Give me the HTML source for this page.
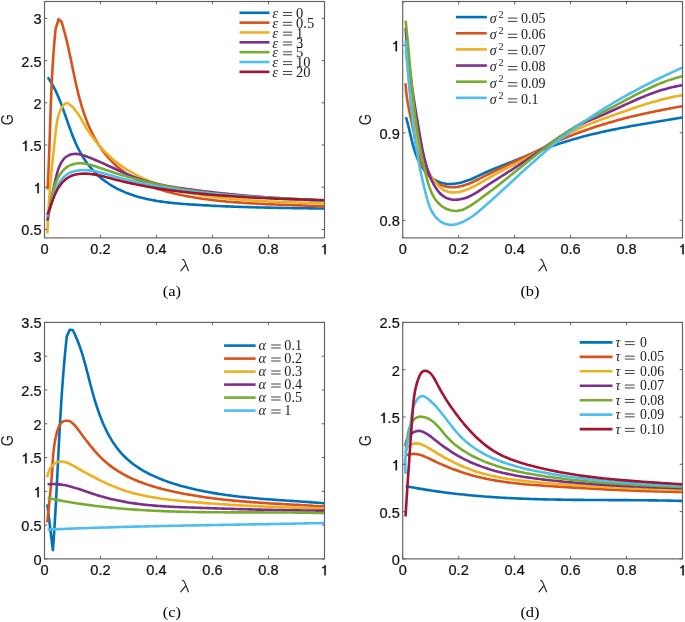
<!DOCTYPE html>
<html><head><meta charset="utf-8"><style>
html,body{margin:0;padding:0;background:#fff;}
svg{display:block;will-change:transform;}
text{font-kerning:none;}
</style></head><body>
<svg width="685" height="622" viewBox="0 0 685 622">
<rect width="685" height="622" fill="#fff"/>
<g fill="none" stroke-width="2.6" stroke-linejoin="round" stroke-linecap="butt">
<path d="M47.82,77.30 C48.37,78.12 48.94,78.94 49.48,79.77 C50.03,80.60 50.55,81.44 51.06,82.29 C51.57,83.13 52.07,83.99 52.56,84.86 C53.04,85.73 53.51,86.60 53.97,87.49 C54.43,88.37 54.88,89.26 55.32,90.16 C55.76,91.06 56.19,91.97 56.61,92.88 C57.03,93.79 57.43,94.71 57.83,95.64 C58.24,96.57 58.63,97.50 59.01,98.43 C59.40,99.37 59.78,100.31 60.15,101.26 C60.52,102.21 60.89,103.16 61.25,104.12 C61.61,105.07 61.97,106.03 62.32,107.00 C62.67,107.96 63.02,108.93 63.37,109.90 C63.72,110.87 64.06,111.84 64.40,112.81 C64.75,113.79 65.09,114.77 65.43,115.74 C65.77,116.72 66.11,117.70 66.45,118.68 C66.79,119.66 67.13,120.64 67.47,121.62 C67.81,122.60 68.15,123.59 68.50,124.57 C68.85,125.54 69.19,126.52 69.55,127.50 C69.90,128.48 70.25,129.45 70.61,130.43 C70.97,131.40 71.33,132.37 71.70,133.34 C72.07,134.31 72.44,135.27 72.82,136.23 C73.20,137.19 73.59,138.15 73.98,139.10 C74.38,140.05 74.78,141.00 75.19,141.94 C75.60,142.89 76.02,143.82 76.44,144.76 C76.87,145.69 77.31,146.61 77.75,147.53 C78.20,148.45 78.66,149.36 79.13,150.26 C79.59,151.17 80.07,152.06 80.57,152.95 C81.06,153.84 81.56,154.72 82.08,155.59 C82.60,156.46 83.13,157.32 83.67,158.18 C84.21,159.03 84.77,159.87 85.34,160.70 C85.91,161.53 86.49,162.36 87.09,163.17 C87.68,163.98 88.29,164.78 88.91,165.57 C89.53,166.36 90.16,167.14 90.81,167.90 C91.46,168.67 92.12,169.42 92.79,170.17 C93.46,170.91 94.15,171.64 94.85,172.35 C95.55,173.07 96.26,173.77 96.98,174.46 C97.71,175.15 98.45,175.82 99.20,176.48 C99.95,177.15 100.71,177.79 101.48,178.42 C102.26,179.06 103.05,179.67 103.84,180.28 C104.64,180.88 105.45,181.47 106.27,182.05 C107.09,182.62 107.92,183.18 108.76,183.73 C109.60,184.28 110.45,184.81 111.31,185.33 C112.17,185.85 113.04,186.36 113.91,186.85 C114.78,187.34 115.67,187.82 116.56,188.29 C117.44,188.75 118.34,189.20 119.24,189.64 C120.14,190.08 121.05,190.50 121.97,190.91 C122.88,191.33 123.80,191.72 124.72,192.11 C125.65,192.49 126.58,192.87 127.51,193.23 C128.45,193.59 129.39,193.94 130.33,194.27 C131.27,194.61 132.22,194.94 133.18,195.25 C134.13,195.57 135.09,195.87 136.05,196.16 C137.01,196.45 137.98,196.74 138.95,197.01 C139.92,197.28 140.90,197.54 141.87,197.79 C142.85,198.04 143.83,198.29 144.82,198.52 C145.80,198.75 146.79,198.98 147.78,199.19 C148.78,199.41 149.77,199.61 150.77,199.81 C151.77,200.01 152.77,200.20 153.77,200.38 C154.77,200.57 155.78,200.74 156.79,200.91 C157.80,201.08 158.81,201.23 159.82,201.39 C160.83,201.54 161.85,201.69 162.86,201.83 C163.88,201.97 164.90,202.10 165.92,202.23 C166.94,202.36 167.96,202.48 168.98,202.60 C170.01,202.72 171.03,202.83 172.06,202.94 C173.08,203.05 174.11,203.15 175.13,203.25 C176.16,203.35 177.19,203.44 178.22,203.53 C179.24,203.62 180.27,203.71 181.30,203.79 C182.33,203.88 183.36,203.96 184.39,204.03 C185.42,204.11 186.45,204.18 187.47,204.26 C188.50,204.33 189.53,204.40 190.56,204.47 C191.58,204.54 192.61,204.60 193.64,204.67 C194.66,204.73 195.69,204.79 196.71,204.86 C197.74,204.92 198.76,204.98 199.78,205.04 C200.81,205.10 201.83,205.16 202.85,205.22 C203.87,205.27 204.89,205.33 205.91,205.39 C206.93,205.44 207.95,205.50 208.96,205.55 C209.98,205.60 211.00,205.65 212.02,205.70 C213.03,205.76 214.05,205.81 215.06,205.85 C216.08,205.90 217.09,205.95 218.11,206.00 C219.12,206.04 220.14,206.09 221.15,206.13 C222.16,206.18 223.18,206.22 224.19,206.27 C225.20,206.31 226.21,206.35 227.22,206.39 C228.23,206.43 229.24,206.47 230.26,206.51 C231.27,206.55 232.28,206.59 233.29,206.63 C234.30,206.66 235.30,206.70 236.31,206.74 C237.32,206.77 238.33,206.81 239.34,206.84 C240.35,206.87 241.36,206.91 242.37,206.94 C243.37,206.97 244.38,207.01 245.39,207.04 C246.40,207.07 247.41,207.10 248.41,207.13 C249.42,207.16 250.43,207.19 251.44,207.21 C252.44,207.24 253.45,207.27 254.46,207.30 C255.47,207.32 256.47,207.35 257.48,207.38 C258.49,207.40 259.50,207.43 260.50,207.45 C261.51,207.48 262.52,207.50 263.53,207.52 C264.53,207.55 265.54,207.57 266.55,207.59 C267.56,207.62 268.57,207.64 269.58,207.66 C270.58,207.68 271.59,207.70 272.60,207.72 C273.61,207.74 274.62,207.76 275.63,207.78 C276.64,207.80 277.65,207.82 278.66,207.84 C279.67,207.86 280.68,207.88 281.69,207.90 C282.70,207.92 283.71,207.93 284.73,207.95 C285.74,207.97 286.75,207.99 287.76,208.00 C288.78,208.02 289.79,208.04 290.80,208.05 C291.82,208.07 292.83,208.09 293.85,208.10 C294.86,208.12 295.88,208.13 296.89,208.15 C297.91,208.16 298.93,208.18 299.94,208.19 C300.96,208.21 301.98,208.23 303.00,208.24 C304.02,208.25 305.04,208.27 306.06,208.28 C307.08,208.30 308.10,208.31 309.12,208.33 C310.15,208.34 311.17,208.36 312.19,208.37 C313.22,208.39 314.24,208.40 315.27,208.41 C316.29,208.43 317.32,208.44 318.35,208.46 C319.37,208.47 320.40,208.49 321.43,208.50 C322.46,208.52 323.49,208.53 324.52,208.55" stroke="#0072BD"/>
<path d="M47.60,189.50 C47.65,188.47 47.71,187.44 47.76,186.41 C47.81,185.39 47.87,184.36 47.92,183.33 C47.97,182.30 48.02,181.27 48.07,180.24 C48.12,179.21 48.17,178.18 48.21,177.15 C48.26,176.12 48.31,175.10 48.35,174.07 C48.40,173.04 48.44,172.01 48.49,170.98 C48.53,169.95 48.57,168.92 48.61,167.89 C48.66,166.86 48.70,165.83 48.74,164.80 C48.78,163.77 48.82,162.74 48.86,161.71 C48.90,160.68 48.94,159.65 48.98,158.62 C49.02,157.60 49.05,156.57 49.09,155.54 C49.13,154.51 49.17,153.48 49.20,152.45 C49.24,151.42 49.28,150.39 49.31,149.36 C49.35,148.33 49.38,147.30 49.42,146.27 C49.45,145.24 49.49,144.21 49.52,143.18 C49.56,142.15 49.59,141.12 49.63,140.09 C49.66,139.06 49.70,138.03 49.73,137.00 C49.76,135.97 49.80,134.94 49.83,133.91 C49.86,132.88 49.90,131.85 49.93,130.82 C49.97,129.79 50.00,128.76 50.03,127.73 C50.07,126.70 50.10,125.67 50.14,124.64 C50.17,123.61 50.21,122.58 50.24,121.55 C50.27,120.52 50.31,119.49 50.34,118.46 C50.38,117.43 50.41,116.40 50.45,115.37 C50.49,114.34 50.52,113.31 50.56,112.28 C50.59,111.25 50.63,110.22 50.67,109.19 C50.71,108.16 50.74,107.13 50.78,106.10 C50.82,105.07 50.86,104.04 50.90,103.02 C50.94,101.99 50.98,100.96 51.02,99.93 C51.06,98.90 51.10,97.87 51.14,96.84 C51.18,95.81 51.23,94.78 51.27,93.75 C51.31,92.72 51.36,91.69 51.40,90.66 C51.45,89.63 51.49,88.60 51.54,87.57 C51.59,86.55 51.63,85.52 51.68,84.49 C51.73,83.46 51.78,82.43 51.83,81.40 C51.88,80.37 51.93,79.34 51.99,78.31 C52.04,77.29 52.09,76.26 52.15,75.23 C52.20,74.20 52.26,73.17 52.32,72.14 C52.37,71.11 52.43,70.09 52.49,69.06 C52.55,68.03 52.61,67.00 52.67,65.97 C52.74,64.94 52.80,63.92 52.86,62.89 C52.93,61.86 53.00,60.83 53.06,59.80 C53.13,58.78 53.20,57.75 53.27,56.72 C53.34,55.69 53.42,54.67 53.49,53.64 C53.56,52.61 53.64,51.58 53.72,50.56 C53.79,49.53 53.87,48.50 53.95,47.47 C54.03,46.45 54.11,45.42 54.20,44.39 C54.28,43.37 54.37,42.34 54.46,41.31 C54.54,40.29 54.63,39.26 54.72,38.23 C54.82,37.21 54.91,36.18 55.00,35.16 C55.10,34.13 55.20,33.10 55.30,32.08 C55.39,31.05 55.50,30.03 55.60,29.00 L55.60,29.00 L58.60,19.20 L58.60,19.20 L61.50,21.80 L61.49,21.81 C61.78,22.76 62.09,23.71 62.38,24.66 C62.67,25.61 62.95,26.57 63.23,27.52 C63.51,28.48 63.78,29.44 64.04,30.40 C64.31,31.37 64.57,32.33 64.83,33.30 C65.09,34.27 65.34,35.24 65.59,36.21 C65.83,37.18 66.08,38.15 66.32,39.13 C66.56,40.10 66.79,41.08 67.02,42.06 C67.25,43.04 67.48,44.02 67.71,45.00 C67.93,45.98 68.16,46.96 68.38,47.95 C68.60,48.93 68.81,49.92 69.03,50.91 C69.24,51.90 69.45,52.88 69.67,53.87 C69.88,54.86 70.09,55.85 70.29,56.85 C70.50,57.84 70.71,58.83 70.92,59.82 C71.12,60.82 71.33,61.81 71.53,62.80 C71.74,63.80 71.94,64.79 72.15,65.79 C72.35,66.78 72.56,67.78 72.76,68.78 C72.97,69.77 73.17,70.77 73.38,71.76 C73.59,72.76 73.80,73.76 74.01,74.75 C74.22,75.75 74.43,76.74 74.64,77.74 C74.85,78.73 75.07,79.73 75.29,80.72 C75.51,81.72 75.72,82.71 75.95,83.70 C76.17,84.70 76.40,85.69 76.62,86.68 C76.85,87.67 77.09,88.66 77.32,89.65 C77.56,90.64 77.80,91.63 78.04,92.62 C78.28,93.61 78.53,94.59 78.79,95.58 C79.04,96.56 79.29,97.55 79.56,98.53 C79.82,99.51 80.09,100.49 80.36,101.47 C80.63,102.45 80.91,103.43 81.20,104.40 C81.48,105.38 81.77,106.35 82.07,107.32 C82.37,108.29 82.67,109.26 82.98,110.23 C83.29,111.20 83.61,112.16 83.93,113.13 C84.26,114.09 84.59,115.05 84.93,116.01 C85.27,116.96 85.62,117.92 85.97,118.87 C86.33,119.82 86.69,120.77 87.07,121.72 C87.44,122.67 87.82,123.61 88.21,124.55 C88.60,125.49 89.00,126.42 89.41,127.35 C89.82,128.29 90.23,129.21 90.66,130.13 C91.09,131.06 91.53,131.97 91.97,132.88 C92.42,133.80 92.88,134.70 93.34,135.60 C93.81,136.50 94.29,137.39 94.77,138.28 C95.26,139.17 95.76,140.05 96.27,140.92 C96.78,141.79 97.30,142.66 97.83,143.52 C98.36,144.37 98.90,145.22 99.46,146.07 C100.01,146.91 100.58,147.74 101.15,148.57 C101.73,149.39 102.32,150.20 102.92,151.01 C103.52,151.82 104.13,152.61 104.76,153.40 C105.38,154.19 106.01,154.96 106.66,155.73 C107.30,156.50 107.96,157.25 108.63,158.00 C109.29,158.75 109.97,159.48 110.66,160.21 C111.35,160.93 112.05,161.65 112.75,162.35 C113.46,163.05 114.18,163.75 114.91,164.43 C115.64,165.11 116.37,165.78 117.12,166.43 C117.87,167.09 118.62,167.73 119.39,168.37 C120.16,169.00 120.93,169.62 121.71,170.23 C122.50,170.83 123.29,171.43 124.09,172.01 C124.89,172.59 125.70,173.16 126.52,173.72 C127.34,174.28 128.16,174.83 129.00,175.36 C129.83,175.89 130.67,176.42 131.52,176.93 C132.37,177.44 133.22,177.94 134.09,178.43 C134.95,178.92 135.82,179.39 136.70,179.86 C137.58,180.33 138.46,180.78 139.35,181.23 C140.24,181.68 141.14,182.11 142.04,182.54 C142.94,182.96 143.85,183.38 144.77,183.78 C145.68,184.19 146.60,184.58 147.53,184.97 C148.45,185.35 149.38,185.73 150.32,186.10 C151.26,186.46 152.20,186.82 153.14,187.17 C154.09,187.52 155.04,187.86 155.99,188.19 C156.95,188.53 157.91,188.85 158.87,189.17 C159.83,189.48 160.80,189.79 161.77,190.09 C162.74,190.39 163.72,190.68 164.70,190.96 C165.67,191.25 166.66,191.52 167.64,191.79 C168.62,192.06 169.61,192.32 170.60,192.58 C171.59,192.83 172.58,193.08 173.58,193.32 C174.57,193.56 175.57,193.80 176.57,194.03 C177.57,194.26 178.57,194.48 179.57,194.70 C180.58,194.91 181.58,195.12 182.59,195.33 C183.59,195.53 184.60,195.73 185.61,195.93 C186.61,196.12 187.62,196.31 188.63,196.49 C189.64,196.68 190.65,196.86 191.66,197.03 C192.67,197.21 193.68,197.38 194.69,197.54 C195.70,197.71 196.71,197.87 197.72,198.02 C198.73,198.18 199.74,198.33 200.75,198.48 C201.76,198.63 202.76,198.78 203.77,198.92 C204.78,199.06 205.79,199.20 206.79,199.33 C207.80,199.47 208.81,199.60 209.81,199.73 C210.82,199.85 211.82,199.98 212.83,200.10 C213.84,200.22 214.84,200.34 215.85,200.45 C216.85,200.56 217.85,200.68 218.86,200.78 C219.86,200.89 220.87,201.00 221.87,201.10 C222.87,201.20 223.88,201.30 224.88,201.40 C225.88,201.49 226.88,201.58 227.89,201.68 C228.89,201.77 229.89,201.85 230.89,201.94 C231.90,202.02 232.90,202.11 233.90,202.19 C234.90,202.27 235.90,202.35 236.91,202.42 C237.91,202.50 238.91,202.57 239.91,202.64 C240.91,202.72 241.91,202.78 242.91,202.85 C243.92,202.92 244.92,202.98 245.92,203.05 C246.92,203.11 247.92,203.17 248.92,203.23 C249.92,203.29 250.92,203.35 251.93,203.41 C252.93,203.46 253.93,203.52 254.93,203.57 C255.93,203.62 256.93,203.68 257.93,203.73 C258.94,203.78 259.94,203.83 260.94,203.87 C261.94,203.92 262.94,203.97 263.95,204.01 C264.95,204.06 265.95,204.10 266.95,204.15 C267.96,204.19 268.96,204.23 269.96,204.27 C270.96,204.31 271.97,204.36 272.97,204.40 C273.97,204.44 274.98,204.47 275.98,204.51 C276.99,204.55 277.99,204.59 278.99,204.63 C280.00,204.67 281.00,204.70 282.01,204.74 C283.01,204.78 284.02,204.81 285.02,204.85 C286.03,204.89 287.04,204.92 288.04,204.96 C289.05,204.99 290.06,205.03 291.07,205.07 C292.07,205.10 293.08,205.14 294.09,205.18 C295.10,205.21 296.11,205.25 297.12,205.29 C298.13,205.32 299.14,205.36 300.15,205.40 C301.16,205.44 302.17,205.47 303.18,205.51 C304.19,205.55 305.20,205.59 306.22,205.63 C307.23,205.67 308.24,205.71 309.26,205.75 C310.27,205.80 311.28,205.84 312.30,205.88 C313.31,205.93 314.33,205.97 315.35,206.02 C316.36,206.06 317.38,206.11 318.40,206.16 C319.42,206.20 320.44,206.25 321.45,206.30 C322.47,206.36 323.49,206.41 324.51,206.46" stroke="#D95319"/>
<path d="M47.40,233.50 C47.43,232.49 47.47,231.47 47.50,230.46 C47.54,229.44 47.58,228.43 47.62,227.41 C47.66,226.40 47.70,225.39 47.75,224.37 C47.79,223.36 47.84,222.35 47.89,221.33 C47.93,220.32 47.98,219.31 48.03,218.30 C48.09,217.29 48.14,216.27 48.19,215.26 C48.25,214.25 48.31,213.24 48.36,212.23 C48.42,211.22 48.48,210.21 48.54,209.20 C48.61,208.19 48.67,207.18 48.73,206.17 C48.80,205.16 48.87,204.15 48.93,203.14 C49.00,202.13 49.07,201.12 49.14,200.11 C49.21,199.10 49.29,198.09 49.36,197.08 C49.44,196.08 49.51,195.07 49.59,194.06 C49.67,193.05 49.74,192.04 49.82,191.03 C49.90,190.03 49.98,189.02 50.07,188.01 C50.15,187.00 50.23,185.99 50.32,184.99 C50.40,183.98 50.49,182.97 50.58,181.96 C50.67,180.96 50.75,179.95 50.84,178.94 C50.93,177.94 51.03,176.93 51.12,175.92 C51.21,174.91 51.30,173.91 51.40,172.90 C51.49,171.89 51.59,170.89 51.69,169.88 C51.78,168.87 51.88,167.86 51.98,166.86 C52.08,165.85 52.18,164.84 52.28,163.84 C52.38,162.83 52.48,161.82 52.59,160.81 C52.69,159.81 52.79,158.80 52.90,157.79 C53.00,156.79 53.11,155.78 53.22,154.77 C53.32,153.76 53.43,152.76 53.54,151.75 C53.64,150.74 53.75,149.73 53.86,148.73 C53.97,147.72 54.08,146.71 54.19,145.70 C54.31,144.69 54.42,143.69 54.53,142.68 C54.64,141.67 54.76,140.66 54.87,139.65 C54.98,138.64 55.10,137.63 55.21,136.62 C55.33,135.62 55.44,134.61 55.56,133.60 C55.68,132.59 55.79,131.58 55.91,130.57 C56.03,129.56 56.14,128.55 56.26,127.54 C56.38,126.53 56.50,125.52 56.64,124.51 C56.77,123.50 56.91,122.50 57.08,121.49 C57.25,120.49 57.43,119.49 57.65,118.50 C57.87,117.51 58.11,116.52 58.40,115.55 C58.69,114.57 59.01,113.59 59.38,112.64 C59.76,111.67 60.18,110.72 60.65,109.78 C61.14,108.84 61.67,107.89 62.27,107.00 C62.87,106.10 63.50,105.10 64.25,104.42 C64.94,103.81 65.74,103.13 66.53,103.04 C67.30,102.94 68.18,103.38 68.94,103.79 C69.77,104.24 70.53,105.04 71.27,105.73 C72.01,106.41 72.71,107.14 73.39,107.89 C74.07,108.63 74.71,109.40 75.33,110.19 C75.95,110.98 76.55,111.79 77.12,112.61 C77.70,113.43 78.25,114.27 78.79,115.11 C79.33,115.96 79.86,116.82 80.37,117.69 C80.89,118.56 81.40,119.43 81.90,120.31 C82.41,121.19 82.91,122.07 83.41,122.96 C83.92,123.84 84.42,124.72 84.93,125.60 C85.45,126.48 85.97,127.35 86.50,128.22 C87.03,129.08 87.57,129.95 88.12,130.80 C88.67,131.66 89.23,132.51 89.80,133.35 C90.38,134.19 90.96,135.03 91.55,135.85 C92.14,136.68 92.74,137.51 93.34,138.32 C93.95,139.14 94.57,139.94 95.20,140.74 C95.82,141.54 96.46,142.34 97.11,143.12 C97.75,143.91 98.41,144.69 99.07,145.46 C99.73,146.23 100.40,146.99 101.08,147.74 C101.76,148.50 102.45,149.24 103.15,149.98 C103.85,150.72 104.55,151.45 105.27,152.17 C105.98,152.89 106.70,153.60 107.43,154.30 C108.16,155.01 108.90,155.70 109.65,156.38 C110.39,157.07 111.15,157.74 111.91,158.41 C112.67,159.08 113.44,159.73 114.22,160.38 C114.99,161.03 115.78,161.66 116.57,162.29 C117.36,162.92 118.16,163.53 118.97,164.14 C119.77,164.74 120.59,165.34 121.41,165.93 C122.23,166.51 123.05,167.09 123.89,167.65 C124.72,168.21 125.56,168.77 126.41,169.31 C127.26,169.85 128.11,170.38 128.97,170.90 C129.83,171.42 130.70,171.93 131.57,172.43 C132.45,172.93 133.33,173.42 134.21,173.90 C135.09,174.38 135.98,174.85 136.88,175.31 C137.77,175.77 138.67,176.22 139.58,176.66 C140.49,177.10 141.40,177.54 142.31,177.96 C143.23,178.38 144.15,178.80 145.07,179.20 C145.99,179.61 146.92,180.00 147.85,180.39 C148.78,180.78 149.72,181.16 150.66,181.53 C151.60,181.90 152.54,182.26 153.49,182.62 C154.44,182.97 155.39,183.32 156.34,183.66 C157.29,184.00 158.25,184.34 159.20,184.66 C160.16,184.99 161.12,185.31 162.09,185.62 C163.05,185.93 164.02,186.23 164.98,186.53 C165.95,186.83 166.92,187.12 167.89,187.41 C168.86,187.70 169.84,187.98 170.81,188.25 C171.78,188.52 172.76,188.79 173.73,189.05 C174.71,189.32 175.69,189.57 176.67,189.82 C177.65,190.08 178.63,190.32 179.61,190.56 C180.59,190.80 181.57,191.04 182.55,191.27 C183.54,191.50 184.52,191.72 185.50,191.94 C186.49,192.16 187.48,192.38 188.46,192.58 C189.45,192.79 190.44,193.00 191.43,193.20 C192.42,193.40 193.40,193.59 194.40,193.78 C195.39,193.97 196.38,194.16 197.37,194.34 C198.36,194.52 199.36,194.70 200.35,194.87 C201.34,195.04 202.34,195.21 203.34,195.37 C204.33,195.54 205.33,195.70 206.33,195.85 C207.32,196.01 208.32,196.16 209.32,196.30 C210.32,196.45 211.32,196.59 212.32,196.73 C213.32,196.87 214.32,197.01 215.32,197.14 C216.32,197.27 217.33,197.40 218.33,197.53 C219.33,197.65 220.34,197.77 221.34,197.89 C222.34,198.01 223.35,198.12 224.35,198.23 C225.36,198.34 226.37,198.45 227.37,198.55 C228.38,198.66 229.39,198.76 230.39,198.86 C231.40,198.96 232.41,199.05 233.42,199.15 C234.43,199.24 235.43,199.33 236.44,199.42 C237.45,199.50 238.46,199.59 239.47,199.67 C240.48,199.75 241.49,199.83 242.50,199.91 C243.52,199.98 244.53,200.06 245.54,200.13 C246.55,200.20 247.56,200.27 248.57,200.34 C249.59,200.41 250.60,200.47 251.61,200.54 C252.62,200.60 253.64,200.66 254.65,200.72 C255.66,200.78 256.68,200.84 257.69,200.89 C258.70,200.95 259.72,201.00 260.73,201.06 C261.75,201.11 262.76,201.16 263.77,201.21 C264.79,201.26 265.80,201.31 266.82,201.36 C267.83,201.40 268.85,201.45 269.86,201.49 C270.87,201.54 271.89,201.58 272.90,201.62 C273.92,201.67 274.93,201.71 275.95,201.75 C276.96,201.79 277.98,201.83 278.99,201.87 C280.01,201.91 281.02,201.94 282.03,201.98 C283.05,202.02 284.06,202.06 285.08,202.09 C286.09,202.13 287.11,202.16 288.12,202.20 C289.13,202.24 290.15,202.27 291.16,202.31 C292.17,202.34 293.19,202.38 294.20,202.41 C295.21,202.45 296.23,202.48 297.24,202.52 C298.25,202.55 299.26,202.58 300.28,202.62 C301.29,202.66 302.30,202.69 303.31,202.73 C304.32,202.76 305.33,202.80 306.35,202.84 C307.36,202.87 308.37,202.91 309.38,202.95 C310.39,202.99 311.40,203.02 312.41,203.06 C313.41,203.10 314.42,203.14 315.43,203.18 C316.44,203.23 317.45,203.27 318.45,203.31 C319.46,203.35 320.47,203.40 321.48,203.44 C322.48,203.49 323.49,203.54 324.49,203.58" stroke="#EDB120"/>
<path d="M47.39,220.70 C47.61,219.67 47.83,218.63 48.03,217.61 C48.24,216.59 48.44,215.58 48.64,214.57 C48.83,213.58 49.02,212.58 49.21,211.59 C49.40,210.61 49.58,209.63 49.76,208.65 C49.94,207.67 50.12,206.70 50.30,205.73 C50.47,204.77 50.65,203.80 50.82,202.84 C51.00,201.88 51.17,200.92 51.35,199.95 C51.53,198.99 51.70,198.03 51.88,197.07 C52.06,196.10 52.24,195.14 52.42,194.17 C52.61,193.20 52.79,192.23 52.99,191.25 C53.18,190.27 53.37,189.29 53.58,188.31 C53.78,187.31 53.99,186.32 54.20,185.32 C54.42,184.31 54.64,183.30 54.86,182.28 C55.09,181.25 55.33,180.22 55.58,179.18 C55.83,178.13 56.08,177.07 56.35,176.02 C56.62,174.96 56.90,173.89 57.20,172.84 C57.50,171.79 57.82,170.73 58.17,169.70 C58.52,168.68 58.88,167.67 59.29,166.69 C59.69,165.72 60.11,164.76 60.59,163.85 C61.06,162.95 61.55,162.08 62.11,161.26 C62.65,160.45 63.23,159.68 63.87,158.98 C64.50,158.29 65.18,157.65 65.91,157.08 C66.63,156.52 67.40,156.01 68.20,155.59 C68.99,155.17 69.83,154.81 70.69,154.54 C71.54,154.27 72.44,154.07 73.34,153.96 C74.25,153.84 75.18,153.82 76.11,153.86 C77.05,153.90 78.01,154.04 78.96,154.21 C79.93,154.38 80.90,154.63 81.87,154.89 C82.85,155.16 83.83,155.49 84.81,155.83 C85.79,156.16 86.77,156.54 87.74,156.91 C88.72,157.28 89.69,157.67 90.66,158.06 C91.63,158.44 92.59,158.84 93.55,159.23 C94.50,159.63 95.46,160.03 96.41,160.44 C97.36,160.85 98.30,161.26 99.25,161.67 C100.19,162.08 101.13,162.50 102.06,162.92 C103.00,163.34 103.93,163.76 104.87,164.18 C105.80,164.60 106.73,165.03 107.65,165.45 C108.58,165.87 109.50,166.30 110.43,166.72 C111.35,167.15 112.27,167.57 113.20,168.00 C114.12,168.42 115.04,168.84 115.96,169.26 C116.88,169.68 117.79,170.10 118.71,170.51 C119.63,170.93 120.55,171.34 121.47,171.75 C122.39,172.16 123.31,172.56 124.23,172.96 C125.15,173.36 126.07,173.76 127.00,174.15 C127.92,174.54 128.84,174.93 129.77,175.31 C130.70,175.69 131.62,176.06 132.55,176.43 C133.48,176.79 134.42,177.15 135.35,177.51 C136.29,177.86 137.22,178.20 138.17,178.54 C139.11,178.87 140.05,179.20 141.00,179.52 C141.95,179.83 142.90,180.14 143.85,180.44 C144.81,180.74 145.77,181.02 146.73,181.30 C147.70,181.58 148.66,181.85 149.63,182.11 C150.61,182.37 151.58,182.62 152.56,182.86 C153.53,183.11 154.51,183.34 155.49,183.57 C156.48,183.80 157.46,184.02 158.45,184.23 C159.44,184.45 160.43,184.65 161.42,184.85 C162.41,185.05 163.41,185.25 164.40,185.44 C165.40,185.63 166.40,185.81 167.40,185.99 C168.40,186.17 169.40,186.34 170.40,186.51 C171.40,186.68 172.41,186.84 173.41,187.00 C174.42,187.16 175.42,187.32 176.43,187.48 C177.43,187.63 178.44,187.78 179.45,187.93 C180.45,188.08 181.46,188.22 182.47,188.37 C183.48,188.51 184.48,188.66 185.49,188.80 C186.50,188.94 187.50,189.08 188.51,189.22 C189.52,189.35 190.53,189.49 191.53,189.63 C192.54,189.76 193.54,189.89 194.55,190.03 C195.56,190.16 196.56,190.29 197.57,190.42 C198.58,190.55 199.58,190.68 200.59,190.80 C201.59,190.93 202.60,191.06 203.60,191.18 C204.61,191.30 205.62,191.42 206.62,191.55 C207.63,191.67 208.63,191.79 209.64,191.90 C210.64,192.02 211.65,192.14 212.65,192.26 C213.66,192.37 214.66,192.49 215.67,192.60 C216.67,192.71 217.68,192.82 218.68,192.93 C219.69,193.04 220.69,193.15 221.70,193.26 C222.70,193.37 223.71,193.47 224.71,193.58 C225.72,193.68 226.72,193.79 227.73,193.89 C228.73,193.99 229.74,194.09 230.74,194.19 C231.75,194.29 232.75,194.39 233.76,194.49 C234.76,194.59 235.77,194.69 236.77,194.78 C237.78,194.88 238.78,194.97 239.79,195.06 C240.79,195.16 241.80,195.25 242.80,195.34 C243.81,195.43 244.81,195.52 245.82,195.61 C246.82,195.69 247.83,195.78 248.83,195.87 C249.84,195.95 250.84,196.04 251.85,196.12 C252.86,196.21 253.86,196.29 254.87,196.37 C255.87,196.45 256.88,196.53 257.88,196.61 C258.89,196.69 259.90,196.77 260.90,196.85 C261.91,196.93 262.91,197.00 263.92,197.08 C264.93,197.15 265.93,197.23 266.94,197.30 C267.95,197.37 268.95,197.45 269.96,197.52 C270.96,197.59 271.97,197.66 272.98,197.73 C273.99,197.80 274.99,197.87 276.00,197.93 C277.01,198.00 278.01,198.07 279.02,198.13 C280.03,198.20 281.04,198.26 282.05,198.33 C283.05,198.39 284.06,198.45 285.07,198.52 C286.08,198.58 287.09,198.64 288.10,198.70 C289.10,198.76 290.11,198.82 291.12,198.88 C292.13,198.93 293.14,198.99 294.15,199.05 C295.16,199.11 296.17,199.16 297.18,199.22 C298.19,199.27 299.20,199.33 300.21,199.38 C301.22,199.43 302.23,199.49 303.24,199.54 C304.25,199.59 305.26,199.64 306.27,199.69 C307.28,199.74 308.30,199.79 309.31,199.84 C310.32,199.89 311.33,199.94 312.34,199.98 C313.36,200.03 314.37,200.08 315.38,200.12 C316.40,200.17 317.41,200.21 318.42,200.26 C319.44,200.30 320.45,200.35 321.46,200.39 C322.48,200.43 323.49,200.48 324.51,200.52" stroke="#7E2F8E"/>
<path d="M47.40,216.89 C47.70,216.00 48.02,215.12 48.30,214.22 C48.58,213.30 48.83,212.37 49.07,211.43 C49.32,210.47 49.54,209.50 49.75,208.53 C49.97,207.54 50.17,206.54 50.37,205.54 C50.56,204.53 50.75,203.52 50.94,202.50 C51.13,201.47 51.32,200.44 51.51,199.40 C51.71,198.37 51.90,197.32 52.11,196.29 C52.31,195.24 52.52,194.20 52.75,193.16 C52.98,192.12 53.22,191.08 53.49,190.05 C53.75,189.01 54.03,187.98 54.33,186.97 C54.64,185.95 54.96,184.93 55.32,183.94 C55.68,182.94 56.07,181.95 56.49,180.98 C56.90,180.01 57.35,179.06 57.83,178.13 C58.31,177.20 58.81,176.30 59.36,175.42 C59.90,174.56 60.47,173.71 61.07,172.90 C61.67,172.10 62.31,171.33 62.98,170.61 C63.64,169.89 64.34,169.20 65.08,168.58 C65.81,167.95 66.57,167.37 67.37,166.85 C68.17,166.33 69.00,165.86 69.86,165.45 C70.71,165.05 71.60,164.70 72.51,164.40 C73.41,164.10 74.34,163.87 75.28,163.68 C76.22,163.50 77.18,163.37 78.14,163.29 C79.10,163.22 80.07,163.20 81.04,163.23 C82.01,163.26 82.99,163.35 83.96,163.47 C84.95,163.59 85.93,163.77 86.90,163.96 C87.89,164.17 88.87,164.41 89.85,164.67 C90.84,164.93 91.83,165.23 92.81,165.53 C93.80,165.83 94.79,166.17 95.78,166.50 C96.77,166.83 97.76,167.18 98.75,167.52 C99.74,167.86 100.72,168.21 101.71,168.55 C102.70,168.89 103.69,169.23 104.68,169.56 C105.66,169.90 106.65,170.23 107.64,170.56 C108.62,170.88 109.61,171.21 110.60,171.53 C111.58,171.85 112.57,172.17 113.56,172.48 C114.54,172.79 115.53,173.10 116.51,173.41 C117.50,173.72 118.48,174.02 119.47,174.32 C120.45,174.62 121.44,174.92 122.42,175.21 C123.40,175.51 124.39,175.80 125.37,176.09 C126.36,176.37 127.34,176.66 128.33,176.94 C129.31,177.22 130.30,177.50 131.28,177.77 C132.26,178.05 133.25,178.32 134.23,178.58 C135.22,178.85 136.20,179.12 137.19,179.38 C138.17,179.64 139.15,179.90 140.14,180.15 C141.12,180.41 142.11,180.66 143.09,180.91 C144.08,181.16 145.06,181.40 146.05,181.64 C147.03,181.89 148.02,182.12 149.00,182.36 C149.99,182.60 150.97,182.83 151.96,183.06 C152.95,183.29 153.93,183.51 154.92,183.74 C155.91,183.96 156.89,184.18 157.88,184.40 C158.87,184.61 159.86,184.83 160.85,185.04 C161.83,185.25 162.82,185.46 163.81,185.66 C164.80,185.86 165.79,186.07 166.78,186.26 C167.77,186.46 168.76,186.66 169.75,186.85 C170.74,187.04 171.73,187.23 172.73,187.42 C173.72,187.60 174.71,187.79 175.70,187.97 C176.70,188.15 177.69,188.32 178.68,188.50 C179.68,188.67 180.67,188.84 181.67,189.01 C182.67,189.18 183.66,189.34 184.66,189.50 C185.66,189.66 186.66,189.82 187.65,189.98 C188.65,190.14 189.65,190.29 190.65,190.44 C191.65,190.59 192.65,190.73 193.66,190.88 C194.66,191.02 195.66,191.16 196.66,191.30 C197.67,191.44 198.67,191.58 199.68,191.71 C200.68,191.84 201.69,191.97 202.69,192.10 C203.70,192.23 204.71,192.35 205.71,192.48 C206.72,192.60 207.73,192.72 208.74,192.84 C209.75,192.95 210.75,193.07 211.76,193.18 C212.77,193.29 213.78,193.41 214.80,193.51 C215.81,193.62 216.82,193.73 217.83,193.83 C218.84,193.94 219.85,194.04 220.87,194.14 C221.88,194.24 222.89,194.33 223.91,194.43 C224.92,194.53 225.93,194.62 226.95,194.71 C227.96,194.80 228.98,194.89 229.99,194.98 C231.01,195.07 232.03,195.15 233.04,195.24 C234.06,195.32 235.07,195.41 236.09,195.49 C237.11,195.57 238.12,195.65 239.14,195.72 C240.16,195.80 241.18,195.88 242.19,195.95 C243.21,196.03 244.23,196.10 245.25,196.17 C246.27,196.25 247.28,196.32 248.30,196.39 C249.32,196.46 250.34,196.52 251.36,196.59 C252.38,196.66 253.40,196.72 254.42,196.79 C255.43,196.85 256.45,196.92 257.47,196.98 C258.49,197.04 259.51,197.10 260.53,197.16 C261.55,197.22 262.57,197.28 263.59,197.34 C264.61,197.40 265.63,197.46 266.65,197.51 C267.67,197.57 268.69,197.63 269.70,197.68 C270.72,197.74 271.74,197.79 272.76,197.85 C273.78,197.90 274.80,197.96 275.82,198.01 C276.84,198.06 277.86,198.12 278.88,198.17 C279.89,198.22 280.91,198.27 281.93,198.32 C282.95,198.38 283.97,198.43 284.98,198.48 C286.00,198.53 287.02,198.58 288.04,198.63 C289.05,198.68 290.07,198.73 291.09,198.78 C292.10,198.83 293.12,198.88 294.14,198.93 C295.15,198.98 296.17,199.03 297.18,199.09 C298.20,199.14 299.21,199.19 300.23,199.24 C301.24,199.29 302.26,199.34 303.27,199.39 C304.28,199.44 305.30,199.49 306.31,199.55 C307.32,199.60 308.34,199.65 309.35,199.70 C310.36,199.76 311.37,199.81 312.38,199.86 C313.39,199.92 314.40,199.97 315.41,200.03 C316.42,200.08 317.43,200.14 318.44,200.19 C319.45,200.25 320.46,200.31 321.47,200.36 C322.47,200.42 323.48,200.48 324.49,200.54" stroke="#77AC30"/>
<path d="M47.41,215.30 C47.77,214.46 48.16,213.63 48.50,212.77 C48.85,211.88 49.18,210.97 49.49,210.04 C49.81,209.09 50.11,208.13 50.41,207.15 C50.71,206.16 50.99,205.16 51.28,204.15 C51.57,203.13 51.86,202.10 52.15,201.07 C52.44,200.03 52.73,198.99 53.04,197.95 C53.34,196.91 53.65,195.87 53.98,194.84 C54.31,193.81 54.65,192.79 55.02,191.78 C55.38,190.77 55.76,189.78 56.17,188.80 C56.58,187.83 57.01,186.88 57.48,185.95 C57.94,185.03 58.43,184.13 58.96,183.27 C59.48,182.41 60.03,181.57 60.62,180.77 C61.20,179.98 61.82,179.22 62.47,178.50 C63.11,177.78 63.78,177.10 64.49,176.46 C65.20,175.83 65.93,175.23 66.70,174.69 C67.47,174.15 68.27,173.66 69.10,173.22 C69.92,172.78 70.79,172.39 71.67,172.05 C72.55,171.71 73.47,171.42 74.39,171.18 C75.32,170.93 76.27,170.73 77.23,170.57 C78.20,170.41 79.18,170.29 80.16,170.21 C81.14,170.13 82.14,170.08 83.13,170.07 C84.13,170.06 85.13,170.08 86.13,170.13 C87.13,170.18 88.13,170.27 89.13,170.37 C90.13,170.48 91.13,170.62 92.13,170.77 C93.14,170.92 94.14,171.10 95.14,171.30 C96.14,171.49 97.14,171.71 98.14,171.94 C99.14,172.17 100.15,172.41 101.15,172.67 C102.15,172.92 103.15,173.19 104.15,173.47 C105.15,173.74 106.15,174.03 107.16,174.31 C108.16,174.60 109.16,174.89 110.16,175.18 C111.16,175.47 112.16,175.77 113.16,176.06 C114.16,176.34 115.16,176.63 116.16,176.91 C117.16,177.19 118.16,177.47 119.15,177.74 C120.15,178.01 121.15,178.28 122.15,178.55 C123.15,178.81 124.14,179.07 125.14,179.33 C126.14,179.58 127.13,179.83 128.13,180.08 C129.13,180.33 130.12,180.57 131.12,180.82 C132.12,181.06 133.11,181.29 134.11,181.53 C135.10,181.76 136.10,181.99 137.10,182.21 C138.09,182.44 139.09,182.66 140.08,182.88 C141.08,183.10 142.07,183.31 143.07,183.52 C144.06,183.74 145.05,183.94 146.05,184.15 C147.04,184.35 148.04,184.55 149.03,184.75 C150.03,184.95 151.02,185.15 152.02,185.34 C153.01,185.53 154.01,185.72 155.00,185.90 C156.00,186.09 156.99,186.27 157.99,186.45 C158.98,186.63 159.98,186.81 160.97,186.98 C161.97,187.15 162.96,187.32 163.96,187.49 C164.95,187.66 165.95,187.82 166.95,187.99 C167.94,188.15 168.94,188.31 169.93,188.47 C170.93,188.62 171.93,188.78 172.92,188.93 C173.92,189.08 174.92,189.23 175.92,189.38 C176.91,189.53 177.91,189.67 178.91,189.81 C179.91,189.96 180.91,190.10 181.91,190.23 C182.90,190.37 183.90,190.51 184.90,190.64 C185.90,190.77 186.90,190.91 187.90,191.04 C188.90,191.16 189.90,191.29 190.91,191.42 C191.91,191.54 192.91,191.67 193.91,191.79 C194.91,191.91 195.92,192.03 196.92,192.15 C197.93,192.26 198.93,192.38 199.93,192.50 C200.94,192.61 201.94,192.72 202.95,192.83 C203.96,192.94 204.96,193.05 205.97,193.16 C206.97,193.27 207.98,193.37 208.99,193.48 C210.00,193.58 211.00,193.69 212.01,193.79 C213.02,193.89 214.03,193.99 215.04,194.09 C216.05,194.18 217.06,194.28 218.07,194.38 C219.08,194.47 220.09,194.57 221.10,194.66 C222.11,194.75 223.12,194.84 224.13,194.93 C225.14,195.02 226.16,195.11 227.17,195.19 C228.18,195.28 229.19,195.37 230.21,195.45 C231.22,195.53 232.23,195.62 233.24,195.70 C234.26,195.78 235.27,195.86 236.28,195.94 C237.30,196.02 238.31,196.09 239.33,196.17 C240.34,196.25 241.35,196.32 242.37,196.40 C243.38,196.47 244.40,196.54 245.41,196.61 C246.43,196.69 247.44,196.76 248.46,196.83 C249.47,196.90 250.49,196.96 251.50,197.03 C252.52,197.10 253.54,197.17 254.55,197.23 C255.57,197.30 256.58,197.36 257.60,197.42 C258.61,197.49 259.63,197.55 260.65,197.61 C261.66,197.67 262.68,197.73 263.69,197.79 C264.71,197.85 265.73,197.91 266.74,197.97 C267.76,198.03 268.77,198.09 269.79,198.14 C270.81,198.20 271.82,198.26 272.84,198.31 C273.85,198.37 274.87,198.42 275.89,198.48 C276.90,198.53 277.92,198.58 278.93,198.63 C279.95,198.69 280.96,198.74 281.98,198.79 C283.00,198.84 284.01,198.89 285.03,198.94 C286.04,198.99 287.06,199.04 288.07,199.09 C289.09,199.14 290.10,199.19 291.11,199.23 C292.13,199.28 293.14,199.33 294.16,199.38 C295.17,199.42 296.19,199.47 297.20,199.52 C298.21,199.56 299.23,199.61 300.24,199.65 C301.25,199.70 302.27,199.74 303.28,199.79 C304.29,199.83 305.30,199.88 306.31,199.92 C307.33,199.97 308.34,200.01 309.35,200.05 C310.36,200.10 311.37,200.14 312.38,200.18 C313.39,200.23 314.40,200.27 315.41,200.31 C316.42,200.35 317.43,200.40 318.44,200.44 C319.45,200.48 320.46,200.52 321.47,200.57 C322.48,200.61 323.48,200.65 324.49,200.69" stroke="#4DBEEE"/>
<path d="M47.41,214.61 C47.77,213.73 48.14,212.88 48.49,211.99 C48.84,211.08 49.18,210.14 49.53,209.20 C49.87,208.24 50.21,207.26 50.55,206.28 C50.90,205.29 51.24,204.29 51.59,203.28 C51.95,202.27 52.30,201.26 52.67,200.25 C53.05,199.23 53.42,198.21 53.82,197.21 C54.22,196.20 54.62,195.20 55.05,194.22 C55.48,193.24 55.93,192.26 56.41,191.31 C56.88,190.37 57.37,189.44 57.90,188.54 C58.42,187.65 58.97,186.78 59.55,185.94 C60.13,185.12 60.74,184.31 61.38,183.55 C62.01,182.79 62.67,182.06 63.37,181.37 C64.05,180.69 64.77,180.04 65.52,179.43 C66.27,178.84 67.04,178.28 67.84,177.77 C68.64,177.26 69.47,176.80 70.32,176.39 C71.18,175.98 72.06,175.62 72.96,175.31 C73.86,174.99 74.79,174.74 75.73,174.52 C76.68,174.29 77.64,174.12 78.61,173.99 C79.58,173.85 80.57,173.75 81.55,173.69 C82.55,173.63 83.55,173.61 84.55,173.61 C85.55,173.61 86.56,173.65 87.56,173.71 C88.57,173.78 89.57,173.87 90.58,173.98 C91.59,174.09 92.59,174.23 93.60,174.39 C94.61,174.55 95.62,174.73 96.63,174.92 C97.64,175.11 98.65,175.33 99.65,175.55 C100.66,175.77 101.67,176.01 102.68,176.26 C103.69,176.50 104.70,176.76 105.71,177.02 C106.72,177.28 107.73,177.55 108.74,177.81 C109.75,178.08 110.76,178.36 111.77,178.62 C112.78,178.89 113.79,179.16 114.80,179.42 C115.81,179.69 116.82,179.95 117.82,180.20 C118.83,180.45 119.84,180.70 120.85,180.95 C121.85,181.20 122.86,181.44 123.86,181.68 C124.87,181.92 125.88,182.15 126.88,182.38 C127.89,182.61 128.89,182.84 129.90,183.06 C130.90,183.28 131.91,183.50 132.91,183.71 C133.92,183.93 134.92,184.14 135.93,184.35 C136.93,184.56 137.93,184.76 138.94,184.96 C139.94,185.16 140.94,185.36 141.95,185.55 C142.95,185.75 143.95,185.94 144.96,186.12 C145.96,186.31 146.96,186.49 147.97,186.67 C148.97,186.85 149.97,187.03 150.98,187.20 C151.98,187.38 152.98,187.55 153.98,187.72 C154.99,187.89 155.99,188.05 156.99,188.21 C158.00,188.37 159.00,188.53 160.00,188.69 C161.00,188.85 162.01,189.00 163.01,189.15 C164.01,189.30 165.02,189.45 166.02,189.59 C167.02,189.74 168.03,189.88 169.03,190.02 C170.04,190.16 171.04,190.30 172.04,190.44 C173.05,190.57 174.05,190.70 175.06,190.83 C176.06,190.96 177.07,191.09 178.07,191.22 C179.08,191.34 180.08,191.47 181.09,191.59 C182.10,191.71 183.10,191.83 184.11,191.95 C185.12,192.07 186.12,192.18 187.13,192.29 C188.14,192.41 189.15,192.52 190.15,192.63 C191.16,192.74 192.17,192.85 193.18,192.95 C194.19,193.06 195.20,193.16 196.21,193.27 C197.22,193.37 198.23,193.47 199.24,193.57 C200.25,193.67 201.26,193.77 202.27,193.86 C203.29,193.96 204.30,194.05 205.31,194.15 C206.33,194.24 207.34,194.33 208.35,194.42 C209.37,194.51 210.38,194.60 211.39,194.69 C212.41,194.78 213.42,194.86 214.44,194.95 C215.45,195.03 216.47,195.11 217.49,195.19 C218.50,195.28 219.52,195.36 220.53,195.43 C221.55,195.51 222.57,195.59 223.59,195.67 C224.60,195.74 225.62,195.82 226.64,195.89 C227.66,195.96 228.67,196.04 229.69,196.11 C230.71,196.18 231.73,196.25 232.75,196.32 C233.77,196.39 234.79,196.45 235.81,196.52 C236.83,196.59 237.85,196.65 238.86,196.71 C239.88,196.78 240.90,196.84 241.92,196.90 C242.94,196.96 243.97,197.02 244.99,197.08 C246.01,197.14 247.03,197.20 248.05,197.26 C249.07,197.32 250.09,197.37 251.11,197.43 C252.13,197.48 253.15,197.54 254.17,197.59 C255.19,197.64 256.21,197.70 257.24,197.75 C258.26,197.80 259.28,197.85 260.30,197.90 C261.32,197.95 262.34,198.00 263.36,198.05 C264.39,198.09 265.41,198.14 266.43,198.19 C267.45,198.23 268.47,198.28 269.49,198.32 C270.51,198.37 271.54,198.41 272.56,198.45 C273.58,198.50 274.60,198.54 275.62,198.58 C276.64,198.62 277.66,198.66 278.68,198.71 C279.70,198.75 280.73,198.79 281.75,198.82 C282.77,198.86 283.79,198.90 284.81,198.94 C285.83,198.98 286.85,199.01 287.87,199.05 C288.89,199.09 289.91,199.12 290.93,199.16 C291.95,199.20 292.97,199.23 293.99,199.27 C295.01,199.30 296.03,199.33 297.05,199.37 C298.07,199.40 299.08,199.43 300.10,199.47 C301.12,199.50 302.14,199.53 303.16,199.56 C304.18,199.60 305.19,199.63 306.21,199.66 C307.23,199.69 308.25,199.72 309.26,199.75 C310.28,199.78 311.30,199.81 312.31,199.84 C313.33,199.87 314.35,199.90 315.36,199.93 C316.38,199.96 317.39,199.99 318.41,200.02 C319.42,200.05 320.44,200.08 321.45,200.11 C322.47,200.14 323.48,200.17 324.49,200.19" stroke="#A2142F"/>
</g>
<rect x="44.5" y="1.5" width="280.00" height="236.40" fill="none" stroke="#606060" stroke-width="1.15"/>
<path d="M44.50,237.9v-2.8 M44.50,1.5v2.8 M100.50,237.9v-2.8 M100.50,1.5v2.8 M156.50,237.9v-2.8 M156.50,1.5v2.8 M212.50,237.9v-2.8 M212.50,1.5v2.8 M268.50,237.9v-2.8 M268.50,1.5v2.8 M324.50,237.9v-2.8 M324.50,1.5v2.8 M44.5,229.46h2.8 M324.5,229.46h-2.8 M44.5,187.24h2.8 M324.5,187.24h-2.8 M44.5,145.03h2.8 M324.5,145.03h-2.8 M44.5,102.81h2.8 M324.5,102.81h-2.8 M44.5,60.60h2.8 M324.5,60.60h-2.8 M44.5,18.39h2.8 M324.5,18.39h-2.8" stroke="#606060" stroke-width="1" fill="none"/>
<g font-family="Liberation Sans" font-size="14.6" fill="#111" stroke="#111" stroke-width="0.22"><text x="40.44" y="254.35">0</text><text x="90.35" y="254.35">0.2</text><text x="146.35" y="254.35">0.4</text><text x="202.35" y="254.35">0.6</text><text x="258.35" y="254.35">0.8</text><path d="M325.77,254.35 L324.31,254.35 L324.31,246.61 C323.65,247.20 322.78,247.34 322.05,247.34 L322.05,246.25 C323.36,246.17 324.09,245.44 324.46,244.13 L325.77,244.13 Z"/><text x="21.31" y="235.36">0.5</text><path d="M38.81,193.14 L37.35,193.14 L37.35,185.40 C36.69,185.99 35.82,186.13 35.09,186.13 L35.09,185.04 C36.40,184.97 37.13,184.24 37.50,182.92 L38.81,182.92 Z"/><path d="M26.64,150.93 L25.18,150.93 L25.18,143.19 C24.52,143.77 23.64,143.92 22.91,143.92 L22.91,142.83 C24.23,142.75 24.96,142.02 25.32,140.71 L26.64,140.71 Z"/><text x="29.42" y="150.93">.5</text><text x="33.48" y="108.71">2</text><text x="21.31" y="66.50">2.5</text><text x="33.48" y="24.29">3</text></g>
<text transform="translate(13.00,119.70) rotate(-90) scale(0.9,1)" text-anchor="middle" font-family="Liberation Sans" font-size="16" fill="#1a1a1a">G</text>
<path d="M182.60,259.40 Q184.00,259.40 184.80,261.60 L188.40,270.80 M185.20,265.30 L180.80,270.90" fill="none" stroke="#222" stroke-width="1.15" stroke-linecap="round"/>
<text x="171.90" y="295.70" text-anchor="middle" font-family="Liberation Serif" font-size="15.6" textLength="18.27" lengthAdjust="spacingAndGlyphs" fill="#000">(a)</text>
<g fill="#1a1a1a"><line x1="239.5" x2="269.5" y1="12.80" y2="12.80" stroke="#0072BD" stroke-width="2.6"/><text x="272.2" y="18.10" font-family="Liberation Serif" font-style="italic" font-size="14.5">&#949;</text><line x1="283" x2="292.2" y1="12.50" y2="12.50" stroke="#222" stroke-width="0.85"/><line x1="283" x2="292.2" y1="15.40" y2="15.40" stroke="#222" stroke-width="0.85"/><text x="296" y="18.10" font-family="Liberation Serif" font-size="14.5">0</text><line x1="239.5" x2="269.5" y1="22.64" y2="22.64" stroke="#D95319" stroke-width="2.6"/><text x="272.2" y="27.94" font-family="Liberation Serif" font-style="italic" font-size="14.5">&#949;</text><line x1="283" x2="292.2" y1="22.34" y2="22.34" stroke="#222" stroke-width="0.85"/><line x1="283" x2="292.2" y1="25.24" y2="25.24" stroke="#222" stroke-width="0.85"/><text x="296" y="27.94" font-family="Liberation Serif" font-size="14.5">0.5</text><line x1="239.5" x2="269.5" y1="32.48" y2="32.48" stroke="#EDB120" stroke-width="2.6"/><text x="272.2" y="37.78" font-family="Liberation Serif" font-style="italic" font-size="14.5">&#949;</text><line x1="283" x2="292.2" y1="32.18" y2="32.18" stroke="#222" stroke-width="0.85"/><line x1="283" x2="292.2" y1="35.08" y2="35.08" stroke="#222" stroke-width="0.85"/><text x="296" y="37.78" font-family="Liberation Serif" font-size="14.5">1</text><line x1="239.5" x2="269.5" y1="42.32" y2="42.32" stroke="#7E2F8E" stroke-width="2.6"/><text x="272.2" y="47.62" font-family="Liberation Serif" font-style="italic" font-size="14.5">&#949;</text><line x1="283" x2="292.2" y1="42.02" y2="42.02" stroke="#222" stroke-width="0.85"/><line x1="283" x2="292.2" y1="44.92" y2="44.92" stroke="#222" stroke-width="0.85"/><text x="296" y="47.62" font-family="Liberation Serif" font-size="14.5">3</text><line x1="239.5" x2="269.5" y1="52.16" y2="52.16" stroke="#77AC30" stroke-width="2.6"/><text x="272.2" y="57.46" font-family="Liberation Serif" font-style="italic" font-size="14.5">&#949;</text><line x1="283" x2="292.2" y1="51.86" y2="51.86" stroke="#222" stroke-width="0.85"/><line x1="283" x2="292.2" y1="54.76" y2="54.76" stroke="#222" stroke-width="0.85"/><text x="296" y="57.46" font-family="Liberation Serif" font-size="14.5">5</text><line x1="239.5" x2="269.5" y1="62.00" y2="62.00" stroke="#4DBEEE" stroke-width="2.6"/><text x="272.2" y="67.30" font-family="Liberation Serif" font-style="italic" font-size="14.5">&#949;</text><line x1="283" x2="292.2" y1="61.70" y2="61.70" stroke="#222" stroke-width="0.85"/><line x1="283" x2="292.2" y1="64.60" y2="64.60" stroke="#222" stroke-width="0.85"/><text x="296" y="67.30" font-family="Liberation Serif" font-size="14.5">10</text><line x1="239.5" x2="269.5" y1="71.84" y2="71.84" stroke="#A2142F" stroke-width="2.6"/><text x="272.2" y="77.14" font-family="Liberation Serif" font-style="italic" font-size="14.5">&#949;</text><line x1="283" x2="292.2" y1="71.54" y2="71.54" stroke="#222" stroke-width="0.85"/><line x1="283" x2="292.2" y1="74.44" y2="74.44" stroke="#222" stroke-width="0.85"/><text x="296" y="77.14" font-family="Liberation Serif" font-size="14.5">20</text></g>
<g fill="none" stroke-width="2.6" stroke-linejoin="round" stroke-linecap="butt">
<path d="M405.90,117.11 C406.18,118.02 406.47,118.92 406.75,119.83 C407.02,120.75 407.28,121.69 407.53,122.63 C407.79,123.57 408.03,124.53 408.27,125.48 C408.51,126.45 408.75,127.42 408.98,128.40 C409.21,129.38 409.44,130.36 409.67,131.35 C409.90,132.34 410.12,133.34 410.35,134.34 C410.58,135.34 410.81,136.34 411.05,137.34 C411.28,138.35 411.52,139.36 411.76,140.36 C412.01,141.37 412.26,142.38 412.52,143.38 C412.78,144.39 413.05,145.40 413.33,146.40 C413.61,147.40 413.90,148.40 414.20,149.39 C414.51,150.38 414.82,151.37 415.16,152.35 C415.49,153.33 415.84,154.31 416.21,155.27 C416.57,156.24 416.96,157.20 417.36,158.15 C417.77,159.09 418.19,160.03 418.64,160.96 C419.09,161.88 419.56,162.80 420.06,163.70 C420.56,164.60 421.08,165.48 421.63,166.35 C422.17,167.22 422.74,168.08 423.34,168.91 C423.94,169.74 424.56,170.55 425.20,171.34 C425.84,172.12 426.50,172.89 427.19,173.62 C427.88,174.35 428.59,175.06 429.32,175.73 C430.05,176.40 430.80,177.05 431.57,177.65 C432.34,178.25 433.13,178.83 433.94,179.36 C434.74,179.88 435.57,180.38 436.42,180.82 C437.26,181.26 438.13,181.67 439.01,182.02 C439.89,182.38 440.79,182.69 441.70,182.94 C442.62,183.20 443.55,183.41 444.49,183.57 C445.43,183.74 446.39,183.85 447.35,183.93 C448.31,184.00 449.29,184.03 450.26,184.02 C451.24,184.02 452.23,183.97 453.22,183.89 C454.21,183.80 455.21,183.68 456.20,183.53 C457.20,183.38 458.20,183.19 459.19,182.98 C460.19,182.77 461.19,182.52 462.17,182.25 C463.16,181.98 464.15,181.68 465.13,181.36 C466.11,181.04 467.08,180.69 468.05,180.33 C469.01,179.97 469.97,179.58 470.93,179.19 C471.89,178.79 472.84,178.38 473.79,177.96 C474.73,177.54 475.68,177.11 476.62,176.68 C477.56,176.25 478.50,175.80 479.43,175.36 C480.37,174.92 481.30,174.48 482.23,174.04 C483.16,173.61 484.09,173.17 485.02,172.74 C485.95,172.32 486.88,171.90 487.81,171.49 C488.73,171.08 489.66,170.67 490.59,170.28 C491.51,169.88 492.44,169.49 493.37,169.10 C494.29,168.71 495.22,168.33 496.14,167.96 C497.07,167.58 497.99,167.21 498.92,166.83 C499.85,166.46 500.77,166.10 501.70,165.73 C502.62,165.36 503.55,165.00 504.48,164.63 C505.40,164.27 506.33,163.91 507.26,163.54 C508.19,163.18 509.12,162.82 510.04,162.45 C510.97,162.08 511.90,161.72 512.83,161.35 C513.76,160.98 514.70,160.61 515.63,160.24 C516.56,159.87 517.49,159.50 518.43,159.13 C519.36,158.75 520.29,158.38 521.23,158.01 C522.17,157.64 523.10,157.26 524.04,156.89 C524.97,156.52 525.91,156.14 526.85,155.77 C527.79,155.40 528.73,155.03 529.67,154.66 C530.61,154.28 531.55,153.91 532.49,153.54 C533.43,153.17 534.38,152.81 535.32,152.44 C536.26,152.07 537.21,151.71 538.15,151.34 C539.10,150.98 540.04,150.62 540.99,150.26 C541.94,149.90 542.89,149.54 543.84,149.18 C544.78,148.83 545.73,148.48 546.69,148.13 C547.64,147.78 548.59,147.43 549.54,147.08 C550.49,146.74 551.45,146.40 552.40,146.06 C553.36,145.72 554.31,145.39 555.27,145.06 C556.22,144.72 557.18,144.40 558.14,144.07 C559.10,143.75 560.06,143.43 561.02,143.12 C561.98,142.80 562.94,142.49 563.90,142.18 C564.87,141.88 565.83,141.58 566.79,141.28 C567.76,140.98 568.72,140.68 569.69,140.39 C570.66,140.10 571.62,139.82 572.59,139.53 C573.56,139.25 574.53,138.97 575.50,138.70 C576.47,138.42 577.44,138.15 578.41,137.88 C579.38,137.61 580.35,137.35 581.33,137.08 C582.30,136.82 583.27,136.56 584.25,136.31 C585.22,136.05 586.20,135.80 587.17,135.55 C588.15,135.30 589.13,135.06 590.11,134.82 C591.08,134.57 592.06,134.34 593.04,134.10 C594.02,133.86 595.00,133.63 595.98,133.40 C596.96,133.17 597.94,132.94 598.92,132.71 C599.90,132.49 600.89,132.27 601.87,132.04 C602.85,131.82 603.84,131.61 604.82,131.39 C605.81,131.18 606.79,130.96 607.78,130.75 C608.76,130.54 609.75,130.33 610.73,130.13 C611.72,129.92 612.71,129.72 613.69,129.52 C614.68,129.31 615.67,129.12 616.66,128.92 C617.65,128.72 618.64,128.52 619.62,128.33 C620.61,128.14 621.60,127.94 622.59,127.75 C623.58,127.56 624.58,127.37 625.57,127.19 C626.56,127.00 627.55,126.81 628.54,126.63 C629.53,126.45 630.52,126.26 631.52,126.08 C632.51,125.90 633.50,125.72 634.50,125.54 C635.49,125.36 636.48,125.18 637.48,125.01 C638.47,124.83 639.46,124.66 640.46,124.48 C641.45,124.31 642.45,124.13 643.44,123.96 C644.44,123.79 645.43,123.62 646.43,123.45 C647.42,123.28 648.42,123.11 649.41,122.94 C650.41,122.77 651.41,122.60 652.40,122.43 C653.40,122.26 654.39,122.09 655.39,121.92 C656.39,121.76 657.38,121.59 658.38,121.42 C659.38,121.26 660.37,121.09 661.37,120.92 C662.37,120.76 663.36,120.59 664.36,120.42 C665.36,120.26 666.35,120.09 667.35,119.92 C668.35,119.76 669.34,119.59 670.34,119.42 C671.34,119.26 672.34,119.09 673.33,118.92 C674.33,118.76 675.33,118.59 676.32,118.42 C677.32,118.25 678.32,118.08 679.31,117.92 C680.31,117.75 681.31,117.58 682.30,117.41" stroke="#0072BD"/>
<path d="M405.60,83.30 C405.66,84.34 405.70,85.38 405.77,86.41 C405.84,87.44 405.92,88.47 406.01,89.49 C406.10,90.50 406.20,91.52 406.31,92.53 C406.42,93.54 406.54,94.54 406.67,95.54 C406.80,96.54 406.94,97.53 407.08,98.52 C407.23,99.51 407.38,100.50 407.54,101.49 C407.70,102.47 407.87,103.45 408.04,104.43 C408.21,105.41 408.39,106.39 408.57,107.36 C408.75,108.34 408.94,109.31 409.13,110.28 C409.33,111.25 409.52,112.23 409.72,113.20 C409.92,114.17 410.12,115.14 410.33,116.11 C410.53,117.08 410.74,118.05 410.95,119.02 C411.16,120.00 411.37,120.97 411.58,121.95 C411.79,122.92 412.00,123.90 412.21,124.88 C412.42,125.86 412.63,126.84 412.84,127.82 C413.04,128.81 413.25,129.80 413.46,130.79 C413.66,131.78 413.86,132.77 414.06,133.77 C414.26,134.77 414.46,135.78 414.65,136.78 C414.85,137.79 415.04,138.80 415.24,139.81 C415.43,140.82 415.63,141.83 415.83,142.84 C416.03,143.85 416.24,144.86 416.45,145.87 C416.66,146.88 416.88,147.89 417.11,148.89 C417.34,149.89 417.57,150.89 417.82,151.89 C418.07,152.88 418.33,153.87 418.61,154.85 C418.88,155.83 419.17,156.80 419.47,157.77 C419.78,158.73 420.10,159.69 420.44,160.64 C420.78,161.58 421.13,162.52 421.51,163.44 C421.89,164.37 422.29,165.28 422.72,166.18 C423.14,167.08 423.59,167.96 424.07,168.83 C424.54,169.70 425.04,170.56 425.57,171.40 C426.10,172.23 426.66,173.06 427.25,173.86 C427.84,174.66 428.46,175.45 429.11,176.21 C429.77,176.97 430.45,177.72 431.17,178.43 C431.89,179.14 432.63,179.82 433.41,180.47 C434.18,181.12 434.98,181.73 435.81,182.30 C436.64,182.86 437.50,183.39 438.38,183.87 C439.26,184.34 440.17,184.77 441.09,185.14 C442.02,185.52 442.96,185.84 443.92,186.11 C444.88,186.38 445.85,186.61 446.83,186.78 C447.81,186.96 448.79,187.09 449.78,187.17 C450.76,187.25 451.75,187.28 452.74,187.27 C453.72,187.26 454.70,187.20 455.67,187.11 C456.65,187.02 457.62,186.88 458.59,186.71 C459.56,186.53 460.52,186.32 461.48,186.08 C462.44,185.85 463.40,185.57 464.35,185.27 C465.30,184.98 466.25,184.65 467.20,184.30 C468.15,183.95 469.09,183.57 470.03,183.18 C470.97,182.79 471.91,182.38 472.84,181.96 C473.78,181.53 474.71,181.09 475.64,180.65 C476.58,180.20 477.50,179.74 478.43,179.27 C479.36,178.81 480.28,178.34 481.20,177.87 C482.13,177.40 483.05,176.92 483.97,176.45 C484.88,175.99 485.80,175.52 486.72,175.06 C487.63,174.60 488.55,174.14 489.46,173.69 C490.37,173.24 491.29,172.79 492.20,172.34 C493.11,171.90 494.02,171.45 494.93,171.01 C495.83,170.57 496.74,170.14 497.65,169.70 C498.55,169.27 499.46,168.84 500.36,168.41 C501.27,167.98 502.17,167.55 503.08,167.12 C503.98,166.70 504.88,166.27 505.78,165.84 C506.69,165.42 507.59,165.00 508.49,164.57 C509.39,164.15 510.29,163.72 511.19,163.30 C512.09,162.87 512.99,162.45 513.89,162.03 C514.79,161.60 515.70,161.17 516.60,160.75 C517.50,160.32 518.40,159.89 519.30,159.46 C520.20,159.03 521.10,158.60 522.00,158.16 C522.90,157.73 523.80,157.29 524.71,156.85 C525.61,156.42 526.51,155.98 527.41,155.54 C528.32,155.10 529.22,154.66 530.12,154.22 C531.03,153.78 531.93,153.33 532.84,152.89 C533.74,152.45 534.65,152.01 535.55,151.57 C536.46,151.13 537.37,150.69 538.27,150.25 C539.18,149.81 540.09,149.37 541.00,148.93 C541.91,148.49 542.82,148.05 543.73,147.62 C544.64,147.18 545.55,146.75 546.47,146.32 C547.38,145.89 548.30,145.46 549.21,145.03 C550.13,144.60 551.04,144.18 551.96,143.76 C552.88,143.33 553.80,142.92 554.72,142.50 C555.64,142.08 556.56,141.67 557.48,141.26 C558.41,140.85 559.33,140.45 560.26,140.05 C561.18,139.65 562.11,139.25 563.04,138.86 C563.97,138.46 564.90,138.07 565.83,137.69 C566.76,137.30 567.69,136.92 568.63,136.55 C569.56,136.17 570.50,135.80 571.44,135.43 C572.37,135.06 573.31,134.69 574.25,134.33 C575.19,133.97 576.13,133.61 577.07,133.26 C578.02,132.90 578.96,132.55 579.90,132.20 C580.85,131.86 581.79,131.51 582.74,131.17 C583.69,130.83 584.64,130.50 585.59,130.17 C586.54,129.83 587.49,129.50 588.44,129.18 C589.39,128.85 590.34,128.53 591.30,128.21 C592.25,127.89 593.21,127.58 594.16,127.26 C595.12,126.95 596.08,126.64 597.03,126.34 C597.99,126.03 598.95,125.73 599.91,125.43 C600.87,125.13 601.83,124.83 602.80,124.54 C603.76,124.24 604.72,123.95 605.69,123.67 C606.65,123.38 607.62,123.10 608.58,122.81 C609.55,122.53 610.52,122.25 611.48,121.98 C612.45,121.70 613.42,121.43 614.39,121.16 C615.36,120.89 616.33,120.63 617.30,120.36 C618.28,120.10 619.25,119.84 620.22,119.58 C621.19,119.32 622.17,119.06 623.14,118.81 C624.12,118.55 625.09,118.30 626.07,118.06 C627.05,117.81 628.02,117.56 629.00,117.32 C629.98,117.07 630.96,116.83 631.94,116.60 C632.91,116.36 633.89,116.12 634.87,115.89 C635.85,115.65 636.84,115.42 637.82,115.19 C638.80,114.96 639.78,114.74 640.76,114.51 C641.75,114.29 642.73,114.07 643.71,113.85 C644.70,113.63 645.68,113.41 646.67,113.19 C647.65,112.98 648.64,112.76 649.62,112.55 C650.61,112.34 651.60,112.13 652.58,111.92 C653.57,111.71 654.56,111.51 655.55,111.30 C656.53,111.10 657.52,110.89 658.51,110.69 C659.50,110.49 660.49,110.29 661.48,110.10 C662.47,109.90 663.46,109.71 664.45,109.51 C665.44,109.32 666.43,109.13 667.42,108.94 C668.41,108.75 669.40,108.56 670.39,108.37 C671.38,108.18 672.37,108.00 673.37,107.81 C674.36,107.63 675.35,107.45 676.34,107.26 C677.34,107.08 678.33,106.90 679.32,106.72 C680.31,106.55 681.31,106.37 682.30,106.19" stroke="#D95319"/>
<path d="M405.60,50.60 C405.72,51.60 405.85,52.59 405.97,53.59 C406.09,54.59 406.21,55.59 406.32,56.59 C406.44,57.59 406.56,58.59 406.67,59.59 C406.78,60.59 406.89,61.59 407.00,62.59 C407.11,63.60 407.22,64.60 407.33,65.60 C407.44,66.61 407.54,67.61 407.65,68.61 C407.76,69.62 407.86,70.62 407.96,71.63 C408.07,72.63 408.17,73.64 408.28,74.65 C408.38,75.65 408.48,76.66 408.58,77.66 C408.69,78.67 408.79,79.68 408.89,80.68 C408.99,81.69 409.10,82.70 409.20,83.71 C409.30,84.71 409.41,85.72 409.51,86.73 C409.61,87.74 409.72,88.74 409.82,89.75 C409.93,90.76 410.04,91.77 410.14,92.77 C410.25,93.78 410.36,94.79 410.47,95.79 C410.58,96.80 410.69,97.81 410.81,98.81 C410.92,99.82 411.03,100.83 411.15,101.83 C411.27,102.84 411.38,103.84 411.51,104.85 C411.63,105.85 411.75,106.86 411.87,107.86 C412.00,108.87 412.13,109.87 412.26,110.88 C412.39,111.88 412.52,112.88 412.66,113.88 C412.79,114.88 412.93,115.89 413.07,116.89 C413.21,117.89 413.36,118.89 413.51,119.89 C413.66,120.89 413.81,121.88 413.96,122.88 C414.12,123.88 414.28,124.88 414.44,125.87 C414.60,126.87 414.77,127.86 414.94,128.86 C415.11,129.85 415.29,130.84 415.47,131.84 C415.65,132.83 415.83,133.82 416.02,134.81 C416.21,135.80 416.40,136.79 416.60,137.77 C416.80,138.76 417.00,139.75 417.21,140.73 C417.42,141.72 417.63,142.70 417.86,143.68 C418.08,144.66 418.31,145.64 418.55,146.62 C418.78,147.59 419.03,148.57 419.29,149.54 C419.55,150.51 419.82,151.47 420.10,152.43 C420.38,153.40 420.68,154.35 420.99,155.31 C421.30,156.26 421.62,157.21 421.97,158.15 C422.31,159.09 422.66,160.03 423.04,160.96 C423.42,161.89 423.81,162.82 424.23,163.73 C424.65,164.65 425.08,165.56 425.54,166.46 C425.99,167.37 426.46,168.27 426.95,169.16 C427.44,170.05 427.95,170.93 428.47,171.81 C428.99,172.69 429.53,173.56 430.08,174.43 C430.62,175.29 431.19,176.15 431.76,177.01 C432.33,177.86 432.92,178.72 433.51,179.56 C434.11,180.40 434.71,181.24 435.33,182.05 C435.95,182.86 436.58,183.66 437.25,184.43 C437.90,185.18 438.58,185.92 439.29,186.61 C439.99,187.29 440.72,187.95 441.48,188.53 C442.24,189.12 443.03,189.66 443.86,190.13 C444.69,190.59 445.56,190.99 446.45,191.32 C447.36,191.64 448.31,191.88 449.26,192.07 C450.23,192.25 451.23,192.36 452.23,192.41 C453.24,192.47 454.27,192.45 455.29,192.39 C456.32,192.33 457.36,192.21 458.39,192.05 C459.41,191.90 460.44,191.68 461.45,191.44 C462.45,191.19 463.45,190.90 464.43,190.59 C465.40,190.27 466.37,189.92 467.32,189.54 C468.27,189.17 469.21,188.76 470.14,188.34 C471.07,187.92 471.98,187.47 472.89,187.02 C473.80,186.57 474.70,186.10 475.60,185.62 C476.49,185.15 477.38,184.67 478.26,184.18 C479.14,183.69 480.02,183.20 480.89,182.70 C481.77,182.20 482.63,181.70 483.50,181.20 C484.37,180.69 485.23,180.18 486.10,179.68 C486.96,179.17 487.82,178.66 488.69,178.15 C489.55,177.65 490.41,177.14 491.28,176.63 C492.14,176.13 493.01,175.63 493.88,175.13 C494.75,174.64 495.62,174.14 496.50,173.66 C497.38,173.17 498.26,172.69 499.14,172.21 C500.02,171.73 500.91,171.26 501.80,170.78 C502.69,170.31 503.58,169.85 504.48,169.38 C505.37,168.91 506.27,168.45 507.17,167.99 C508.06,167.53 508.96,167.07 509.86,166.61 C510.76,166.15 511.66,165.70 512.57,165.24 C513.47,164.78 514.37,164.32 515.27,163.86 C516.17,163.41 517.08,162.95 517.98,162.49 C518.88,162.03 519.78,161.57 520.68,161.10 C521.58,160.64 522.48,160.17 523.38,159.70 C524.27,159.24 525.17,158.76 526.06,158.29 C526.95,157.81 527.84,157.33 528.73,156.85 C529.62,156.37 530.50,155.88 531.39,155.38 C532.27,154.89 533.15,154.39 534.02,153.89 C534.90,153.39 535.78,152.89 536.65,152.38 C537.52,151.87 538.39,151.36 539.26,150.84 C540.13,150.33 541.00,149.82 541.87,149.30 C542.73,148.78 543.60,148.26 544.46,147.74 C545.33,147.22 546.19,146.70 547.06,146.18 C547.92,145.66 548.78,145.14 549.65,144.62 C550.51,144.11 551.38,143.59 552.24,143.07 C553.10,142.55 553.97,142.04 554.84,141.52 C555.70,141.01 556.57,140.50 557.44,139.99 C558.31,139.48 559.18,138.98 560.05,138.48 C560.92,137.97 561.79,137.48 562.67,136.98 C563.54,136.49 564.42,136.00 565.30,135.52 C566.18,135.03 567.07,134.55 567.95,134.08 C568.84,133.61 569.73,133.14 570.62,132.68 C571.51,132.22 572.41,131.77 573.31,131.32 C574.21,130.88 575.11,130.44 576.02,130.01 C576.93,129.57 577.84,129.15 578.75,128.73 C579.66,128.31 580.58,127.89 581.50,127.48 C582.42,127.08 583.34,126.67 584.26,126.27 C585.19,125.88 586.12,125.48 587.05,125.10 C587.98,124.71 588.91,124.33 589.84,123.95 C590.78,123.57 591.71,123.20 592.65,122.82 C593.59,122.45 594.53,122.09 595.47,121.73 C596.42,121.36 597.36,121.00 598.30,120.65 C599.25,120.29 600.20,119.94 601.15,119.59 C602.09,119.24 603.04,118.89 603.99,118.54 C604.94,118.20 605.89,117.86 606.85,117.52 C607.80,117.17 608.75,116.83 609.71,116.50 C610.66,116.16 611.61,115.82 612.57,115.49 C613.52,115.15 614.48,114.82 615.43,114.48 C616.38,114.15 617.34,113.81 618.29,113.48 C619.25,113.15 620.20,112.82 621.16,112.48 C622.11,112.15 623.06,111.82 624.02,111.48 C624.97,111.15 625.92,110.82 626.88,110.49 C627.83,110.15 628.79,109.82 629.74,109.49 C630.69,109.17 631.65,108.84 632.60,108.51 C633.56,108.18 634.51,107.86 635.47,107.54 C636.42,107.21 637.38,106.89 638.33,106.58 C639.29,106.26 640.25,105.94 641.20,105.63 C642.16,105.32 643.12,105.01 644.08,104.70 C645.04,104.39 646.00,104.09 646.96,103.79 C647.92,103.49 648.88,103.19 649.85,102.90 C650.81,102.61 651.78,102.32 652.74,102.04 C653.71,101.76 654.68,101.48 655.65,101.20 C656.62,100.93 657.59,100.66 658.56,100.40 C659.53,100.13 660.51,99.87 661.48,99.62 C662.46,99.37 663.44,99.12 664.42,98.88 C665.40,98.64 666.38,98.41 667.36,98.18 C668.35,97.95 669.33,97.73 670.32,97.52 C671.31,97.30 672.30,97.09 673.29,96.89 C674.29,96.69 675.28,96.50 676.28,96.32 C677.28,96.13 678.28,95.95 679.28,95.78 C680.29,95.61 681.29,95.46 682.30,95.30" stroke="#EDB120"/>
<path d="M405.61,28.00 C405.68,29.00 405.74,30.00 405.81,30.99 C405.88,31.99 405.96,32.99 406.03,33.99 C406.11,34.99 406.19,35.99 406.27,36.99 C406.35,37.99 406.43,38.99 406.52,39.99 C406.61,40.99 406.69,41.99 406.79,42.99 C406.88,43.99 406.97,44.99 407.06,46.00 C407.16,47.00 407.26,48.00 407.36,49.00 C407.46,50.00 407.56,51.01 407.66,52.01 C407.76,53.01 407.87,54.01 407.98,55.02 C408.09,56.02 408.20,57.02 408.31,58.03 C408.42,59.03 408.54,60.03 408.65,61.04 C408.77,62.04 408.89,63.04 409.00,64.05 C409.12,65.05 409.25,66.05 409.37,67.06 C409.49,68.06 409.62,69.06 409.75,70.07 C409.87,71.07 410.00,72.07 410.13,73.08 C410.26,74.08 410.39,75.08 410.53,76.09 C410.66,77.09 410.80,78.09 410.93,79.09 C411.07,80.10 411.21,81.10 411.35,82.10 C411.49,83.10 411.63,84.10 411.77,85.11 C411.91,86.11 412.06,87.11 412.20,88.11 C412.35,89.11 412.50,90.11 412.64,91.11 C412.79,92.11 412.94,93.11 413.09,94.11 C413.24,95.11 413.39,96.11 413.55,97.11 C413.70,98.11 413.85,99.11 414.01,100.11 C414.16,101.11 414.32,102.10 414.48,103.10 C414.63,104.10 414.79,105.10 414.95,106.09 C415.11,107.09 415.27,108.08 415.43,109.08 C415.59,110.07 415.75,111.07 415.92,112.06 C416.08,113.06 416.24,114.05 416.41,115.04 C416.57,116.03 416.74,117.03 416.90,118.02 C417.07,119.01 417.23,120.00 417.40,120.99 C417.57,121.98 417.74,122.97 417.91,123.96 C418.07,124.95 418.24,125.93 418.41,126.92 C418.58,127.91 418.75,128.89 418.92,129.88 C419.09,130.86 419.26,131.85 419.43,132.83 C419.61,133.81 419.78,134.80 419.95,135.78 C420.12,136.76 420.29,137.74 420.47,138.72 C420.64,139.70 420.81,140.68 420.99,141.66 C421.17,142.64 421.35,143.62 421.53,144.59 C421.71,145.57 421.90,146.55 422.09,147.52 C422.28,148.50 422.47,149.48 422.67,150.45 C422.88,151.43 423.08,152.41 423.29,153.38 C423.51,154.36 423.73,155.34 423.96,156.31 C424.18,157.29 424.42,158.27 424.66,159.25 C424.91,160.23 425.16,161.21 425.43,162.18 C425.69,163.16 425.97,164.14 426.25,165.12 C426.54,166.11 426.83,167.09 427.14,168.07 C427.45,169.05 427.77,170.04 428.10,171.02 C428.44,172.01 428.79,172.99 429.15,173.98 C429.51,174.97 429.89,175.96 430.28,176.94 C430.68,177.92 431.09,178.90 431.51,179.86 C431.94,180.82 432.39,181.78 432.85,182.72 C433.32,183.65 433.80,184.57 434.31,185.47 C434.82,186.36 435.34,187.24 435.90,188.09 C436.45,188.92 437.02,189.74 437.62,190.52 C438.22,191.29 438.84,192.04 439.50,192.75 C440.15,193.44 440.82,194.11 441.53,194.73 C442.24,195.34 442.97,195.91 443.74,196.42 C444.50,196.93 445.30,197.40 446.12,197.80 C446.95,198.20 447.81,198.55 448.70,198.82 C449.59,199.10 450.52,199.31 451.46,199.46 C452.42,199.62 453.40,199.70 454.38,199.73 C455.37,199.77 456.38,199.74 457.38,199.66 C458.40,199.59 459.42,199.45 460.42,199.28 C461.43,199.10 462.45,198.87 463.44,198.61 C464.43,198.34 465.41,198.02 466.37,197.68 C467.34,197.33 468.28,196.94 469.22,196.52 C470.15,196.10 471.07,195.65 471.98,195.17 C472.89,194.70 473.79,194.20 474.67,193.68 C475.56,193.16 476.44,192.62 477.31,192.07 C478.19,191.52 479.05,190.95 479.91,190.38 C480.77,189.81 481.63,189.22 482.48,188.65 C483.34,188.07 484.19,187.49 485.04,186.91 C485.89,186.34 486.74,185.77 487.59,185.20 C488.44,184.64 489.29,184.08 490.14,183.52 C490.99,182.96 491.84,182.41 492.68,181.86 C493.53,181.32 494.38,180.77 495.23,180.23 C496.07,179.68 496.92,179.15 497.77,178.61 C498.61,178.07 499.46,177.53 500.30,177.00 C501.15,176.46 501.99,175.93 502.84,175.40 C503.68,174.87 504.52,174.34 505.37,173.80 C506.21,173.27 507.05,172.74 507.89,172.21 C508.73,171.67 509.57,171.14 510.41,170.61 C511.25,170.07 512.09,169.54 512.93,169.00 C513.77,168.46 514.60,167.92 515.44,167.38 C516.28,166.83 517.11,166.29 517.94,165.74 C518.78,165.19 519.61,164.64 520.45,164.08 C521.28,163.53 522.11,162.97 522.94,162.40 C523.77,161.84 524.60,161.27 525.43,160.70 C526.26,160.13 527.09,159.56 527.92,158.98 C528.75,158.41 529.57,157.83 530.40,157.25 C531.23,156.67 532.06,156.09 532.88,155.51 C533.71,154.93 534.54,154.34 535.36,153.76 C536.19,153.17 537.02,152.59 537.84,152.00 C538.67,151.41 539.50,150.83 540.33,150.24 C541.15,149.65 541.98,149.07 542.81,148.48 C543.64,147.90 544.47,147.31 545.29,146.73 C546.12,146.14 546.95,145.56 547.78,144.98 C548.61,144.40 549.44,143.82 550.28,143.24 C551.11,142.66 551.94,142.09 552.78,141.52 C553.61,140.95 554.44,140.38 555.28,139.81 C556.12,139.24 556.95,138.68 557.79,138.12 C558.63,137.56 559.47,137.00 560.31,136.45 C561.15,135.90 561.99,135.35 562.84,134.81 C563.68,134.27 564.53,133.73 565.38,133.20 C566.23,132.67 567.08,132.14 567.94,131.62 C568.79,131.10 569.65,130.58 570.51,130.07 C571.37,129.57 572.23,129.07 573.10,128.57 C573.97,128.08 574.84,127.59 575.72,127.11 C576.60,126.63 577.48,126.16 578.37,125.70 C579.25,125.24 580.15,124.79 581.04,124.34 C581.94,123.90 582.84,123.46 583.75,123.04 C584.66,122.61 585.57,122.20 586.49,121.79 C587.41,121.38 588.33,120.98 589.26,120.58 C590.19,120.18 591.12,119.79 592.05,119.40 C592.98,119.01 593.91,118.63 594.84,118.24 C595.78,117.85 596.71,117.47 597.64,117.08 C598.58,116.69 599.51,116.30 600.44,115.90 C601.37,115.51 602.30,115.11 603.22,114.71 C604.15,114.31 605.08,113.90 606.00,113.49 C606.92,113.08 607.84,112.67 608.77,112.26 C609.69,111.84 610.61,111.43 611.53,111.01 C612.44,110.59 613.36,110.17 614.28,109.75 C615.20,109.33 616.11,108.91 617.03,108.49 C617.95,108.07 618.86,107.65 619.78,107.22 C620.69,106.80 621.61,106.38 622.52,105.96 C623.44,105.53 624.35,105.11 625.27,104.69 C626.19,104.27 627.10,103.85 628.02,103.44 C628.93,103.02 629.85,102.60 630.77,102.19 C631.69,101.78 632.60,101.36 633.52,100.96 C634.44,100.55 635.36,100.14 636.28,99.74 C637.20,99.34 638.12,98.94 639.05,98.54 C639.97,98.15 640.90,97.76 641.82,97.37 C642.75,96.98 643.68,96.60 644.61,96.22 C645.54,95.85 646.47,95.47 647.40,95.11 C648.34,94.74 649.27,94.38 650.21,94.03 C651.15,93.67 652.09,93.32 653.03,92.98 C653.97,92.64 654.92,92.30 655.87,91.98 C656.82,91.65 657.77,91.33 658.72,91.02 C659.68,90.70 660.63,90.40 661.59,90.10 C662.55,89.81 663.52,89.52 664.48,89.24 C665.45,88.96 666.42,88.69 667.39,88.43 C668.37,88.17 669.34,87.92 670.32,87.68 C671.31,87.43 672.29,87.20 673.28,86.98 C674.27,86.76 675.26,86.55 676.26,86.36 C677.26,86.16 678.26,85.97 679.27,85.79 C680.28,85.62 681.29,85.47 682.30,85.30" stroke="#7E2F8E"/>
<path d="M405.60,20.59 C405.71,21.62 405.83,22.64 405.94,23.66 C406.05,24.68 406.16,25.71 406.27,26.73 C406.37,27.75 406.48,28.76 406.59,29.78 C406.69,30.80 406.79,31.82 406.90,32.84 C407.00,33.85 407.10,34.87 407.20,35.88 C407.30,36.90 407.40,37.91 407.50,38.92 C407.60,39.93 407.70,40.95 407.79,41.96 C407.89,42.97 407.98,43.98 408.08,44.99 C408.17,46.00 408.27,47.01 408.36,48.02 C408.46,49.02 408.55,50.03 408.64,51.04 C408.73,52.04 408.83,53.05 408.92,54.06 C409.01,55.06 409.10,56.06 409.19,57.07 C409.28,58.07 409.37,59.08 409.46,60.08 C409.56,61.08 409.65,62.08 409.74,63.09 C409.83,64.09 409.92,65.09 410.01,66.09 C410.10,67.09 410.19,68.09 410.28,69.09 C410.37,70.09 410.46,71.09 410.55,72.09 C410.64,73.08 410.74,74.08 410.83,75.08 C410.92,76.08 411.01,77.08 411.11,78.07 C411.20,79.07 411.29,80.07 411.39,81.06 C411.48,82.06 411.58,83.05 411.67,84.05 C411.77,85.05 411.87,86.04 411.96,87.04 C412.06,88.03 412.16,89.03 412.26,90.02 C412.36,91.02 412.46,92.01 412.56,93.00 C412.66,94.00 412.77,94.99 412.87,95.99 C412.97,96.98 413.08,97.97 413.19,98.97 C413.29,99.96 413.40,100.96 413.51,101.95 C413.62,102.94 413.73,103.94 413.84,104.93 C413.96,105.92 414.07,106.92 414.19,107.91 C414.30,108.90 414.42,109.90 414.54,110.89 C414.66,111.88 414.78,112.88 414.91,113.87 C415.03,114.86 415.16,115.86 415.28,116.85 C415.41,117.84 415.54,118.84 415.67,119.83 C415.81,120.83 415.94,121.82 416.08,122.81 C416.21,123.81 416.35,124.80 416.49,125.80 C416.64,126.79 416.78,127.79 416.93,128.78 C417.07,129.78 417.22,130.77 417.37,131.77 C417.52,132.77 417.68,133.76 417.84,134.76 C417.99,135.76 418.15,136.75 418.32,137.75 C418.48,138.75 418.64,139.74 418.81,140.74 C418.98,141.74 419.15,142.74 419.33,143.74 C419.50,144.74 419.68,145.74 419.86,146.73 C420.04,147.73 420.23,148.74 420.42,149.74 C420.61,150.74 420.80,151.74 420.99,152.74 C421.19,153.74 421.39,154.74 421.59,155.75 C421.79,156.75 422.00,157.75 422.20,158.76 C422.41,159.76 422.63,160.77 422.84,161.77 C423.06,162.78 423.28,163.78 423.51,164.79 C423.73,165.80 423.96,166.81 424.19,167.81 C424.43,168.82 424.66,169.83 424.91,170.84 C425.15,171.85 425.39,172.86 425.64,173.87 C425.89,174.89 426.15,175.90 426.41,176.91 C426.67,177.92 426.93,178.94 427.20,179.94 C427.48,180.95 427.76,181.96 428.05,182.95 C428.35,183.95 428.65,184.94 428.98,185.92 C429.30,186.90 429.63,187.87 429.99,188.82 C430.35,189.77 430.72,190.72 431.12,191.64 C431.51,192.56 431.92,193.47 432.37,194.36 C432.81,195.24 433.27,196.11 433.77,196.95 C434.27,197.78 434.79,198.60 435.34,199.39 C435.90,200.18 436.48,200.95 437.10,201.68 C437.72,202.41 438.37,203.11 439.06,203.77 C439.75,204.44 440.48,205.08 441.25,205.67 C442.02,206.26 442.83,206.82 443.67,207.33 C444.52,207.85 445.41,208.32 446.31,208.74 C447.22,209.16 448.15,209.53 449.10,209.84 C450.04,210.15 451.01,210.41 451.98,210.59 C452.94,210.78 453.92,210.90 454.89,210.95 C455.85,211.00 456.82,210.98 457.78,210.88 C458.72,210.78 459.67,210.59 460.60,210.35 C461.53,210.11 462.45,209.80 463.35,209.44 C464.26,209.08 465.16,208.66 466.05,208.21 C466.95,207.76 467.83,207.25 468.70,206.74 C469.58,206.21 470.45,205.65 471.31,205.09 C472.18,204.52 473.03,203.92 473.89,203.33 C474.74,202.74 475.59,202.14 476.44,201.54 C477.29,200.94 478.13,200.34 478.97,199.73 C479.81,199.13 480.65,198.52 481.48,197.91 C482.32,197.31 483.15,196.70 483.98,196.09 C484.81,195.48 485.63,194.87 486.45,194.25 C487.28,193.64 488.10,193.02 488.91,192.41 C489.73,191.79 490.54,191.17 491.36,190.55 C492.17,189.93 492.98,189.31 493.79,188.69 C494.59,188.07 495.40,187.45 496.20,186.82 C497.01,186.20 497.81,185.57 498.61,184.95 C499.41,184.32 500.20,183.70 501.00,183.07 C501.79,182.44 502.59,181.82 503.38,181.19 C504.17,180.56 504.97,179.93 505.76,179.30 C506.55,178.67 507.33,178.04 508.12,177.41 C508.91,176.78 509.70,176.15 510.48,175.52 C511.27,174.89 512.05,174.25 512.84,173.62 C513.62,172.99 514.40,172.36 515.18,171.73 C515.97,171.10 516.75,170.46 517.53,169.83 C518.31,169.20 519.09,168.57 519.87,167.94 C520.66,167.31 521.44,166.68 522.22,166.05 C523.00,165.41 523.78,164.78 524.56,164.15 C525.34,163.52 526.12,162.90 526.90,162.27 C527.68,161.64 528.47,161.01 529.25,160.38 C530.03,159.76 530.81,159.13 531.60,158.50 C532.38,157.88 533.17,157.25 533.95,156.63 C534.74,156.01 535.52,155.38 536.31,154.76 C537.10,154.14 537.88,153.52 538.67,152.90 C539.46,152.28 540.25,151.66 541.05,151.04 C541.84,150.43 542.63,149.81 543.43,149.20 C544.22,148.58 545.02,147.97 545.82,147.36 C546.62,146.75 547.42,146.14 548.22,145.53 C549.02,144.93 549.83,144.32 550.64,143.72 C551.44,143.11 552.25,142.51 553.06,141.91 C553.87,141.31 554.69,140.71 555.50,140.11 C556.32,139.52 557.14,138.92 557.96,138.33 C558.78,137.74 559.61,137.15 560.43,136.56 C561.26,135.98 562.09,135.39 562.92,134.81 C563.76,134.23 564.59,133.65 565.43,133.08 C566.27,132.50 567.11,131.93 567.96,131.37 C568.81,130.80 569.65,130.24 570.51,129.68 C571.36,129.13 572.21,128.58 573.07,128.03 C573.93,127.49 574.79,126.95 575.66,126.42 C576.52,125.89 577.39,125.37 578.26,124.85 C579.13,124.34 580.01,123.83 580.89,123.33 C581.77,122.83 582.65,122.34 583.54,121.86 C584.42,121.38 585.32,120.90 586.21,120.44 C587.10,119.97 588.00,119.52 588.90,119.06 C589.79,118.61 590.69,118.16 591.59,117.72 C592.50,117.27 593.40,116.83 594.30,116.39 C595.20,115.95 596.11,115.51 597.01,115.06 C597.91,114.62 598.82,114.18 599.72,113.73 C600.62,113.29 601.52,112.83 602.42,112.38 C603.31,111.93 604.21,111.47 605.11,111.01 C606.00,110.55 606.90,110.09 607.79,109.62 C608.69,109.16 609.58,108.69 610.48,108.22 C611.37,107.75 612.26,107.28 613.16,106.81 C614.05,106.34 614.94,105.86 615.83,105.39 C616.72,104.92 617.62,104.44 618.51,103.97 C619.40,103.49 620.29,103.01 621.18,102.54 C622.07,102.06 622.97,101.59 623.86,101.11 C624.75,100.64 625.64,100.16 626.54,99.69 C627.43,99.21 628.32,98.74 629.22,98.27 C630.11,97.80 631.01,97.33 631.90,96.86 C632.80,96.39 633.70,95.93 634.60,95.46 C635.49,95.00 636.39,94.54 637.29,94.08 C638.20,93.62 639.10,93.16 640.00,92.71 C640.90,92.26 641.81,91.81 642.72,91.37 C643.62,90.92 644.53,90.48 645.44,90.04 C646.35,89.61 647.26,89.17 648.18,88.75 C649.09,88.32 650.01,87.89 650.93,87.48 C651.85,87.06 652.77,86.65 653.69,86.24 C654.61,85.83 655.54,85.43 656.47,85.04 C657.39,84.64 658.32,84.25 659.26,83.87 C660.19,83.49 661.13,83.11 662.07,82.74 C663.01,82.37 663.95,82.01 664.90,81.66 C665.84,81.30 666.79,80.96 667.74,80.62 C668.69,80.28 669.65,79.95 670.61,79.63 C671.57,79.31 672.53,78.99 673.50,78.69 C674.46,78.38 675.43,78.09 676.41,77.80 C677.38,77.52 678.36,77.24 679.34,76.97 C680.33,76.71 681.32,76.46 682.30,76.20" stroke="#77AC30"/>
<path d="M405.60,40.50 C405.68,41.51 405.76,42.52 405.84,43.53 C405.92,44.55 406.00,45.56 406.08,46.57 C406.16,47.58 406.24,48.59 406.32,49.60 C406.39,50.61 406.47,51.62 406.55,52.63 C406.63,53.64 406.71,54.65 406.79,55.66 C406.87,56.67 406.94,57.67 407.02,58.68 C407.10,59.69 407.18,60.70 407.26,61.70 C407.33,62.71 407.41,63.72 407.49,64.72 C407.57,65.73 407.65,66.73 407.73,67.74 C407.81,68.74 407.89,69.75 407.97,70.75 C408.05,71.76 408.13,72.76 408.21,73.76 C408.29,74.77 408.37,75.77 408.45,76.77 C408.53,77.78 408.62,78.78 408.70,79.78 C408.78,80.78 408.86,81.79 408.95,82.79 C409.03,83.79 409.12,84.79 409.20,85.79 C409.29,86.79 409.38,87.79 409.46,88.79 C409.55,89.79 409.64,90.79 409.73,91.79 C409.82,92.79 409.91,93.79 410.00,94.79 C410.09,95.79 410.18,96.79 410.28,97.79 C410.37,98.79 410.46,99.78 410.56,100.78 C410.66,101.78 410.75,102.78 410.85,103.78 C410.95,104.77 411.05,105.77 411.15,106.77 C411.25,107.76 411.35,108.76 411.46,109.76 C411.56,110.75 411.67,111.75 411.78,112.75 C411.88,113.74 411.99,114.74 412.10,115.74 C412.21,116.73 412.33,117.73 412.44,118.72 C412.55,119.72 412.67,120.71 412.79,121.71 C412.90,122.70 413.02,123.70 413.15,124.69 C413.27,125.69 413.39,126.68 413.52,127.68 C413.64,128.67 413.77,129.67 413.90,130.66 C414.03,131.66 414.16,132.65 414.29,133.64 C414.43,134.64 414.56,135.63 414.70,136.63 C414.84,137.62 414.98,138.61 415.12,139.61 C415.27,140.60 415.41,141.60 415.56,142.59 C415.71,143.58 415.86,144.58 416.01,145.57 C416.16,146.56 416.32,147.56 416.48,148.55 C416.63,149.54 416.80,150.54 416.96,151.53 C417.12,152.52 417.29,153.52 417.46,154.51 C417.63,155.50 417.80,156.50 417.97,157.49 C418.15,158.48 418.33,159.48 418.51,160.47 C418.69,161.46 418.87,162.46 419.06,163.45 C419.24,164.44 419.43,165.44 419.63,166.43 C419.82,167.43 420.01,168.42 420.21,169.41 C420.41,170.41 420.62,171.40 420.82,172.39 C421.03,173.39 421.24,174.38 421.45,175.37 C421.66,176.37 421.88,177.36 422.10,178.36 C422.32,179.35 422.54,180.34 422.77,181.34 C422.99,182.33 423.22,183.33 423.46,184.32 C423.69,185.32 423.93,186.31 424.17,187.31 C424.41,188.30 424.66,189.30 424.91,190.29 C425.16,191.29 425.41,192.28 425.67,193.28 C425.92,194.27 426.18,195.27 426.45,196.26 C426.71,197.26 426.98,198.25 427.26,199.24 C427.54,200.23 427.83,201.22 428.13,202.20 C428.44,203.18 428.75,204.15 429.10,205.11 C429.44,206.07 429.80,207.02 430.19,207.95 C430.58,208.87 431.00,209.79 431.45,210.68 C431.90,211.57 432.38,212.44 432.91,213.29 C433.43,214.13 433.99,214.95 434.60,215.74 C435.20,216.53 435.85,217.29 436.54,218.01 C437.22,218.73 437.95,219.41 438.71,220.05 C439.47,220.68 440.26,221.27 441.08,221.80 C441.90,222.32 442.75,222.80 443.62,223.21 C444.48,223.61 445.38,223.96 446.29,224.22 C447.20,224.48 448.14,224.68 449.07,224.79 C450.01,224.90 450.97,224.92 451.93,224.88 C452.89,224.83 453.86,224.71 454.82,224.53 C455.79,224.36 456.77,224.11 457.72,223.82 C458.69,223.54 459.66,223.19 460.60,222.82 C461.56,222.44 462.50,222.02 463.43,221.58 C464.35,221.14 465.27,220.67 466.16,220.17 C467.06,219.68 467.94,219.17 468.81,218.64 C469.67,218.11 470.52,217.55 471.36,216.99 C472.20,216.42 473.03,215.83 473.85,215.24 C474.67,214.64 475.47,214.03 476.27,213.40 C477.07,212.78 477.86,212.14 478.64,211.50 C479.43,210.86 480.20,210.21 480.97,209.55 C481.74,208.89 482.51,208.23 483.27,207.56 C484.04,206.89 484.80,206.22 485.56,205.55 C486.32,204.88 487.07,204.20 487.83,203.53 C488.59,202.86 489.34,202.18 490.10,201.50 C490.85,200.83 491.60,200.15 492.36,199.47 C493.11,198.79 493.86,198.11 494.61,197.43 C495.36,196.75 496.11,196.07 496.85,195.39 C497.60,194.71 498.35,194.03 499.09,193.35 C499.84,192.66 500.58,191.98 501.33,191.30 C502.07,190.61 502.82,189.93 503.56,189.25 C504.30,188.56 505.05,187.88 505.79,187.19 C506.53,186.51 507.27,185.82 508.01,185.14 C508.76,184.45 509.50,183.77 510.24,183.08 C510.98,182.40 511.72,181.71 512.46,181.03 C513.20,180.34 513.94,179.66 514.68,178.98 C515.42,178.29 516.17,177.61 516.91,176.93 C517.65,176.24 518.39,175.56 519.13,174.88 C519.87,174.19 520.61,173.51 521.36,172.83 C522.10,172.15 522.84,171.47 523.58,170.79 C524.33,170.11 525.07,169.43 525.81,168.76 C526.56,168.08 527.30,167.40 528.05,166.72 C528.79,166.05 529.54,165.37 530.29,164.70 C531.03,164.03 531.78,163.35 532.53,162.68 C533.28,162.01 534.03,161.34 534.78,160.67 C535.53,160.01 536.28,159.34 537.03,158.67 C537.79,158.01 538.54,157.34 539.30,156.68 C540.05,156.02 540.81,155.36 541.57,154.70 C542.32,154.04 543.08,153.38 543.85,152.73 C544.61,152.07 545.37,151.42 546.13,150.77 C546.90,150.12 547.66,149.47 548.43,148.82 C549.20,148.17 549.97,147.53 550.74,146.89 C551.51,146.24 552.29,145.60 553.06,144.96 C553.84,144.33 554.61,143.69 555.39,143.06 C556.17,142.42 556.95,141.79 557.74,141.17 C558.52,140.54 559.31,139.91 560.09,139.29 C560.88,138.67 561.67,138.05 562.47,137.43 C563.26,136.81 564.05,136.20 564.85,135.59 C565.65,134.97 566.45,134.36 567.25,133.76 C568.05,133.15 568.86,132.55 569.66,131.95 C570.47,131.35 571.28,130.75 572.09,130.15 C572.90,129.56 573.71,128.96 574.53,128.37 C575.34,127.78 576.16,127.19 576.98,126.61 C577.80,126.02 578.62,125.44 579.44,124.86 C580.26,124.28 581.09,123.70 581.91,123.13 C582.74,122.55 583.57,121.98 584.40,121.41 C585.23,120.84 586.06,120.27 586.90,119.71 C587.73,119.14 588.57,118.58 589.41,118.02 C590.25,117.46 591.09,116.90 591.93,116.35 C592.77,115.80 593.61,115.24 594.46,114.69 C595.30,114.14 596.15,113.60 597.00,113.05 C597.85,112.51 598.70,111.96 599.55,111.42 C600.40,110.88 601.26,110.35 602.11,109.81 C602.97,109.28 603.83,108.74 604.68,108.21 C605.54,107.68 606.40,107.15 607.26,106.63 C608.13,106.10 608.99,105.58 609.85,105.06 C610.72,104.54 611.58,104.02 612.45,103.50 C613.32,102.99 614.19,102.47 615.06,101.96 C615.93,101.45 616.80,100.94 617.68,100.43 C618.55,99.93 619.42,99.42 620.30,98.92 C621.17,98.42 622.05,97.92 622.93,97.42 C623.81,96.92 624.69,96.42 625.57,95.93 C626.45,95.44 627.33,94.95 628.22,94.46 C629.10,93.97 629.98,93.48 630.87,93.00 C631.76,92.51 632.64,92.03 633.53,91.55 C634.42,91.07 635.31,90.59 636.20,90.11 C637.09,89.64 637.98,89.17 638.87,88.69 C639.76,88.22 640.66,87.75 641.55,87.28 C642.44,86.82 643.34,86.35 644.24,85.89 C645.13,85.43 646.03,84.96 646.93,84.50 C647.82,84.05 648.72,83.59 649.62,83.13 C650.52,82.68 651.42,82.23 652.32,81.77 C653.23,81.32 654.13,80.88 655.03,80.43 C655.93,79.98 656.84,79.54 657.74,79.09 C658.64,78.65 659.55,78.21 660.46,77.77 C661.36,77.33 662.27,76.90 663.17,76.46 C664.08,76.03 664.99,75.59 665.90,75.16 C666.81,74.73 667.71,74.30 668.62,73.87 C669.53,73.45 670.44,73.02 671.35,72.60 C672.26,72.17 673.17,71.75 674.09,71.33 C675.00,70.91 675.91,70.50 676.82,70.08 C677.73,69.66 678.65,69.25 679.56,68.84 C680.47,68.42 681.39,68.02 682.30,67.61" stroke="#4DBEEE"/>
</g>
<rect x="402.7" y="1.5" width="279.80" height="236.40" fill="none" stroke="#606060" stroke-width="1.15"/>
<path d="M402.70,237.9v-2.8 M402.70,1.5v2.8 M458.66,237.9v-2.8 M458.66,1.5v2.8 M514.62,237.9v-2.8 M514.62,1.5v2.8 M570.58,237.9v-2.8 M570.58,1.5v2.8 M626.54,237.9v-2.8 M626.54,1.5v2.8 M682.50,237.9v-2.8 M682.50,1.5v2.8 M402.7,220.39h2.8 M682.5,220.39h-2.8 M402.7,132.83h2.8 M682.5,132.83h-2.8 M402.7,45.28h2.8 M682.5,45.28h-2.8" stroke="#606060" stroke-width="1" fill="none"/>
<g font-family="Liberation Sans" font-size="14.6" fill="#111" stroke="#111" stroke-width="0.22"><text x="398.64" y="254.35">0</text><text x="448.51" y="254.35">0.2</text><text x="504.47" y="254.35">0.4</text><text x="560.43" y="254.35">0.6</text><text x="616.39" y="254.35">0.8</text><path d="M683.77,254.35 L682.31,254.35 L682.31,246.61 C681.65,247.20 680.78,247.34 680.05,247.34 L680.05,246.25 C681.36,246.17 682.09,245.44 682.46,244.13 L683.77,244.13 Z"/><text x="379.51" y="226.29">0.8</text><text x="379.51" y="138.73">0.9</text><path d="M397.01,51.18 L395.55,51.18 L395.55,43.44 C394.89,44.02 394.02,44.17 393.29,44.17 L393.29,43.07 C394.60,43.00 395.33,42.27 395.70,40.96 L397.01,40.96 Z"/></g>
<text transform="translate(371.20,119.70) rotate(-90) scale(0.9,1)" text-anchor="middle" font-family="Liberation Sans" font-size="16" fill="#1a1a1a">G</text>
<path d="M540.70,259.40 Q542.10,259.40 542.90,261.60 L546.50,270.80 M543.30,265.30 L538.90,270.90" fill="none" stroke="#222" stroke-width="1.15" stroke-linecap="round"/>
<text x="530.00" y="295.70" text-anchor="middle" font-family="Liberation Serif" font-size="15.6" textLength="19.19" lengthAdjust="spacingAndGlyphs" fill="#000">(b)</text>
<g fill="#1a1a1a"><line x1="455.9" x2="486.8" y1="17.10" y2="17.10" stroke="#0072BD" stroke-width="2.6"/><text x="489.8" y="23.00" font-family="Liberation Serif" font-style="italic" font-size="14">&#963;</text><text x="498.6" y="17.80" font-family="Liberation Serif" font-size="10.08">2</text><line x1="507.8" x2="517.3" y1="18.10" y2="18.10" stroke="#222" stroke-width="0.85"/><line x1="507.8" x2="517.3" y1="21.40" y2="21.40" stroke="#222" stroke-width="0.85"/><text x="521" y="23.00" font-family="Liberation Serif" font-size="14">0.05</text><line x1="455.9" x2="486.8" y1="33.25" y2="33.25" stroke="#D95319" stroke-width="2.6"/><text x="489.8" y="39.15" font-family="Liberation Serif" font-style="italic" font-size="14">&#963;</text><text x="498.6" y="33.95" font-family="Liberation Serif" font-size="10.08">2</text><line x1="507.8" x2="517.3" y1="34.25" y2="34.25" stroke="#222" stroke-width="0.85"/><line x1="507.8" x2="517.3" y1="37.55" y2="37.55" stroke="#222" stroke-width="0.85"/><text x="521" y="39.15" font-family="Liberation Serif" font-size="14">0.06</text><line x1="455.9" x2="486.8" y1="49.40" y2="49.40" stroke="#EDB120" stroke-width="2.6"/><text x="489.8" y="55.30" font-family="Liberation Serif" font-style="italic" font-size="14">&#963;</text><text x="498.6" y="50.10" font-family="Liberation Serif" font-size="10.08">2</text><line x1="507.8" x2="517.3" y1="50.40" y2="50.40" stroke="#222" stroke-width="0.85"/><line x1="507.8" x2="517.3" y1="53.70" y2="53.70" stroke="#222" stroke-width="0.85"/><text x="521" y="55.30" font-family="Liberation Serif" font-size="14">0.07</text><line x1="455.9" x2="486.8" y1="65.55" y2="65.55" stroke="#7E2F8E" stroke-width="2.6"/><text x="489.8" y="71.45" font-family="Liberation Serif" font-style="italic" font-size="14">&#963;</text><text x="498.6" y="66.25" font-family="Liberation Serif" font-size="10.08">2</text><line x1="507.8" x2="517.3" y1="66.55" y2="66.55" stroke="#222" stroke-width="0.85"/><line x1="507.8" x2="517.3" y1="69.85" y2="69.85" stroke="#222" stroke-width="0.85"/><text x="521" y="71.45" font-family="Liberation Serif" font-size="14">0.08</text><line x1="455.9" x2="486.8" y1="81.70" y2="81.70" stroke="#77AC30" stroke-width="2.6"/><text x="489.8" y="87.60" font-family="Liberation Serif" font-style="italic" font-size="14">&#963;</text><text x="498.6" y="82.40" font-family="Liberation Serif" font-size="10.08">2</text><line x1="507.8" x2="517.3" y1="82.70" y2="82.70" stroke="#222" stroke-width="0.85"/><line x1="507.8" x2="517.3" y1="86.00" y2="86.00" stroke="#222" stroke-width="0.85"/><text x="521" y="87.60" font-family="Liberation Serif" font-size="14">0.09</text><line x1="455.9" x2="486.8" y1="97.85" y2="97.85" stroke="#4DBEEE" stroke-width="2.6"/><text x="489.8" y="103.75" font-family="Liberation Serif" font-style="italic" font-size="14">&#963;</text><text x="498.6" y="98.55" font-family="Liberation Serif" font-size="10.08">2</text><line x1="507.8" x2="517.3" y1="98.85" y2="98.85" stroke="#222" stroke-width="0.85"/><line x1="507.8" x2="517.3" y1="102.15" y2="102.15" stroke="#222" stroke-width="0.85"/><text x="521" y="103.75" font-family="Liberation Serif" font-size="14">0.1</text></g>
<g fill="none" stroke-width="2.6" stroke-linejoin="round" stroke-linecap="butt">
<path d="M47.30,504.40 L52.90,550.20 L52.90,550.20 C52.97,549.18 53.05,548.17 53.12,547.15 C53.20,546.13 53.27,545.12 53.35,544.10 C53.42,543.08 53.49,542.06 53.56,541.05 C53.63,540.03 53.70,539.01 53.77,538.00 C53.84,536.98 53.91,535.96 53.98,534.94 C54.05,533.93 54.12,532.91 54.18,531.89 C54.25,530.87 54.31,529.86 54.38,528.84 C54.44,527.82 54.51,526.80 54.57,525.79 C54.64,524.77 54.70,523.75 54.76,522.73 C54.82,521.71 54.89,520.70 54.95,519.68 C55.01,518.66 55.07,517.64 55.13,516.62 C55.19,515.61 55.25,514.59 55.31,513.57 C55.37,512.55 55.43,511.53 55.48,510.51 C55.54,509.50 55.60,508.48 55.66,507.46 C55.71,506.44 55.77,505.42 55.83,504.40 C55.88,503.39 55.94,502.37 55.99,501.35 C56.05,500.33 56.10,499.31 56.16,498.29 C56.21,497.27 56.27,496.25 56.32,495.24 C56.37,494.22 56.43,493.20 56.48,492.18 C56.53,491.16 56.59,490.14 56.64,489.12 C56.69,488.10 56.74,487.09 56.80,486.07 C56.85,485.05 56.90,484.03 56.95,483.01 C57.00,481.99 57.06,480.97 57.11,479.95 C57.16,478.93 57.21,477.92 57.26,476.90 C57.31,475.88 57.36,474.86 57.41,473.84 C57.46,472.82 57.52,471.80 57.57,470.78 C57.62,469.76 57.67,468.74 57.72,467.73 C57.77,466.71 57.82,465.69 57.87,464.67 C57.92,463.65 57.97,462.63 58.02,461.61 C58.07,460.59 58.12,459.57 58.17,458.55 C58.22,457.54 58.28,456.52 58.33,455.50 C58.38,454.48 58.43,453.46 58.48,452.44 C58.53,451.42 58.58,450.40 58.63,449.38 C58.68,448.37 58.74,447.35 58.79,446.33 C58.84,445.31 58.89,444.29 58.94,443.27 C59.00,442.25 59.05,441.23 59.10,440.21 C59.16,439.20 59.21,438.18 59.26,437.16 C59.32,436.14 59.37,435.12 59.42,434.10 C59.48,433.08 59.53,432.06 59.59,431.05 C59.64,430.03 59.70,429.01 59.75,427.99 C59.81,426.97 59.86,425.95 59.92,424.93 C59.98,423.92 60.03,422.90 60.09,421.88 C60.15,420.86 60.21,419.84 60.27,418.82 C60.32,417.81 60.38,416.79 60.44,415.77 C60.50,414.75 60.56,413.73 60.62,412.71 C60.68,411.70 60.74,410.68 60.81,409.66 C60.87,408.64 60.93,407.62 60.99,406.61 C61.06,405.59 61.12,404.57 61.18,403.55 C61.25,402.54 61.31,401.52 61.38,400.50 C61.45,399.48 61.51,398.46 61.58,397.45 C61.65,396.43 61.71,395.41 61.78,394.39 C61.85,393.38 61.92,392.36 61.99,391.34 C62.06,390.33 62.13,389.31 62.21,388.29 C62.28,387.27 62.35,386.26 62.42,385.24 C62.50,384.22 62.57,383.21 62.65,382.19 C62.72,381.17 62.80,380.16 62.88,379.14 C62.96,378.12 63.03,377.11 63.11,376.09 C63.19,375.07 63.27,374.06 63.35,373.04 C63.44,372.02 63.52,371.01 63.60,369.99 C63.69,368.98 63.77,367.96 63.86,366.94 C63.94,365.93 64.03,364.91 64.12,363.90 C64.20,362.88 64.29,361.87 64.38,360.85 C64.47,359.83 64.56,358.82 64.66,357.80 C64.75,356.79 64.84,355.77 64.94,354.76 C65.03,353.74 65.13,352.73 65.23,351.71 C65.32,350.70 65.42,349.68 65.52,348.67 C65.62,347.65 65.72,346.64 65.83,345.62 C65.93,344.61 66.03,343.60 66.14,342.58 C66.24,341.57 66.35,340.55 66.46,339.54 C66.56,338.53 66.67,337.51 66.78,336.50 L66.80,336.50 L69.70,329.80 L69.70,329.80 L72.70,330.00 L72.72,329.99 C73.17,330.93 73.65,331.86 74.09,332.80 C74.54,333.73 74.97,334.67 75.39,335.61 C75.81,336.54 76.22,337.48 76.61,338.42 C77.01,339.35 77.39,340.29 77.76,341.24 C78.14,342.17 78.50,343.11 78.85,344.06 C79.20,345.00 79.55,345.94 79.88,346.89 C80.22,347.83 80.54,348.78 80.86,349.72 C81.18,350.67 81.48,351.62 81.79,352.57 C82.09,353.51 82.38,354.46 82.67,355.42 C82.96,356.37 83.25,357.32 83.52,358.28 C83.80,359.23 84.08,360.19 84.34,361.15 C84.61,362.10 84.88,363.06 85.14,364.03 C85.40,364.99 85.66,365.95 85.91,366.92 C86.17,367.88 86.42,368.85 86.67,369.82 C86.92,370.79 87.17,371.76 87.42,372.73 C87.67,373.71 87.92,374.68 88.17,375.66 C88.42,376.64 88.66,377.62 88.91,378.60 C89.17,379.58 89.42,380.57 89.67,381.56 C89.92,382.54 90.18,383.53 90.44,384.53 C90.70,385.52 90.96,386.51 91.22,387.51 C91.49,388.51 91.76,389.51 92.03,390.51 C92.30,391.51 92.58,392.51 92.86,393.51 C93.14,394.52 93.43,395.52 93.71,396.52 C94.00,397.53 94.30,398.53 94.60,399.53 C94.90,400.54 95.20,401.54 95.51,402.54 C95.82,403.54 96.14,404.54 96.46,405.54 C96.78,406.54 97.11,407.53 97.44,408.53 C97.78,409.52 98.12,410.51 98.46,411.50 C98.81,412.49 99.16,413.47 99.52,414.45 C99.88,415.43 100.25,416.41 100.63,417.39 C101.00,418.36 101.38,419.33 101.77,420.29 C102.16,421.25 102.56,422.21 102.97,423.17 C103.38,424.12 103.79,425.06 104.22,426.01 C104.64,426.95 105.07,427.88 105.51,428.81 C105.96,429.73 106.41,430.66 106.87,431.57 C107.33,432.48 107.80,433.39 108.28,434.28 C108.76,435.18 109.25,436.07 109.75,436.95 C110.25,437.83 110.76,438.70 111.28,439.56 C111.80,440.42 112.33,441.27 112.88,442.11 C113.42,442.95 113.97,443.79 114.54,444.61 C115.11,445.43 115.68,446.24 116.27,447.03 C116.86,447.83 117.46,448.62 118.08,449.39 C118.69,450.17 119.32,450.93 119.96,451.68 C120.59,452.43 121.25,453.16 121.91,453.89 C122.58,454.61 123.25,455.32 123.95,456.02 C124.64,456.71 125.34,457.40 126.06,458.07 C126.77,458.74 127.50,459.39 128.24,460.04 C128.98,460.68 129.73,461.32 130.50,461.94 C131.26,462.56 132.03,463.16 132.82,463.76 C133.60,464.35 134.40,464.94 135.21,465.51 C136.01,466.08 136.83,466.64 137.65,467.19 C138.48,467.74 139.31,468.28 140.16,468.81 C141.00,469.33 141.86,469.85 142.72,470.35 C143.58,470.86 144.45,471.35 145.33,471.84 C146.21,472.32 147.09,472.80 147.99,473.26 C148.88,473.73 149.78,474.18 150.69,474.62 C151.60,475.07 152.52,475.50 153.44,475.93 C154.36,476.36 155.29,476.77 156.22,477.18 C157.16,477.59 158.10,477.99 159.04,478.38 C159.99,478.77 160.94,479.15 161.89,479.52 C162.85,479.89 163.81,480.26 164.77,480.61 C165.74,480.97 166.71,481.32 167.68,481.66 C168.65,482.00 169.63,482.33 170.61,482.66 C171.59,482.99 172.57,483.30 173.55,483.62 C174.54,483.93 175.53,484.23 176.52,484.53 C177.51,484.83 178.50,485.12 179.49,485.40 C180.49,485.69 181.48,485.97 182.48,486.24 C183.48,486.51 184.48,486.78 185.47,487.04 C186.47,487.30 187.47,487.56 188.47,487.81 C189.47,488.06 190.47,488.30 191.47,488.54 C192.47,488.78 193.47,489.01 194.47,489.24 C195.47,489.47 196.47,489.70 197.47,489.92 C198.47,490.14 199.47,490.35 200.47,490.56 C201.47,490.77 202.47,490.97 203.47,491.17 C204.47,491.37 205.47,491.57 206.47,491.76 C207.47,491.95 208.47,492.14 209.47,492.32 C210.47,492.50 211.47,492.68 212.47,492.86 C213.47,493.03 214.47,493.20 215.48,493.37 C216.48,493.53 217.48,493.69 218.48,493.85 C219.48,494.01 220.48,494.17 221.49,494.32 C222.49,494.47 223.49,494.61 224.49,494.76 C225.49,494.90 226.50,495.04 227.50,495.18 C228.50,495.32 229.51,495.45 230.51,495.58 C231.51,495.71 232.51,495.84 233.52,495.96 C234.52,496.09 235.53,496.21 236.53,496.33 C237.53,496.45 238.54,496.56 239.54,496.68 C240.55,496.79 241.55,496.90 242.55,497.01 C243.56,497.11 244.56,497.22 245.57,497.32 C246.57,497.43 247.58,497.53 248.59,497.62 C249.59,497.72 250.60,497.82 251.60,497.91 C252.61,498.01 253.61,498.10 254.62,498.19 C255.63,498.28 256.63,498.37 257.64,498.45 C258.65,498.54 259.66,498.63 260.66,498.71 C261.67,498.79 262.68,498.87 263.69,498.95 C264.69,499.03 265.70,499.11 266.71,499.19 C267.72,499.27 268.73,499.34 269.74,499.42 C270.75,499.49 271.75,499.57 272.76,499.64 C273.77,499.71 274.78,499.79 275.79,499.86 C276.80,499.93 277.81,500.00 278.82,500.07 C279.83,500.14 280.85,500.21 281.86,500.28 C282.87,500.35 283.88,500.41 284.89,500.48 C285.90,500.55 286.91,500.62 287.93,500.69 C288.94,500.75 289.95,500.82 290.96,500.89 C291.98,500.96 292.99,501.02 294.00,501.09 C295.02,501.16 296.03,501.23 297.05,501.29 C298.06,501.36 299.07,501.43 300.09,501.50 C301.10,501.57 302.12,501.64 303.13,501.71 C304.15,501.78 305.17,501.85 306.18,501.92 C307.20,501.99 308.21,502.06 309.23,502.13 C310.25,502.21 311.27,502.28 312.28,502.36 C313.30,502.43 314.32,502.51 315.34,502.58 C316.35,502.66 317.37,502.74 318.39,502.82 C319.41,502.90 320.43,502.98 321.45,503.07 C322.47,503.15 323.49,503.24 324.51,503.32" stroke="#0072BD"/>
<path d="M47.30,522.40 C47.40,521.39 47.49,520.39 47.59,519.39 C47.68,518.38 47.78,517.37 47.88,516.37 C47.98,515.36 48.09,514.35 48.19,513.34 C48.29,512.33 48.39,511.32 48.50,510.31 C48.60,509.30 48.70,508.29 48.81,507.28 C48.91,506.27 49.02,505.26 49.12,504.25 C49.22,503.23 49.33,502.22 49.43,501.21 C49.54,500.20 49.64,499.18 49.74,498.17 C49.85,497.16 49.95,496.15 50.05,495.14 C50.15,494.12 50.25,493.11 50.35,492.10 C50.45,491.09 50.55,490.08 50.64,489.06 C50.74,488.05 50.83,487.04 50.93,486.03 C51.02,485.02 51.11,484.01 51.20,483.00 C51.29,481.99 51.38,480.98 51.46,479.98 C51.54,478.97 51.62,477.96 51.70,476.96 C51.78,475.95 51.86,474.95 51.93,473.94 C52.00,472.94 52.07,471.93 52.14,470.93 C52.21,469.93 52.27,468.93 52.33,467.93 C52.39,466.93 52.45,465.93 52.51,464.93 C52.57,463.93 52.63,462.93 52.70,461.93 C52.76,460.93 52.82,459.93 52.90,458.93 C52.97,457.92 53.04,456.92 53.12,455.92 C53.20,454.91 53.29,453.90 53.39,452.89 C53.48,451.88 53.59,450.87 53.70,449.85 C53.82,448.84 53.94,447.82 54.08,446.80 C54.22,445.77 54.37,444.74 54.53,443.71 C54.70,442.68 54.87,441.64 55.07,440.60 C55.26,439.56 55.48,438.51 55.70,437.46 C55.94,436.41 56.18,435.35 56.45,434.29 C56.72,433.22 57.00,432.14 57.32,431.08 C57.64,430.03 57.96,428.96 58.36,427.96 C58.74,426.99 59.14,426.01 59.65,425.15 C60.12,424.34 60.64,423.54 61.27,422.91 C61.86,422.32 62.54,421.80 63.27,421.44 C63.97,421.09 64.77,420.86 65.55,420.76 C66.33,420.66 67.17,420.70 67.96,420.84 C68.77,420.99 69.59,421.28 70.35,421.66 C71.14,422.06 71.89,422.60 72.60,423.18 C73.33,423.79 74.01,424.52 74.68,425.25 C75.37,426.01 76.01,426.85 76.66,427.67 C77.32,428.51 77.95,429.39 78.59,430.25 C79.23,431.11 79.87,431.98 80.51,432.84 C81.15,433.70 81.79,434.56 82.43,435.41 C83.07,436.27 83.71,437.12 84.35,437.97 C84.99,438.82 85.64,439.67 86.28,440.51 C86.93,441.35 87.58,442.19 88.23,443.02 C88.88,443.85 89.53,444.67 90.19,445.49 C90.85,446.31 91.51,447.12 92.17,447.92 C92.84,448.72 93.51,449.52 94.19,450.30 C94.86,451.09 95.55,451.86 96.24,452.63 C96.92,453.39 97.62,454.15 98.32,454.90 C99.02,455.64 99.73,456.37 100.45,457.10 C101.17,457.81 101.89,458.52 102.63,459.22 C103.36,459.92 104.11,460.60 104.86,461.27 C105.61,461.94 106.37,462.59 107.15,463.23 C107.92,463.87 108.70,464.50 109.49,465.12 C110.27,465.73 111.07,466.33 111.88,466.92 C112.68,467.51 113.49,468.09 114.32,468.65 C115.14,469.22 115.97,469.77 116.80,470.31 C117.64,470.85 118.48,471.38 119.33,471.90 C120.19,472.42 121.04,472.92 121.91,473.42 C122.77,473.91 123.65,474.40 124.52,474.87 C125.40,475.34 126.29,475.80 127.18,476.26 C128.07,476.71 128.97,477.15 129.87,477.58 C130.77,478.01 131.68,478.44 132.60,478.85 C133.51,479.26 134.43,479.66 135.35,480.06 C136.28,480.45 137.21,480.83 138.14,481.21 C139.08,481.59 140.02,481.95 140.96,482.31 C141.90,482.67 142.85,483.02 143.80,483.36 C144.76,483.70 145.71,484.04 146.67,484.36 C147.63,484.69 148.60,485.01 149.56,485.32 C150.53,485.63 151.50,485.93 152.47,486.23 C153.45,486.53 154.42,486.81 155.40,487.10 C156.38,487.38 157.36,487.66 158.34,487.93 C159.33,488.20 160.31,488.46 161.30,488.72 C162.29,488.98 163.28,489.23 164.27,489.48 C165.26,489.73 166.26,489.97 167.25,490.21 C168.25,490.44 169.24,490.67 170.24,490.90 C171.24,491.13 172.23,491.35 173.23,491.57 C174.23,491.79 175.23,492.00 176.23,492.21 C177.23,492.42 178.23,492.63 179.23,492.83 C180.23,493.03 181.23,493.23 182.23,493.42 C183.23,493.62 184.23,493.81 185.23,494.00 C186.23,494.18 187.23,494.37 188.23,494.55 C189.23,494.73 190.23,494.90 191.24,495.08 C192.24,495.25 193.24,495.42 194.24,495.58 C195.25,495.75 196.25,495.91 197.25,496.07 C198.25,496.23 199.26,496.39 200.26,496.54 C201.26,496.69 202.27,496.84 203.27,496.99 C204.27,497.14 205.28,497.28 206.28,497.42 C207.29,497.56 208.29,497.70 209.29,497.84 C210.30,497.97 211.30,498.10 212.31,498.23 C213.31,498.36 214.32,498.49 215.32,498.62 C216.33,498.74 217.34,498.86 218.34,498.98 C219.35,499.10 220.35,499.22 221.36,499.33 C222.37,499.44 223.37,499.56 224.38,499.67 C225.39,499.77 226.39,499.88 227.40,499.99 C228.41,500.09 229.41,500.19 230.42,500.29 C231.43,500.39 232.44,500.49 233.44,500.59 C234.45,500.69 235.46,500.78 236.47,500.87 C237.48,500.96 238.48,501.05 239.49,501.14 C240.50,501.23 241.51,501.32 242.52,501.40 C243.53,501.49 244.54,501.57 245.55,501.65 C246.55,501.73 247.56,501.81 248.57,501.89 C249.58,501.97 250.59,502.05 251.60,502.12 C252.61,502.20 253.62,502.27 254.63,502.35 C255.64,502.42 256.65,502.49 257.66,502.56 C258.67,502.63 259.68,502.70 260.69,502.77 C261.70,502.84 262.72,502.90 263.73,502.97 C264.74,503.03 265.75,503.10 266.76,503.16 C267.77,503.23 268.78,503.29 269.79,503.35 C270.80,503.41 271.82,503.47 272.83,503.53 C273.84,503.60 274.85,503.65 275.86,503.71 C276.87,503.77 277.89,503.83 278.90,503.89 C279.91,503.95 280.92,504.01 281.94,504.06 C282.95,504.12 283.96,504.18 284.97,504.23 C285.99,504.29 287.00,504.34 288.01,504.40 C289.02,504.46 290.04,504.51 291.05,504.57 C292.06,504.62 293.08,504.68 294.09,504.73 C295.10,504.79 296.11,504.84 297.13,504.90 C298.14,504.95 299.15,505.01 300.17,505.07 C301.18,505.12 302.20,505.18 303.21,505.23 C304.22,505.29 305.24,505.35 306.25,505.40 C307.26,505.46 308.28,505.52 309.29,505.57 C310.30,505.63 311.32,505.69 312.33,505.75 C313.35,505.81 314.36,505.87 315.37,505.93 C316.39,505.99 317.40,506.05 318.42,506.11 C319.43,506.17 320.45,506.23 321.46,506.30 C322.47,506.36 323.49,506.43 324.50,506.49" stroke="#D95319"/>
<path d="M47.20,477.33 C47.44,476.18 47.59,475.00 47.91,473.89 C48.23,472.79 48.63,471.70 49.10,470.68 C49.55,469.68 50.08,468.71 50.66,467.81 C51.23,466.94 51.87,466.11 52.55,465.37 C53.21,464.66 53.92,464.00 54.68,463.46 C55.41,462.94 56.18,462.49 56.98,462.17 C57.76,461.86 58.58,461.65 59.40,461.54 C60.22,461.43 61.07,461.43 61.91,461.50 C62.77,461.57 63.64,461.74 64.50,461.95 C65.39,462.17 66.28,462.48 67.16,462.81 C68.07,463.15 68.97,463.55 69.86,463.98 C70.78,464.41 71.69,464.88 72.60,465.37 C73.52,465.85 74.43,466.37 75.35,466.89 C76.27,467.40 77.18,467.93 78.10,468.45 C79.01,468.97 79.92,469.48 80.84,470.00 C81.75,470.51 82.66,471.03 83.57,471.54 C84.48,472.04 85.38,472.55 86.29,473.05 C87.20,473.56 88.11,474.06 89.02,474.55 C89.92,475.05 90.83,475.54 91.74,476.02 C92.64,476.51 93.55,476.99 94.46,477.47 C95.37,477.94 96.27,478.42 97.18,478.88 C98.09,479.35 99.00,479.81 99.91,480.26 C100.82,480.71 101.74,481.16 102.65,481.60 C103.56,482.04 104.48,482.48 105.40,482.91 C106.31,483.33 107.23,483.75 108.15,484.17 C109.07,484.58 109.99,484.98 110.92,485.38 C111.85,485.78 112.77,486.16 113.70,486.54 C114.63,486.92 115.57,487.29 116.51,487.65 C117.44,488.02 118.38,488.37 119.32,488.71 C120.27,489.05 121.21,489.39 122.16,489.71 C123.11,490.03 124.07,490.35 125.02,490.65 C125.98,490.96 126.94,491.26 127.90,491.55 C128.86,491.84 129.82,492.12 130.79,492.39 C131.76,492.66 132.73,492.93 133.70,493.18 C134.67,493.44 135.65,493.69 136.63,493.93 C137.60,494.17 138.58,494.41 139.56,494.64 C140.55,494.86 141.53,495.08 142.52,495.30 C143.50,495.51 144.49,495.72 145.48,495.92 C146.47,496.12 147.47,496.31 148.46,496.50 C149.45,496.69 150.45,496.87 151.45,497.05 C152.45,497.23 153.44,497.40 154.45,497.57 C155.45,497.73 156.45,497.89 157.45,498.05 C158.46,498.20 159.46,498.36 160.47,498.50 C161.47,498.65 162.48,498.79 163.49,498.93 C164.50,499.07 165.51,499.20 166.52,499.33 C167.53,499.46 168.54,499.58 169.55,499.70 C170.56,499.83 171.57,499.94 172.59,500.06 C173.60,500.18 174.62,500.29 175.63,500.40 C176.64,500.51 177.66,500.61 178.67,500.72 C179.69,500.82 180.70,500.92 181.72,501.02 C182.73,501.12 183.75,501.22 184.77,501.31 C185.78,501.41 186.80,501.50 187.81,501.59 C188.83,501.68 189.84,501.77 190.86,501.86 C191.87,501.95 192.89,502.04 193.90,502.13 C194.92,502.22 195.93,502.30 196.95,502.39 C197.96,502.47 198.97,502.55 199.99,502.64 C201.00,502.72 202.01,502.80 203.03,502.88 C204.04,502.96 205.05,503.04 206.07,503.12 C207.08,503.19 208.09,503.27 209.10,503.35 C210.12,503.42 211.13,503.50 212.14,503.57 C213.15,503.64 214.16,503.71 215.18,503.79 C216.19,503.86 217.20,503.93 218.21,504.00 C219.22,504.07 220.23,504.13 221.24,504.20 C222.26,504.27 223.27,504.34 224.28,504.40 C225.29,504.47 226.30,504.53 227.31,504.59 C228.32,504.66 229.33,504.72 230.34,504.78 C231.35,504.84 232.36,504.90 233.37,504.96 C234.38,505.02 235.39,505.08 236.40,505.14 C237.41,505.20 238.42,505.25 239.43,505.31 C240.44,505.37 241.45,505.42 242.46,505.48 C243.47,505.53 244.49,505.58 245.50,505.64 C246.51,505.69 247.52,505.74 248.53,505.79 C249.54,505.84 250.55,505.89 251.56,505.94 C252.57,505.99 253.58,506.04 254.59,506.09 C255.60,506.14 256.61,506.19 257.62,506.23 C258.63,506.28 259.64,506.32 260.65,506.37 C261.66,506.42 262.67,506.46 263.68,506.50 C264.69,506.55 265.70,506.59 266.71,506.63 C267.72,506.68 268.73,506.72 269.74,506.76 C270.75,506.80 271.76,506.84 272.78,506.88 C273.79,506.92 274.80,506.96 275.81,507.00 C276.82,507.04 277.83,507.07 278.84,507.11 C279.85,507.15 280.87,507.19 281.88,507.22 C282.89,507.26 283.90,507.29 284.91,507.33 C285.93,507.36 286.94,507.40 287.95,507.43 C288.96,507.47 289.98,507.50 290.99,507.53 C292.00,507.57 293.02,507.60 294.03,507.63 C295.04,507.67 296.06,507.70 297.07,507.73 C298.08,507.76 299.10,507.79 300.11,507.82 C301.13,507.85 302.14,507.88 303.16,507.91 C304.17,507.94 305.19,507.97 306.20,508.00 C307.22,508.03 308.23,508.06 309.25,508.08 C310.26,508.11 311.28,508.14 312.30,508.17 C313.31,508.20 314.33,508.22 315.35,508.25 C316.36,508.28 317.38,508.30 318.40,508.33 C319.42,508.36 320.43,508.38 321.45,508.41 C322.47,508.43 323.49,508.46 324.51,508.48" stroke="#EDB120"/>
<path d="M47.60,484.41 C48.59,484.32 49.57,484.19 50.56,484.13 C51.54,484.07 52.53,484.04 53.51,484.04 C54.49,484.04 55.47,484.07 56.44,484.13 C57.42,484.18 58.40,484.27 59.37,484.37 C60.35,484.48 61.32,484.62 62.29,484.77 C63.26,484.92 64.23,485.10 65.20,485.29 C66.17,485.49 67.14,485.70 68.10,485.93 C69.07,486.16 70.04,486.41 71.00,486.67 C71.97,486.93 72.93,487.20 73.90,487.49 C74.86,487.77 75.83,488.07 76.79,488.37 C77.76,488.68 78.72,488.99 79.69,489.31 C80.65,489.63 81.62,489.96 82.58,490.28 C83.55,490.61 84.51,490.94 85.48,491.28 C86.45,491.61 87.42,491.94 88.38,492.27 C89.35,492.60 90.32,492.94 91.29,493.26 C92.26,493.58 93.23,493.91 94.21,494.22 C95.18,494.53 96.16,494.84 97.13,495.14 C98.11,495.44 99.09,495.73 100.07,496.02 C101.04,496.31 102.02,496.58 103.01,496.86 C103.99,497.13 104.97,497.40 105.95,497.66 C106.94,497.92 107.92,498.17 108.91,498.42 C109.90,498.67 110.88,498.91 111.87,499.14 C112.86,499.37 113.85,499.60 114.84,499.82 C115.83,500.05 116.82,500.26 117.82,500.47 C118.81,500.68 119.80,500.88 120.80,501.08 C121.79,501.28 122.79,501.47 123.79,501.65 C124.78,501.84 125.78,502.02 126.78,502.19 C127.78,502.37 128.78,502.53 129.78,502.69 C130.78,502.86 131.78,503.01 132.78,503.16 C133.79,503.31 134.79,503.46 135.79,503.60 C136.80,503.74 137.80,503.87 138.81,504.00 C139.81,504.13 140.82,504.25 141.83,504.37 C142.83,504.49 143.84,504.61 144.85,504.72 C145.86,504.83 146.86,504.93 147.87,505.03 C148.88,505.14 149.89,505.23 150.90,505.33 C151.91,505.42 152.92,505.51 153.93,505.59 C154.95,505.68 155.96,505.76 156.97,505.84 C157.98,505.92 159.00,505.99 160.01,506.07 C161.02,506.14 162.04,506.21 163.05,506.27 C164.06,506.34 165.08,506.40 166.09,506.46 C167.11,506.52 168.12,506.58 169.14,506.63 C170.15,506.69 171.17,506.74 172.18,506.79 C173.20,506.84 174.21,506.89 175.23,506.94 C176.25,506.99 177.26,507.03 178.28,507.07 C179.30,507.12 180.31,507.16 181.33,507.20 C182.35,507.24 183.36,507.28 184.38,507.32 C185.40,507.36 186.41,507.39 187.43,507.43 C188.45,507.47 189.46,507.50 190.48,507.54 C191.50,507.57 192.51,507.60 193.53,507.64 C194.55,507.67 195.57,507.71 196.58,507.74 C197.60,507.77 198.61,507.81 199.63,507.84 C200.65,507.87 201.66,507.91 202.68,507.94 C203.70,507.98 204.71,508.01 205.73,508.04 C206.74,508.08 207.76,508.11 208.78,508.14 C209.79,508.17 210.81,508.21 211.82,508.24 C212.84,508.27 213.85,508.31 214.87,508.34 C215.88,508.37 216.90,508.40 217.91,508.44 C218.93,508.47 219.94,508.50 220.96,508.53 C221.97,508.56 222.99,508.60 224.00,508.63 C225.02,508.66 226.03,508.69 227.05,508.72 C228.06,508.75 229.08,508.78 230.09,508.81 C231.11,508.84 232.12,508.88 233.14,508.91 C234.15,508.94 235.17,508.97 236.18,509.00 C237.20,509.03 238.21,509.06 239.23,509.08 C240.24,509.11 241.25,509.14 242.27,509.17 C243.28,509.20 244.30,509.23 245.31,509.26 C246.33,509.29 247.34,509.31 248.36,509.34 C249.37,509.37 250.38,509.40 251.40,509.42 C252.41,509.45 253.43,509.48 254.44,509.50 C255.46,509.53 256.47,509.56 257.48,509.58 C258.50,509.61 259.51,509.63 260.53,509.66 C261.54,509.68 262.56,509.71 263.57,509.73 C264.58,509.76 265.60,509.78 266.61,509.80 C267.63,509.83 268.64,509.85 269.66,509.87 C270.67,509.90 271.69,509.92 272.70,509.94 C273.71,509.96 274.73,509.98 275.74,510.01 C276.76,510.03 277.77,510.05 278.79,510.07 C279.80,510.09 280.82,510.11 281.83,510.13 C282.85,510.15 283.86,510.17 284.88,510.18 C285.89,510.20 286.91,510.22 287.92,510.24 C288.94,510.26 289.95,510.27 290.97,510.29 C291.98,510.31 293.00,510.32 294.01,510.34 C295.03,510.35 296.04,510.37 297.06,510.38 C298.07,510.40 299.09,510.41 300.11,510.42 C301.12,510.44 302.14,510.45 303.15,510.46 C304.17,510.48 305.19,510.49 306.20,510.50 C307.22,510.51 308.23,510.52 309.25,510.53 C310.27,510.54 311.28,510.55 312.30,510.56 C313.32,510.57 314.33,510.58 315.35,510.58 C316.37,510.59 317.38,510.60 318.40,510.61 C319.42,510.61 320.43,510.62 321.45,510.62 C322.47,510.63 323.49,510.63 324.50,510.64" stroke="#7E2F8E"/>
<path d="M47.60,497.99 C48.60,498.20 49.60,498.41 50.60,498.61 C51.60,498.82 52.60,499.02 53.60,499.22 C54.60,499.42 55.60,499.61 56.60,499.81 C57.61,500.00 58.61,500.19 59.61,500.38 C60.61,500.56 61.61,500.75 62.62,500.93 C63.62,501.11 64.62,501.29 65.63,501.46 C66.63,501.64 67.63,501.81 68.64,501.98 C69.64,502.15 70.64,502.32 71.65,502.48 C72.65,502.65 73.66,502.81 74.66,502.97 C75.67,503.13 76.67,503.28 77.68,503.44 C78.68,503.59 79.69,503.74 80.70,503.89 C81.70,504.04 82.71,504.18 83.71,504.33 C84.72,504.47 85.73,504.61 86.73,504.75 C87.74,504.89 88.75,505.02 89.76,505.15 C90.76,505.29 91.77,505.42 92.78,505.55 C93.79,505.67 94.80,505.80 95.80,505.92 C96.81,506.05 97.82,506.17 98.83,506.29 C99.84,506.41 100.85,506.52 101.86,506.64 C102.87,506.75 103.88,506.86 104.89,506.97 C105.90,507.08 106.91,507.19 107.92,507.29 C108.93,507.40 109.94,507.50 110.95,507.60 C111.96,507.70 112.97,507.80 113.98,507.90 C114.99,507.99 116.00,508.09 117.01,508.18 C118.03,508.27 119.04,508.36 120.05,508.45 C121.06,508.54 122.07,508.63 123.09,508.71 C124.10,508.79 125.11,508.88 126.12,508.96 C127.14,509.04 128.15,509.12 129.16,509.19 C130.17,509.27 131.19,509.34 132.20,509.42 C133.21,509.49 134.23,509.56 135.24,509.63 C136.26,509.70 137.27,509.77 138.28,509.83 C139.30,509.90 140.31,509.96 141.33,510.03 C142.34,510.09 143.35,510.15 144.37,510.21 C145.38,510.27 146.40,510.33 147.41,510.38 C148.43,510.44 149.44,510.49 150.46,510.55 C151.47,510.60 152.49,510.65 153.51,510.70 C154.52,510.75 155.54,510.80 156.55,510.84 C157.57,510.89 158.58,510.94 159.60,510.98 C160.62,511.02 161.63,511.07 162.65,511.11 C163.66,511.15 164.68,511.19 165.70,511.23 C166.71,511.27 167.73,511.30 168.75,511.34 C169.76,511.38 170.78,511.41 171.80,511.44 C172.82,511.48 173.83,511.51 174.85,511.54 C175.87,511.57 176.88,511.60 177.90,511.63 C178.92,511.66 179.94,511.69 180.95,511.71 C181.97,511.74 182.99,511.77 184.01,511.79 C185.02,511.81 186.04,511.84 187.06,511.86 C188.08,511.88 189.10,511.90 190.11,511.93 C191.13,511.95 192.15,511.97 193.17,511.98 C194.19,512.00 195.20,512.02 196.22,512.04 C197.24,512.05 198.26,512.07 199.28,512.09 C200.30,512.10 201.32,512.12 202.33,512.13 C203.35,512.14 204.37,512.16 205.39,512.17 C206.41,512.18 207.43,512.19 208.45,512.20 C209.46,512.21 210.48,512.22 211.50,512.23 C212.52,512.24 213.54,512.25 214.56,512.26 C215.58,512.27 216.60,512.28 217.62,512.29 C218.63,512.29 219.65,512.30 220.67,512.31 C221.69,512.31 222.71,512.32 223.73,512.32 C224.75,512.33 225.77,512.33 226.79,512.34 C227.81,512.34 228.83,512.35 229.84,512.35 C230.86,512.36 231.88,512.36 232.90,512.36 C233.92,512.37 234.94,512.37 235.96,512.37 C236.98,512.37 238.00,512.38 239.02,512.38 C240.04,512.38 241.05,512.38 242.07,512.39 C243.09,512.39 244.11,512.39 245.13,512.39 C246.15,512.39 247.17,512.39 248.19,512.40 C249.21,512.40 250.23,512.40 251.25,512.40 C252.26,512.40 253.28,512.40 254.30,512.41 C255.32,512.41 256.34,512.41 257.36,512.41 C258.38,512.41 259.40,512.41 260.42,512.42 C261.43,512.42 262.45,512.42 263.47,512.42 C264.49,512.42 265.51,512.43 266.53,512.43 C267.55,512.43 268.56,512.43 269.58,512.44 C270.60,512.44 271.62,512.44 272.64,512.45 C273.66,512.45 274.67,512.45 275.69,512.46 C276.71,512.46 277.73,512.47 278.75,512.47 C279.77,512.48 280.78,512.48 281.80,512.49 C282.82,512.49 283.84,512.50 284.85,512.51 C285.87,512.51 286.89,512.52 287.91,512.53 C288.92,512.54 289.94,512.54 290.96,512.55 C291.98,512.56 292.99,512.57 294.01,512.58 C295.03,512.59 296.05,512.60 297.06,512.61 C298.08,512.63 299.10,512.64 300.11,512.65 C301.13,512.66 302.15,512.68 303.16,512.69 C304.18,512.71 305.20,512.72 306.21,512.74 C307.23,512.75 308.25,512.77 309.26,512.79 C310.28,512.81 311.29,512.82 312.31,512.84 C313.32,512.86 314.34,512.88 315.36,512.90 C316.37,512.93 317.39,512.95 318.40,512.97 C319.42,512.99 320.43,513.02 321.45,513.04 C322.46,513.07 323.48,513.10 324.49,513.12" stroke="#77AC30"/>
<path d="M47.60,529.60 C48.61,529.56 49.63,529.51 50.64,529.47 C51.65,529.42 52.67,529.38 53.68,529.34 C54.70,529.30 55.71,529.25 56.72,529.21 C57.74,529.17 58.75,529.13 59.77,529.08 C60.78,529.04 61.79,529.00 62.81,528.96 C63.82,528.92 64.83,528.88 65.85,528.84 C66.86,528.80 67.88,528.76 68.89,528.72 C69.90,528.68 70.92,528.64 71.93,528.61 C72.95,528.57 73.96,528.53 74.97,528.49 C75.99,528.45 77.00,528.42 78.01,528.38 C79.03,528.34 80.04,528.31 81.06,528.27 C82.07,528.24 83.08,528.20 84.10,528.16 C85.11,528.13 86.13,528.09 87.14,528.06 C88.15,528.02 89.17,527.99 90.18,527.96 C91.20,527.92 92.21,527.89 93.22,527.86 C94.24,527.82 95.25,527.79 96.27,527.76 C97.28,527.72 98.30,527.69 99.31,527.66 C100.32,527.63 101.34,527.60 102.35,527.56 C103.37,527.53 104.38,527.50 105.39,527.47 C106.41,527.44 107.42,527.41 108.44,527.38 C109.45,527.35 110.46,527.32 111.48,527.29 C112.49,527.26 113.51,527.23 114.52,527.20 C115.54,527.17 116.55,527.14 117.56,527.12 C118.58,527.09 119.59,527.06 120.61,527.03 C121.62,527.00 122.63,526.98 123.65,526.95 C124.66,526.92 125.68,526.89 126.69,526.87 C127.71,526.84 128.72,526.81 129.73,526.79 C130.75,526.76 131.76,526.73 132.78,526.71 C133.79,526.68 134.81,526.66 135.82,526.63 C136.83,526.61 137.85,526.58 138.86,526.56 C139.88,526.53 140.89,526.51 141.90,526.48 C142.92,526.46 143.93,526.43 144.95,526.41 C145.96,526.39 146.98,526.36 147.99,526.34 C149.01,526.31 150.02,526.29 151.03,526.27 C152.05,526.24 153.06,526.22 154.08,526.20 C155.09,526.18 156.11,526.15 157.12,526.13 C158.13,526.11 159.15,526.09 160.16,526.06 C161.18,526.04 162.19,526.02 163.21,526.00 C164.22,525.98 165.23,525.96 166.25,525.93 C167.26,525.91 168.28,525.89 169.29,525.87 C170.31,525.85 171.32,525.83 172.34,525.81 C173.35,525.79 174.36,525.77 175.38,525.75 C176.39,525.73 177.41,525.71 178.42,525.69 C179.44,525.67 180.45,525.65 181.46,525.63 C182.48,525.61 183.49,525.59 184.51,525.57 C185.52,525.55 186.54,525.53 187.55,525.51 C188.57,525.49 189.58,525.47 190.59,525.45 C191.61,525.43 192.62,525.41 193.64,525.39 C194.65,525.37 195.67,525.36 196.68,525.34 C197.70,525.32 198.71,525.30 199.72,525.28 C200.74,525.26 201.75,525.24 202.77,525.23 C203.78,525.21 204.80,525.19 205.81,525.17 C206.83,525.15 207.84,525.13 208.85,525.12 C209.87,525.10 210.88,525.08 211.90,525.06 C212.91,525.05 213.93,525.03 214.94,525.01 C215.96,524.99 216.97,524.97 217.98,524.96 C219.00,524.94 220.01,524.92 221.03,524.90 C222.04,524.89 223.06,524.87 224.07,524.85 C225.09,524.83 226.10,524.82 227.11,524.80 C228.13,524.78 229.14,524.76 230.16,524.75 C231.17,524.73 232.19,524.71 233.20,524.70 C234.22,524.68 235.23,524.66 236.25,524.64 C237.26,524.63 238.27,524.61 239.29,524.59 C240.30,524.57 241.32,524.56 242.33,524.54 C243.35,524.52 244.36,524.51 245.38,524.49 C246.39,524.47 247.40,524.45 248.42,524.44 C249.43,524.42 250.45,524.40 251.46,524.38 C252.48,524.37 253.49,524.35 254.51,524.33 C255.52,524.32 256.53,524.30 257.55,524.28 C258.56,524.26 259.58,524.25 260.59,524.23 C261.61,524.21 262.62,524.19 263.64,524.18 C264.65,524.16 265.66,524.14 266.68,524.12 C267.69,524.10 268.71,524.09 269.72,524.07 C270.74,524.05 271.75,524.03 272.77,524.01 C273.78,524.00 274.79,523.98 275.81,523.96 C276.82,523.94 277.84,523.92 278.85,523.91 C279.87,523.89 280.88,523.87 281.90,523.85 C282.91,523.83 283.92,523.81 284.94,523.80 C285.95,523.78 286.97,523.76 287.98,523.74 C289.00,523.72 290.01,523.70 291.03,523.68 C292.04,523.66 293.05,523.64 294.07,523.62 C295.08,523.60 296.10,523.59 297.11,523.57 C298.13,523.55 299.14,523.53 300.16,523.51 C301.17,523.49 302.18,523.47 303.20,523.45 C304.21,523.43 305.23,523.41 306.24,523.39 C307.26,523.37 308.27,523.35 309.28,523.32 C310.30,523.30 311.31,523.28 312.33,523.26 C313.34,523.24 314.36,523.22 315.37,523.20 C316.39,523.18 317.40,523.16 318.41,523.13 C319.43,523.11 320.44,523.09 321.46,523.07 C322.47,523.05 323.49,523.02 324.50,523.00" stroke="#4DBEEE"/>
</g>
<rect x="44.5" y="322.4" width="280.00" height="236.50" fill="none" stroke="#606060" stroke-width="1.15"/>
<path d="M44.50,558.9v-2.8 M44.50,322.4v2.8 M100.50,558.9v-2.8 M100.50,322.4v2.8 M156.50,558.9v-2.8 M156.50,322.4v2.8 M212.50,558.9v-2.8 M212.50,322.4v2.8 M268.50,558.9v-2.8 M268.50,322.4v2.8 M324.50,558.9v-2.8 M324.50,322.4v2.8 M44.5,558.90h2.8 M324.5,558.90h-2.8 M44.5,525.11h2.8 M324.5,525.11h-2.8 M44.5,491.33h2.8 M324.5,491.33h-2.8 M44.5,457.54h2.8 M324.5,457.54h-2.8 M44.5,423.76h2.8 M324.5,423.76h-2.8 M44.5,389.97h2.8 M324.5,389.97h-2.8 M44.5,356.19h2.8 M324.5,356.19h-2.8 M44.5,322.40h2.8 M324.5,322.40h-2.8" stroke="#606060" stroke-width="1" fill="none"/>
<g font-family="Liberation Sans" font-size="14.6" fill="#111" stroke="#111" stroke-width="0.22"><text x="40.44" y="575.35">0</text><text x="90.35" y="575.35">0.2</text><text x="146.35" y="575.35">0.4</text><text x="202.35" y="575.35">0.6</text><text x="258.35" y="575.35">0.8</text><path d="M325.77,575.35 L324.31,575.35 L324.31,567.61 C323.65,568.20 322.78,568.34 322.05,568.34 L322.05,567.25 C323.36,567.17 324.09,566.44 324.46,565.13 L325.77,565.13 Z"/><text x="33.48" y="564.80">0</text><text x="21.31" y="531.01">0.5</text><path d="M38.81,497.23 L37.35,497.23 L37.35,489.49 C36.69,490.07 35.82,490.22 35.09,490.22 L35.09,489.13 C36.40,489.05 37.13,488.32 37.50,487.01 L38.81,487.01 Z"/><path d="M26.64,463.44 L25.18,463.44 L25.18,455.70 C24.52,456.29 23.64,456.43 22.91,456.43 L22.91,455.34 C24.23,455.27 24.96,454.54 25.32,453.22 L26.64,453.22 Z"/><text x="29.42" y="463.44">.5</text><text x="33.48" y="429.66">2</text><text x="21.31" y="395.87">2.5</text><text x="33.48" y="362.09">3</text><text x="21.31" y="328.30">3.5</text></g>
<text transform="translate(13.00,440.65) rotate(-90) scale(0.9,1)" text-anchor="middle" font-family="Liberation Sans" font-size="16" fill="#1a1a1a">G</text>
<path d="M182.60,580.40 Q184.00,580.40 184.80,582.60 L188.40,591.80 M185.20,586.30 L180.80,591.90" fill="none" stroke="#222" stroke-width="1.15" stroke-linecap="round"/>
<text x="171.90" y="616.70" text-anchor="middle" font-family="Liberation Serif" font-size="15.6" textLength="18.27" lengthAdjust="spacingAndGlyphs" fill="#000">(c)</text>
<g fill="#1a1a1a"><line x1="224.1" x2="255.6" y1="345.60" y2="345.60" stroke="#0072BD" stroke-width="2.6"/><text x="258.5" y="350.40" font-family="Liberation Serif" font-style="italic" font-size="14.2">&#945;</text><line x1="271.2" x2="280.7" y1="345.00" y2="345.00" stroke="#222" stroke-width="0.85"/><line x1="271.2" x2="280.7" y1="348.00" y2="348.00" stroke="#222" stroke-width="0.85"/><text x="284.3" y="350.40" font-family="Liberation Serif" font-size="14.2">0.1</text><line x1="224.1" x2="255.6" y1="358.60" y2="358.60" stroke="#D95319" stroke-width="2.6"/><text x="258.5" y="363.40" font-family="Liberation Serif" font-style="italic" font-size="14.2">&#945;</text><line x1="271.2" x2="280.7" y1="358.00" y2="358.00" stroke="#222" stroke-width="0.85"/><line x1="271.2" x2="280.7" y1="361.00" y2="361.00" stroke="#222" stroke-width="0.85"/><text x="284.3" y="363.40" font-family="Liberation Serif" font-size="14.2">0.2</text><line x1="224.1" x2="255.6" y1="371.60" y2="371.60" stroke="#EDB120" stroke-width="2.6"/><text x="258.5" y="376.40" font-family="Liberation Serif" font-style="italic" font-size="14.2">&#945;</text><line x1="271.2" x2="280.7" y1="371.00" y2="371.00" stroke="#222" stroke-width="0.85"/><line x1="271.2" x2="280.7" y1="374.00" y2="374.00" stroke="#222" stroke-width="0.85"/><text x="284.3" y="376.40" font-family="Liberation Serif" font-size="14.2">0.3</text><line x1="224.1" x2="255.6" y1="384.60" y2="384.60" stroke="#7E2F8E" stroke-width="2.6"/><text x="258.5" y="389.40" font-family="Liberation Serif" font-style="italic" font-size="14.2">&#945;</text><line x1="271.2" x2="280.7" y1="384.00" y2="384.00" stroke="#222" stroke-width="0.85"/><line x1="271.2" x2="280.7" y1="387.00" y2="387.00" stroke="#222" stroke-width="0.85"/><text x="284.3" y="389.40" font-family="Liberation Serif" font-size="14.2">0.4</text><line x1="224.1" x2="255.6" y1="397.60" y2="397.60" stroke="#77AC30" stroke-width="2.6"/><text x="258.5" y="402.40" font-family="Liberation Serif" font-style="italic" font-size="14.2">&#945;</text><line x1="271.2" x2="280.7" y1="397.00" y2="397.00" stroke="#222" stroke-width="0.85"/><line x1="271.2" x2="280.7" y1="400.00" y2="400.00" stroke="#222" stroke-width="0.85"/><text x="284.3" y="402.40" font-family="Liberation Serif" font-size="14.2">0.5</text><line x1="224.1" x2="255.6" y1="410.60" y2="410.60" stroke="#4DBEEE" stroke-width="2.6"/><text x="258.5" y="415.40" font-family="Liberation Serif" font-style="italic" font-size="14.2">&#945;</text><line x1="271.2" x2="280.7" y1="410.00" y2="410.00" stroke="#222" stroke-width="0.85"/><line x1="271.2" x2="280.7" y1="413.00" y2="413.00" stroke="#222" stroke-width="0.85"/><text x="284.3" y="415.40" font-family="Liberation Serif" font-size="14.2">1</text></g>
<g fill="none" stroke-width="2.6" stroke-linejoin="round" stroke-linecap="butt">
<path d="M405.69,486.12 C406.70,486.32 407.70,486.51 408.70,486.70 C409.70,486.90 410.70,487.09 411.71,487.27 C412.71,487.46 413.71,487.64 414.71,487.82 C415.72,488.00 416.72,488.18 417.72,488.35 C418.73,488.53 419.73,488.70 420.73,488.87 C421.74,489.04 422.74,489.21 423.75,489.37 C424.75,489.54 425.76,489.70 426.76,489.86 C427.77,490.02 428.77,490.18 429.78,490.33 C430.78,490.49 431.79,490.64 432.79,490.79 C433.80,490.94 434.81,491.08 435.81,491.23 C436.82,491.37 437.82,491.52 438.83,491.65 C439.84,491.79 440.85,491.93 441.85,492.07 C442.86,492.20 443.87,492.33 444.88,492.47 C445.88,492.60 446.89,492.72 447.90,492.85 C448.91,492.98 449.92,493.10 450.92,493.22 C451.93,493.34 452.94,493.46 453.95,493.58 C454.96,493.69 455.97,493.81 456.98,493.92 C457.99,494.03 459.00,494.15 460.01,494.25 C461.02,494.36 462.03,494.47 463.04,494.57 C464.05,494.68 465.06,494.78 466.07,494.88 C467.08,494.98 468.09,495.08 469.10,495.17 C470.11,495.27 471.12,495.36 472.13,495.46 C473.14,495.55 474.15,495.64 475.17,495.73 C476.18,495.82 477.19,495.90 478.20,495.99 C479.21,496.07 480.22,496.16 481.24,496.24 C482.25,496.32 483.26,496.40 484.27,496.48 C485.29,496.55 486.30,496.63 487.31,496.70 C488.33,496.78 489.34,496.85 490.35,496.92 C491.36,496.99 492.38,497.06 493.39,497.13 C494.40,497.20 495.42,497.26 496.43,497.33 C497.45,497.39 498.46,497.45 499.47,497.51 C500.49,497.58 501.50,497.64 502.52,497.69 C503.53,497.75 504.54,497.81 505.56,497.86 C506.57,497.92 507.59,497.97 508.60,498.02 C509.62,498.08 510.63,498.13 511.65,498.18 C512.66,498.23 513.68,498.28 514.69,498.32 C515.71,498.37 516.72,498.41 517.74,498.46 C518.75,498.50 519.77,498.55 520.79,498.59 C521.80,498.63 522.82,498.67 523.83,498.71 C524.85,498.75 525.86,498.79 526.88,498.82 C527.90,498.86 528.91,498.89 529.93,498.93 C530.95,498.96 531.96,499.00 532.98,499.03 C533.99,499.06 535.01,499.09 536.03,499.12 C537.04,499.15 538.06,499.18 539.08,499.21 C540.09,499.24 541.11,499.27 542.13,499.29 C543.15,499.32 544.16,499.34 545.18,499.37 C546.20,499.39 547.21,499.41 548.23,499.44 C549.25,499.46 550.27,499.48 551.28,499.50 C552.30,499.52 553.32,499.54 554.33,499.56 C555.35,499.58 556.37,499.60 557.39,499.62 C558.40,499.64 559.42,499.65 560.44,499.67 C561.46,499.68 562.48,499.70 563.49,499.71 C564.51,499.73 565.53,499.74 566.55,499.76 C567.56,499.77 568.58,499.78 569.60,499.80 C570.62,499.81 571.64,499.82 572.65,499.83 C573.67,499.84 574.69,499.85 575.71,499.86 C576.73,499.87 577.74,499.88 578.76,499.89 C579.78,499.90 580.80,499.91 581.82,499.92 C582.83,499.93 583.85,499.94 584.87,499.94 C585.89,499.95 586.91,499.96 587.92,499.97 C588.94,499.97 589.96,499.98 590.98,499.99 C592.00,499.99 593.01,500.00 594.03,500.00 C595.05,500.01 596.07,500.01 597.09,500.02 C598.10,500.03 599.12,500.03 600.14,500.04 C601.16,500.04 602.18,500.05 603.20,500.05 C604.21,500.06 605.23,500.06 606.25,500.06 C607.27,500.07 608.29,500.07 609.30,500.08 C610.32,500.08 611.34,500.09 612.36,500.09 C613.37,500.10 614.39,500.10 615.41,500.10 C616.43,500.11 617.45,500.11 618.46,500.12 C619.48,500.12 620.50,500.13 621.52,500.13 C622.54,500.14 623.55,500.14 624.57,500.15 C625.59,500.15 626.61,500.16 627.62,500.16 C628.64,500.17 629.66,500.17 630.68,500.18 C631.69,500.19 632.71,500.19 633.73,500.20 C634.74,500.21 635.76,500.21 636.78,500.22 C637.80,500.23 638.81,500.23 639.83,500.24 C640.85,500.25 641.86,500.26 642.88,500.27 C643.90,500.28 644.91,500.29 645.93,500.30 C646.95,500.31 647.96,500.32 648.98,500.33 C650.00,500.34 651.01,500.35 652.03,500.36 C653.05,500.37 654.06,500.38 655.08,500.40 C656.10,500.41 657.11,500.42 658.13,500.44 C659.14,500.45 660.16,500.47 661.18,500.48 C662.19,500.50 663.21,500.51 664.22,500.53 C665.24,500.55 666.25,500.57 667.27,500.58 C668.29,500.60 669.30,500.62 670.32,500.64 C671.33,500.66 672.35,500.68 673.36,500.70 C674.38,500.73 675.39,500.75 676.41,500.77 C677.42,500.79 678.43,500.82 679.45,500.84 C680.46,500.87 681.48,500.90 682.49,500.92" stroke="#0072BD"/>
<path d="M405.70,455.42 C406.68,455.09 407.67,454.68 408.66,454.43 C409.63,454.19 410.60,454.03 411.57,453.94 C412.52,453.85 413.48,453.84 414.42,453.88 C415.37,453.93 416.31,454.05 417.24,454.21 C418.17,454.37 419.10,454.60 420.02,454.85 C420.95,455.11 421.86,455.43 422.78,455.76 C423.70,456.09 424.61,456.47 425.52,456.86 C426.43,457.25 427.34,457.68 428.25,458.10 C429.16,458.53 430.07,458.98 430.98,459.42 C431.89,459.87 432.81,460.32 433.72,460.76 C434.64,461.20 435.56,461.64 436.48,462.07 C437.40,462.50 438.32,462.93 439.25,463.35 C440.18,463.77 441.11,464.18 442.04,464.59 C442.97,465.00 443.91,465.40 444.84,465.80 C445.78,466.19 446.72,466.58 447.66,466.97 C448.60,467.35 449.55,467.73 450.49,468.10 C451.44,468.47 452.39,468.84 453.34,469.19 C454.29,469.55 455.24,469.91 456.20,470.25 C457.15,470.60 458.11,470.94 459.07,471.27 C460.03,471.60 460.99,471.93 461.95,472.25 C462.92,472.57 463.88,472.88 464.85,473.19 C465.82,473.49 466.79,473.79 467.76,474.09 C468.73,474.38 469.70,474.66 470.67,474.94 C471.65,475.22 472.62,475.49 473.60,475.76 C474.58,476.03 475.56,476.28 476.54,476.54 C477.52,476.79 478.50,477.03 479.49,477.27 C480.47,477.51 481.45,477.74 482.44,477.96 C483.43,478.18 484.41,478.40 485.40,478.61 C486.39,478.82 487.38,479.02 488.38,479.22 C489.37,479.42 490.36,479.61 491.35,479.80 C492.35,479.98 493.34,480.16 494.34,480.34 C495.34,480.51 496.33,480.68 497.33,480.85 C498.33,481.01 499.33,481.17 500.33,481.32 C501.33,481.48 502.33,481.63 503.34,481.77 C504.34,481.91 505.34,482.05 506.35,482.19 C507.35,482.32 508.36,482.45 509.36,482.58 C510.37,482.71 511.38,482.83 512.38,482.95 C513.39,483.07 514.40,483.18 515.41,483.29 C516.42,483.40 517.42,483.51 518.43,483.61 C519.44,483.72 520.46,483.82 521.47,483.92 C522.48,484.02 523.49,484.11 524.50,484.20 C525.51,484.30 526.52,484.39 527.54,484.47 C528.55,484.56 529.56,484.64 530.58,484.73 C531.59,484.81 532.60,484.89 533.62,484.97 C534.63,485.05 535.64,485.12 536.66,485.20 C537.67,485.27 538.69,485.35 539.70,485.42 C540.71,485.49 541.73,485.56 542.74,485.63 C543.76,485.70 544.77,485.77 545.79,485.84 C546.80,485.91 547.82,485.98 548.83,486.04 C549.84,486.11 550.86,486.18 551.87,486.24 C552.89,486.31 553.90,486.38 554.91,486.44 C555.93,486.51 556.94,486.57 557.95,486.64 C558.97,486.70 559.98,486.77 560.99,486.83 C562.00,486.90 563.02,486.96 564.03,487.02 C565.04,487.09 566.06,487.15 567.07,487.21 C568.08,487.28 569.09,487.34 570.11,487.40 C571.12,487.46 572.13,487.52 573.14,487.59 C574.15,487.65 575.17,487.71 576.18,487.77 C577.19,487.83 578.20,487.89 579.21,487.95 C580.23,488.01 581.24,488.07 582.25,488.12 C583.26,488.18 584.27,488.24 585.28,488.30 C586.30,488.36 587.31,488.41 588.32,488.47 C589.33,488.53 590.34,488.58 591.35,488.64 C592.36,488.69 593.37,488.75 594.39,488.80 C595.40,488.86 596.41,488.91 597.42,488.97 C598.43,489.02 599.44,489.07 600.45,489.13 C601.46,489.18 602.48,489.23 603.49,489.28 C604.50,489.33 605.51,489.38 606.52,489.43 C607.53,489.49 608.54,489.54 609.55,489.58 C610.56,489.63 611.58,489.68 612.59,489.73 C613.60,489.78 614.61,489.83 615.62,489.87 C616.63,489.92 617.64,489.97 618.65,490.01 C619.67,490.06 620.68,490.10 621.69,490.15 C622.70,490.19 623.71,490.24 624.72,490.28 C625.73,490.32 626.75,490.37 627.76,490.41 C628.77,490.45 629.78,490.49 630.79,490.53 C631.81,490.57 632.82,490.61 633.83,490.65 C634.84,490.69 635.85,490.73 636.87,490.77 C637.88,490.81 638.89,490.85 639.90,490.88 C640.91,490.92 641.93,490.96 642.94,490.99 C643.95,491.03 644.96,491.06 645.98,491.09 C646.99,491.13 648.00,491.16 649.02,491.19 C650.03,491.23 651.04,491.26 652.06,491.29 C653.07,491.32 654.08,491.35 655.10,491.38 C656.11,491.41 657.12,491.44 658.14,491.47 C659.15,491.50 660.16,491.52 661.18,491.55 C662.19,491.58 663.21,491.60 664.22,491.63 C665.24,491.65 666.25,491.68 667.27,491.70 C668.28,491.72 669.30,491.75 670.31,491.77 C671.33,491.79 672.34,491.81 673.36,491.83 C674.37,491.85 675.39,491.87 676.41,491.89 C677.42,491.91 678.44,491.93 679.45,491.94 C680.47,491.96 681.49,491.98 682.50,491.99" stroke="#D95319"/>
<path d="M405.68,448.95 C406.51,448.12 407.30,447.16 408.17,446.44 C408.98,445.78 409.83,445.20 410.69,444.74 C411.52,444.31 412.37,443.98 413.24,443.76 C414.08,443.54 414.94,443.44 415.80,443.41 C416.66,443.39 417.53,443.47 418.38,443.61 C419.26,443.75 420.13,443.99 420.99,444.27 C421.87,444.56 422.74,444.92 423.60,445.31 C424.49,445.70 425.36,446.16 426.24,446.63 C427.13,447.11 428.01,447.63 428.88,448.15 C429.77,448.68 430.66,449.24 431.55,449.79 C432.44,450.34 433.32,450.90 434.22,451.45 C435.11,452.00 436.00,452.55 436.90,453.09 C437.79,453.63 438.69,454.16 439.59,454.69 C440.49,455.22 441.39,455.74 442.30,456.25 C443.20,456.76 444.10,457.27 445.01,457.77 C445.92,458.27 446.83,458.77 447.74,459.25 C448.65,459.74 449.57,460.22 450.48,460.69 C451.40,461.16 452.32,461.63 453.24,462.08 C454.16,462.54 455.08,462.99 456.01,463.43 C456.93,463.87 457.86,464.30 458.79,464.73 C459.72,465.15 460.65,465.57 461.59,465.98 C462.53,466.38 463.46,466.78 464.41,467.17 C465.35,467.56 466.29,467.94 467.24,468.31 C468.18,468.68 469.13,469.05 470.08,469.40 C471.03,469.75 471.99,470.10 472.95,470.43 C473.90,470.76 474.86,471.09 475.83,471.40 C476.79,471.72 477.76,472.02 478.73,472.32 C479.69,472.61 480.66,472.90 481.64,473.18 C482.61,473.46 483.59,473.73 484.57,473.99 C485.54,474.25 486.53,474.51 487.51,474.76 C488.49,475.00 489.48,475.24 490.46,475.47 C491.45,475.70 492.44,475.93 493.43,476.14 C494.42,476.36 495.42,476.57 496.41,476.77 C497.41,476.98 498.40,477.17 499.40,477.36 C500.40,477.55 501.40,477.74 502.40,477.92 C503.41,478.09 504.41,478.27 505.41,478.43 C506.42,478.60 507.43,478.76 508.43,478.92 C509.44,479.07 510.45,479.22 511.46,479.37 C512.47,479.51 513.48,479.65 514.49,479.79 C515.51,479.93 516.52,480.06 517.53,480.19 C518.55,480.32 519.56,480.44 520.58,480.56 C521.59,480.68 522.61,480.80 523.63,480.91 C524.65,481.03 525.66,481.14 526.68,481.24 C527.70,481.35 528.72,481.45 529.74,481.56 C530.76,481.66 531.78,481.76 532.80,481.85 C533.82,481.95 534.84,482.05 535.86,482.14 C536.88,482.23 537.90,482.32 538.92,482.41 C539.94,482.50 540.96,482.59 541.98,482.68 C543.01,482.77 544.03,482.85 545.05,482.94 C546.07,483.02 547.09,483.11 548.11,483.19 C549.13,483.28 550.15,483.36 551.16,483.44 C552.18,483.52 553.20,483.61 554.22,483.69 C555.24,483.77 556.26,483.85 557.28,483.93 C558.30,484.00 559.32,484.08 560.33,484.16 C561.35,484.24 562.37,484.31 563.39,484.39 C564.41,484.47 565.42,484.54 566.44,484.62 C567.46,484.69 568.48,484.76 569.49,484.84 C570.51,484.91 571.53,484.98 572.55,485.05 C573.56,485.12 574.58,485.19 575.60,485.26 C576.62,485.33 577.63,485.40 578.65,485.47 C579.67,485.54 580.68,485.61 581.70,485.67 C582.72,485.74 583.73,485.80 584.75,485.87 C585.77,485.93 586.78,486.00 587.80,486.06 C588.81,486.13 589.83,486.19 590.85,486.25 C591.86,486.31 592.88,486.37 593.90,486.43 C594.91,486.50 595.93,486.56 596.94,486.61 C597.96,486.67 598.98,486.73 599.99,486.79 C601.01,486.85 602.03,486.90 603.04,486.96 C604.06,487.02 605.07,487.07 606.09,487.13 C607.11,487.18 608.12,487.23 609.14,487.29 C610.15,487.34 611.17,487.39 612.19,487.44 C613.20,487.50 614.22,487.55 615.24,487.60 C616.25,487.65 617.27,487.70 618.29,487.75 C619.30,487.79 620.32,487.84 621.33,487.89 C622.35,487.94 623.37,487.98 624.38,488.03 C625.40,488.08 626.42,488.12 627.44,488.17 C628.45,488.21 629.47,488.25 630.49,488.30 C631.50,488.34 632.52,488.38 633.54,488.42 C634.56,488.47 635.57,488.51 636.59,488.55 C637.61,488.59 638.63,488.63 639.64,488.67 C640.66,488.71 641.68,488.74 642.70,488.78 C643.72,488.82 644.73,488.86 645.75,488.89 C646.77,488.93 647.79,488.96 648.81,489.00 C649.83,489.03 650.85,489.07 651.87,489.10 C652.88,489.14 653.90,489.17 654.92,489.20 C655.94,489.23 656.96,489.26 657.98,489.30 C659.00,489.33 660.02,489.36 661.04,489.39 C662.06,489.42 663.08,489.45 664.10,489.47 C665.13,489.50 666.15,489.53 667.17,489.56 C668.19,489.58 669.21,489.61 670.23,489.64 C671.25,489.66 672.28,489.69 673.30,489.71 C674.32,489.73 675.34,489.76 676.37,489.78 C677.39,489.80 678.41,489.83 679.44,489.85 C680.46,489.87 681.48,489.89 682.51,489.91" stroke="#EDB120"/>
<path d="M405.50,446.52 C405.64,445.32 405.66,444.08 405.91,442.93 C406.15,441.82 406.49,440.74 406.93,439.73 C407.35,438.74 407.86,437.80 408.45,436.94 C409.02,436.10 409.67,435.32 410.38,434.62 C411.06,433.95 411.82,433.34 412.61,432.83 C413.38,432.33 414.21,431.91 415.05,431.60 C415.87,431.29 416.73,431.08 417.58,430.98 C418.43,430.89 419.29,430.91 420.13,431.02 C420.98,431.13 421.83,431.37 422.66,431.66 C423.51,431.95 424.34,432.36 425.16,432.79 C426.01,433.23 426.84,433.76 427.66,434.31 C428.50,434.86 429.32,435.48 430.14,436.10 C430.98,436.73 431.80,437.40 432.63,438.06 C433.47,438.72 434.29,439.41 435.13,440.08 C435.96,440.74 436.79,441.41 437.63,442.06 C438.47,442.71 439.31,443.35 440.15,443.99 C440.99,444.62 441.84,445.24 442.69,445.86 C443.53,446.47 444.38,447.08 445.24,447.68 C446.09,448.27 446.94,448.86 447.80,449.44 C448.66,450.02 449.52,450.58 450.39,451.14 C451.25,451.70 452.11,452.25 452.99,452.79 C453.85,453.33 454.73,453.86 455.60,454.38 C456.48,454.90 457.36,455.42 458.24,455.92 C459.12,456.42 460.01,456.91 460.90,457.39 C461.79,457.88 462.68,458.35 463.58,458.81 C464.47,459.28 465.37,459.73 466.28,460.18 C467.18,460.62 468.09,461.05 469.00,461.48 C469.91,461.90 470.83,462.32 471.75,462.72 C472.67,463.13 473.59,463.52 474.52,463.91 C475.44,464.29 476.37,464.67 477.31,465.04 C478.24,465.40 479.18,465.76 480.13,466.11 C481.07,466.46 482.01,466.80 482.96,467.13 C483.91,467.46 484.86,467.79 485.82,468.10 C486.78,468.42 487.73,468.72 488.70,469.02 C489.66,469.32 490.62,469.61 491.59,469.89 C492.56,470.18 493.53,470.45 494.50,470.72 C495.48,470.99 496.45,471.25 497.43,471.50 C498.41,471.76 499.39,472.00 500.37,472.25 C501.36,472.49 502.34,472.72 503.33,472.95 C504.32,473.18 505.31,473.40 506.30,473.61 C507.29,473.83 508.29,474.04 509.28,474.24 C510.28,474.45 511.28,474.65 512.28,474.84 C513.28,475.03 514.28,475.22 515.28,475.41 C516.28,475.59 517.29,475.77 518.29,475.94 C519.30,476.11 520.30,476.28 521.31,476.45 C522.32,476.61 523.33,476.77 524.34,476.93 C525.35,477.09 526.36,477.24 527.37,477.39 C528.38,477.54 529.39,477.68 530.40,477.83 C531.42,477.97 532.43,478.11 533.44,478.24 C534.46,478.38 535.47,478.51 536.49,478.64 C537.50,478.77 538.52,478.90 539.53,479.02 C540.55,479.15 541.56,479.27 542.58,479.39 C543.59,479.52 544.61,479.64 545.62,479.75 C546.63,479.87 547.65,479.99 548.66,480.10 C549.68,480.21 550.69,480.33 551.71,480.44 C552.72,480.55 553.73,480.66 554.75,480.76 C555.76,480.87 556.77,480.97 557.79,481.08 C558.80,481.18 559.81,481.28 560.83,481.39 C561.84,481.49 562.85,481.58 563.87,481.68 C564.88,481.78 565.89,481.88 566.90,481.97 C567.92,482.06 568.93,482.16 569.94,482.25 C570.95,482.34 571.97,482.43 572.98,482.52 C573.99,482.61 575.00,482.69 576.02,482.78 C577.03,482.86 578.04,482.95 579.05,483.03 C580.06,483.11 581.08,483.20 582.09,483.28 C583.10,483.36 584.11,483.43 585.12,483.51 C586.14,483.59 587.15,483.67 588.16,483.74 C589.17,483.82 590.18,483.89 591.19,483.96 C592.21,484.04 593.22,484.11 594.23,484.18 C595.24,484.25 596.25,484.32 597.27,484.39 C598.28,484.45 599.29,484.52 600.30,484.59 C601.31,484.65 602.32,484.72 603.34,484.78 C604.35,484.84 605.36,484.91 606.37,484.97 C607.38,485.03 608.40,485.09 609.41,485.15 C610.42,485.21 611.43,485.27 612.44,485.33 C613.46,485.39 614.47,485.44 615.48,485.50 C616.49,485.55 617.51,485.61 618.52,485.66 C619.53,485.72 620.54,485.77 621.56,485.83 C622.57,485.88 623.58,485.93 624.59,485.98 C625.61,486.03 626.62,486.08 627.63,486.13 C628.65,486.18 629.66,486.23 630.67,486.28 C631.68,486.33 632.70,486.38 633.71,486.42 C634.73,486.47 635.74,486.52 636.75,486.56 C637.77,486.61 638.78,486.65 639.79,486.70 C640.81,486.74 641.82,486.79 642.84,486.83 C643.85,486.87 644.87,486.92 645.88,486.96 C646.90,487.00 647.91,487.05 648.93,487.09 C649.94,487.13 650.96,487.17 651.97,487.21 C652.99,487.25 654.00,487.29 655.02,487.33 C656.03,487.37 657.05,487.41 658.07,487.45 C659.08,487.49 660.10,487.53 661.12,487.57 C662.13,487.61 663.15,487.65 664.17,487.69 C665.19,487.72 666.20,487.76 667.22,487.80 C668.24,487.84 669.26,487.88 670.27,487.91 C671.29,487.95 672.31,487.99 673.33,488.03 C674.35,488.06 675.37,488.10 676.39,488.14 C677.41,488.18 678.43,488.21 679.45,488.25 C680.47,488.29 681.49,488.32 682.51,488.36" stroke="#7E2F8E"/>
<path d="M405.70,452.50 C405.80,451.67 405.92,450.87 406.01,450.02 C406.11,449.13 406.19,448.21 406.28,447.27 C406.37,446.29 406.45,445.29 406.55,444.28 C406.65,443.24 406.74,442.18 406.86,441.11 C406.99,440.02 407.12,438.92 407.28,437.82 C407.44,436.70 407.62,435.57 407.83,434.45 C408.05,433.32 408.29,432.18 408.57,431.06 C408.85,429.94 409.17,428.82 409.53,427.73 C409.89,426.66 410.28,425.60 410.74,424.60 C411.17,423.64 411.65,422.68 412.20,421.82 C412.72,421.00 413.29,420.20 413.93,419.54 C414.55,418.90 415.23,418.33 415.96,417.90 C416.67,417.47 417.46,417.17 418.26,416.96 C419.06,416.76 419.92,416.68 420.76,416.67 C421.63,416.67 422.52,416.79 423.39,416.96 C424.30,417.14 425.20,417.42 426.09,417.74 C426.99,418.08 427.89,418.49 428.77,418.95 C429.65,419.41 430.52,419.94 431.36,420.51 C432.19,421.07 433.01,421.70 433.79,422.34 C434.57,422.99 435.32,423.69 436.05,424.40 C436.79,425.11 437.49,425.86 438.19,426.62 C438.89,427.38 439.56,428.16 440.24,428.95 C440.91,429.74 441.57,430.55 442.24,431.35 C442.90,432.15 443.56,432.97 444.23,433.76 C444.90,434.56 445.57,435.36 446.26,436.14 C446.95,436.92 447.65,437.68 448.36,438.43 C449.08,439.17 449.81,439.90 450.55,440.61 C451.30,441.32 452.06,442.02 452.83,442.69 C453.59,443.37 454.38,444.03 455.17,444.68 C455.96,445.32 456.77,445.95 457.58,446.57 C458.39,447.19 459.22,447.79 460.05,448.37 C460.88,448.96 461.72,449.54 462.57,450.10 C463.42,450.66 464.28,451.20 465.14,451.74 C466.00,452.28 466.86,452.80 467.74,453.31 C468.61,453.82 469.49,454.32 470.37,454.81 C471.25,455.30 472.14,455.77 473.04,456.24 C473.93,456.71 474.83,457.16 475.73,457.61 C476.63,458.05 477.54,458.48 478.45,458.91 C479.37,459.33 480.28,459.75 481.20,460.15 C482.12,460.55 483.05,460.95 483.98,461.33 C484.91,461.72 485.84,462.09 486.78,462.46 C487.72,462.82 488.66,463.18 489.61,463.53 C490.55,463.87 491.50,464.21 492.45,464.54 C493.40,464.87 494.36,465.20 495.32,465.51 C496.28,465.83 497.24,466.13 498.20,466.43 C499.17,466.73 500.14,467.02 501.11,467.30 C502.08,467.59 503.05,467.87 504.03,468.14 C505.01,468.41 505.99,468.67 506.97,468.93 C507.95,469.18 508.93,469.43 509.92,469.68 C510.90,469.92 511.89,470.16 512.88,470.39 C513.87,470.62 514.86,470.85 515.86,471.07 C516.85,471.29 517.85,471.51 518.84,471.72 C519.84,471.93 520.84,472.13 521.84,472.33 C522.84,472.53 523.84,472.73 524.84,472.92 C525.84,473.11 526.84,473.30 527.85,473.49 C528.85,473.67 529.85,473.85 530.86,474.03 C531.86,474.20 532.87,474.38 533.87,474.55 C534.88,474.72 535.89,474.88 536.89,475.05 C537.90,475.21 538.91,475.37 539.91,475.53 C540.92,475.69 541.93,475.85 542.93,476.00 C543.94,476.16 544.95,476.31 545.95,476.46 C546.96,476.60 547.97,476.75 548.98,476.89 C549.98,477.04 550.99,477.18 552.00,477.32 C553.01,477.46 554.01,477.60 555.02,477.73 C556.03,477.86 557.04,478.00 558.04,478.13 C559.05,478.26 560.06,478.38 561.07,478.51 C562.08,478.64 563.08,478.76 564.09,478.88 C565.10,479.00 566.11,479.12 567.12,479.24 C568.12,479.36 569.13,479.47 570.14,479.59 C571.15,479.70 572.16,479.81 573.17,479.92 C574.18,480.03 575.19,480.14 576.19,480.24 C577.20,480.35 578.21,480.45 579.22,480.55 C580.23,480.66 581.24,480.76 582.25,480.85 C583.26,480.95 584.27,481.05 585.28,481.15 C586.29,481.24 587.30,481.33 588.31,481.43 C589.31,481.52 590.32,481.61 591.33,481.70 C592.34,481.78 593.35,481.87 594.36,481.96 C595.37,482.04 596.38,482.13 597.39,482.21 C598.41,482.29 599.42,482.37 600.43,482.45 C601.44,482.53 602.45,482.61 603.46,482.69 C604.47,482.77 605.48,482.84 606.49,482.92 C607.50,482.99 608.51,483.07 609.52,483.14 C610.53,483.21 611.54,483.28 612.56,483.35 C613.57,483.42 614.58,483.49 615.59,483.56 C616.60,483.62 617.61,483.69 618.62,483.76 C619.64,483.82 620.65,483.89 621.66,483.95 C622.67,484.01 623.68,484.08 624.70,484.14 C625.71,484.20 626.72,484.26 627.73,484.32 C628.74,484.38 629.76,484.44 630.77,484.50 C631.78,484.56 632.80,484.62 633.81,484.67 C634.82,484.73 635.83,484.79 636.85,484.84 C637.86,484.90 638.87,484.95 639.89,485.01 C640.90,485.06 641.91,485.12 642.93,485.17 C643.94,485.22 644.95,485.27 645.97,485.33 C646.98,485.38 647.99,485.43 649.01,485.48 C650.02,485.53 651.03,485.58 652.05,485.64 C653.06,485.69 654.08,485.74 655.09,485.79 C656.11,485.84 657.12,485.89 658.13,485.94 C659.15,485.99 660.16,486.04 661.18,486.08 C662.19,486.13 663.21,486.18 664.22,486.23 C665.24,486.28 666.25,486.33 667.27,486.38 C668.28,486.43 669.30,486.48 670.31,486.52 C671.33,486.57 672.34,486.62 673.36,486.67 C674.38,486.72 675.39,486.77 676.41,486.82 C677.42,486.87 678.44,486.92 679.46,486.96 C680.47,487.01 681.49,487.06 682.50,487.11" stroke="#77AC30"/>
<path d="M405.70,473.90 C405.60,472.70 405.47,471.48 405.39,470.29 C405.32,469.13 405.26,467.98 405.23,466.85 C405.20,465.74 405.18,464.64 405.19,463.56 C405.20,462.49 405.23,461.44 405.27,460.40 C405.31,459.37 405.37,458.36 405.45,457.35 C405.52,456.36 405.61,455.37 405.72,454.40 C405.82,453.43 405.93,452.47 406.06,451.52 C406.18,450.57 406.32,449.63 406.46,448.69 C406.61,447.76 406.76,446.83 406.92,445.90 C407.08,444.98 407.24,444.06 407.41,443.14 C407.58,442.21 407.75,441.29 407.92,440.37 C408.10,439.44 408.27,438.51 408.45,437.58 C408.62,436.64 408.80,435.70 408.97,434.75 C409.14,433.79 409.31,432.83 409.47,431.87 C409.64,430.89 409.80,429.90 409.95,428.91 C410.10,427.90 410.25,426.88 410.38,425.85 C410.52,424.81 410.64,423.75 410.77,422.69 C410.90,421.62 411.01,420.54 411.14,419.45 C411.28,418.37 411.41,417.27 411.56,416.18 C411.72,415.10 411.88,414.01 412.08,412.93 C412.27,411.85 412.49,410.78 412.74,409.73 C413.00,408.68 413.28,407.64 413.62,406.63 C413.95,405.63 414.31,404.63 414.74,403.68 C415.17,402.73 415.64,401.79 416.18,400.92 C416.72,400.06 417.30,399.20 417.95,398.48 C418.57,397.80 419.25,397.13 419.98,396.70 C420.67,396.30 421.44,395.98 422.19,395.94 C422.95,395.91 423.76,396.18 424.50,396.50 C425.31,396.85 426.07,397.47 426.82,398.01 C427.59,398.57 428.34,399.19 429.08,399.80 C429.82,400.42 430.54,401.07 431.26,401.73 C431.98,402.39 432.68,403.08 433.38,403.78 C434.07,404.48 434.76,405.20 435.44,405.93 C436.12,406.66 436.79,407.41 437.45,408.17 C438.12,408.94 438.77,409.71 439.42,410.50 C440.08,411.28 440.72,412.08 441.37,412.88 C442.01,413.69 442.65,414.50 443.29,415.31 C443.93,416.13 444.56,416.96 445.20,417.78 C445.84,418.61 446.47,419.44 447.10,420.27 C447.74,421.10 448.38,421.93 449.01,422.76 C449.65,423.59 450.29,424.42 450.94,425.24 C451.58,426.06 452.23,426.88 452.88,427.70 C453.54,428.51 454.19,429.32 454.86,430.11 C455.52,430.91 456.19,431.70 456.87,432.48 C457.55,433.26 458.24,434.02 458.94,434.78 C459.63,435.53 460.34,436.27 461.05,436.99 C461.77,437.71 462.50,438.42 463.23,439.12 C463.97,439.81 464.72,440.49 465.47,441.15 C466.23,441.82 466.99,442.47 467.77,443.11 C468.54,443.74 469.33,444.36 470.12,444.97 C470.91,445.58 471.71,446.18 472.52,446.76 C473.33,447.34 474.15,447.91 474.98,448.47 C475.80,449.03 476.64,449.57 477.48,450.10 C478.32,450.64 479.17,451.16 480.03,451.67 C480.88,452.17 481.75,452.67 482.62,453.15 C483.49,453.64 484.37,454.11 485.25,454.58 C486.14,455.04 487.03,455.49 487.93,455.93 C488.82,456.37 489.73,456.80 490.64,457.22 C491.55,457.64 492.46,458.05 493.38,458.46 C494.30,458.86 495.23,459.25 496.16,459.63 C497.09,460.01 498.03,460.38 498.97,460.75 C499.91,461.11 500.86,461.46 501.81,461.81 C502.76,462.16 503.71,462.49 504.67,462.82 C505.63,463.15 506.60,463.48 507.56,463.79 C508.53,464.10 509.50,464.41 510.47,464.71 C511.45,465.01 512.42,465.30 513.40,465.58 C514.38,465.87 515.37,466.15 516.35,466.42 C517.34,466.69 518.33,466.96 519.32,467.22 C520.31,467.48 521.30,467.73 522.29,467.98 C523.29,468.23 524.28,468.47 525.28,468.71 C526.28,468.94 527.28,469.18 528.28,469.40 C529.28,469.63 530.28,469.85 531.28,470.07 C532.29,470.29 533.29,470.51 534.29,470.72 C535.30,470.93 536.30,471.13 537.30,471.34 C538.31,471.54 539.31,471.74 540.31,471.94 C541.32,472.13 542.32,472.33 543.33,472.52 C544.33,472.71 545.33,472.89 546.34,473.08 C547.34,473.26 548.34,473.44 549.35,473.62 C550.35,473.79 551.36,473.97 552.36,474.14 C553.36,474.31 554.37,474.48 555.37,474.64 C556.37,474.81 557.38,474.97 558.38,475.13 C559.39,475.29 560.39,475.45 561.39,475.60 C562.40,475.76 563.40,475.91 564.40,476.05 C565.41,476.20 566.41,476.35 567.42,476.49 C568.42,476.64 569.42,476.78 570.43,476.91 C571.43,477.05 572.43,477.19 573.44,477.32 C574.44,477.46 575.45,477.59 576.45,477.71 C577.46,477.84 578.46,477.97 579.46,478.09 C580.47,478.22 581.47,478.34 582.48,478.46 C583.48,478.58 584.49,478.69 585.49,478.81 C586.50,478.92 587.50,479.04 588.50,479.15 C589.51,479.26 590.51,479.37 591.52,479.48 C592.52,479.58 593.53,479.69 594.53,479.79 C595.54,479.89 596.55,479.99 597.55,480.09 C598.56,480.19 599.56,480.29 600.57,480.39 C601.57,480.48 602.58,480.58 603.59,480.67 C604.59,480.76 605.60,480.85 606.60,480.94 C607.61,481.03 608.62,481.12 609.62,481.20 C610.63,481.29 611.64,481.38 612.64,481.46 C613.65,481.54 614.66,481.62 615.67,481.71 C616.67,481.79 617.68,481.86 618.69,481.94 C619.70,482.02 620.70,482.10 621.71,482.17 C622.72,482.25 623.73,482.32 624.74,482.40 C625.75,482.47 626.75,482.54 627.76,482.61 C628.77,482.69 629.78,482.76 630.79,482.82 C631.80,482.89 632.81,482.96 633.82,483.03 C634.83,483.10 635.84,483.16 636.85,483.23 C637.86,483.30 638.87,483.36 639.88,483.43 C640.89,483.49 641.90,483.55 642.92,483.62 C643.93,483.68 644.94,483.74 645.95,483.80 C646.96,483.87 647.97,483.93 648.99,483.99 C650.00,484.05 651.01,484.11 652.03,484.17 C653.04,484.23 654.05,484.29 655.07,484.35 C656.08,484.41 657.09,484.47 658.11,484.53 C659.12,484.59 660.14,484.65 661.15,484.70 C662.17,484.76 663.18,484.82 664.20,484.88 C665.21,484.94 666.23,485.00 667.24,485.05 C668.26,485.11 669.28,485.17 670.29,485.23 C671.31,485.29 672.33,485.35 673.34,485.41 C674.36,485.46 675.38,485.52 676.40,485.58 C677.42,485.64 678.43,485.70 679.45,485.76 C680.47,485.82 681.49,485.88 682.51,485.94" stroke="#4DBEEE"/>
<path d="M405.50,516.50 C405.56,515.49 405.63,514.47 405.69,513.46 C405.75,512.44 405.82,511.43 405.88,510.41 C405.94,509.40 406.01,508.39 406.07,507.38 C406.14,506.37 406.20,505.35 406.27,504.34 C406.33,503.33 406.39,502.32 406.46,501.31 C406.52,500.30 406.59,499.29 406.65,498.29 C406.72,497.28 406.78,496.27 406.85,495.26 C406.92,494.25 406.98,493.25 407.05,492.24 C407.11,491.23 407.18,490.22 407.25,489.22 C407.31,488.21 407.38,487.21 407.45,486.20 C407.51,485.19 407.58,484.19 407.65,483.18 C407.71,482.18 407.78,481.17 407.85,480.17 C407.92,479.16 407.98,478.16 408.05,477.16 C408.12,476.15 408.19,475.15 408.25,474.14 C408.32,473.14 408.39,472.14 408.46,471.13 C408.53,470.13 408.60,469.12 408.66,468.12 C408.73,467.12 408.80,466.11 408.87,465.11 C408.94,464.11 409.01,463.10 409.08,462.10 C409.15,461.10 409.22,460.09 409.29,459.09 C409.35,458.09 409.42,457.08 409.49,456.08 C409.56,455.08 409.63,454.07 409.70,453.07 C409.77,452.06 409.84,451.06 409.91,450.06 C409.98,449.05 410.05,448.05 410.13,447.04 C410.20,446.04 410.27,445.03 410.34,444.03 C410.41,443.02 410.48,442.02 410.55,441.01 C410.62,440.01 410.69,439.00 410.76,438.00 C410.83,436.99 410.91,435.98 410.98,434.98 C411.05,433.97 411.12,432.96 411.19,431.95 C411.26,430.95 411.34,429.94 411.41,428.93 C411.48,427.92 411.55,426.91 411.62,425.90 C411.70,424.89 411.77,423.88 411.84,422.87 C411.91,421.86 411.98,420.85 412.06,419.84 C412.13,418.83 412.20,417.82 412.27,416.80 C412.35,415.79 412.42,414.78 412.49,413.76 C412.57,412.75 412.64,411.73 412.71,410.72 C412.79,409.71 412.87,408.69 412.95,407.68 C413.03,406.66 413.12,405.64 413.21,404.63 C413.30,403.61 413.40,402.60 413.51,401.59 C413.62,400.57 413.74,399.56 413.86,398.55 C413.99,397.53 414.13,396.52 414.28,395.51 C414.43,394.50 414.60,393.49 414.78,392.49 C414.95,391.48 415.15,390.47 415.36,389.47 C415.57,388.46 415.80,387.46 416.04,386.46 C416.29,385.46 416.56,384.46 416.85,383.47 C417.13,382.47 417.44,381.48 417.77,380.49 C418.11,379.50 418.45,378.50 418.84,377.53 C419.22,376.57 419.60,375.56 420.08,374.68 C420.54,373.85 421.01,372.98 421.62,372.37 C422.19,371.80 422.86,371.32 423.57,371.07 C424.27,370.82 425.08,370.78 425.82,370.87 C426.59,370.95 427.39,371.24 428.11,371.60 C428.85,371.98 429.55,372.52 430.20,373.11 C430.89,373.72 431.51,374.47 432.10,375.23 C432.72,376.03 433.29,376.91 433.85,377.80 C434.42,378.72 434.95,379.69 435.48,380.66 C436.02,381.65 436.53,382.66 437.06,383.66 C437.57,384.65 438.08,385.65 438.60,386.63 C439.12,387.60 439.63,388.56 440.15,389.50 C440.67,390.43 441.19,391.36 441.71,392.27 C442.23,393.17 442.75,394.07 443.28,394.95 C443.80,395.83 444.33,396.69 444.86,397.56 C445.39,398.41 445.93,399.26 446.47,400.10 C447.00,400.93 447.54,401.76 448.09,402.58 C448.63,403.40 449.18,404.22 449.73,405.03 C450.28,405.84 450.84,406.64 451.40,407.44 C451.97,408.25 452.53,409.05 453.11,409.84 C453.68,410.64 454.26,411.44 454.84,412.23 C455.43,413.03 456.02,413.83 456.61,414.62 C457.21,415.42 457.82,416.21 458.42,417.01 C459.04,417.80 459.65,418.59 460.27,419.38 C460.90,420.17 461.52,420.96 462.16,421.74 C462.80,422.52 463.44,423.31 464.09,424.08 C464.74,424.86 465.39,425.63 466.05,426.40 C466.72,427.17 467.39,427.93 468.06,428.69 C468.74,429.44 469.42,430.19 470.11,430.94 C470.80,431.68 471.50,432.42 472.21,433.16 C472.91,433.89 473.62,434.61 474.34,435.33 C475.06,436.04 475.79,436.75 476.52,437.45 C477.26,438.15 478.00,438.84 478.75,439.52 C479.50,440.20 480.26,440.88 481.02,441.54 C481.79,442.20 482.56,442.85 483.34,443.49 C484.12,444.13 484.91,444.76 485.71,445.37 C486.51,445.99 487.31,446.59 488.13,447.18 C488.94,447.77 489.76,448.35 490.59,448.92 C491.42,449.48 492.26,450.04 493.11,450.57 C493.95,451.11 494.81,451.63 495.67,452.14 C496.54,452.65 497.41,453.14 498.29,453.61 C499.17,454.09 500.06,454.55 500.96,455.00 C501.85,455.45 502.76,455.89 503.67,456.31 C504.58,456.73 505.50,457.14 506.42,457.54 C507.34,457.94 508.27,458.33 509.21,458.70 C510.14,459.08 511.08,459.44 512.03,459.80 C512.97,460.15 513.92,460.49 514.88,460.83 C515.83,461.16 516.79,461.49 517.75,461.80 C518.72,462.12 519.68,462.43 520.65,462.73 C521.62,463.03 522.59,463.33 523.57,463.61 C524.54,463.90 525.52,464.18 526.50,464.45 C527.48,464.73 528.46,465.00 529.44,465.26 C530.42,465.52 531.40,465.78 532.39,466.04 C533.37,466.29 534.35,466.54 535.34,466.79 C536.32,467.03 537.31,467.28 538.29,467.51 C539.28,467.75 540.26,467.99 541.25,468.22 C542.24,468.45 543.22,468.67 544.21,468.90 C545.20,469.12 546.19,469.34 547.18,469.55 C548.16,469.77 549.15,469.98 550.14,470.19 C551.13,470.39 552.12,470.60 553.11,470.80 C554.10,471.00 555.09,471.20 556.09,471.39 C557.08,471.58 558.07,471.77 559.06,471.96 C560.05,472.15 561.05,472.33 562.04,472.51 C563.03,472.69 564.03,472.87 565.02,473.04 C566.01,473.22 567.01,473.39 568.00,473.56 C569.00,473.72 569.99,473.89 570.99,474.05 C571.98,474.21 572.98,474.37 573.98,474.53 C574.97,474.68 575.97,474.83 576.97,474.98 C577.96,475.13 578.96,475.28 579.96,475.43 C580.96,475.57 581.96,475.71 582.95,475.85 C583.95,475.99 584.95,476.13 585.95,476.26 C586.95,476.39 587.95,476.53 588.95,476.65 C589.95,476.78 590.95,476.91 591.95,477.03 C592.95,477.16 593.95,477.28 594.95,477.40 C595.95,477.52 596.96,477.64 597.96,477.75 C598.96,477.87 599.96,477.98 600.96,478.09 C601.97,478.20 602.97,478.31 603.97,478.42 C604.97,478.53 605.98,478.63 606.98,478.73 C607.98,478.84 608.99,478.94 609.99,479.04 C610.99,479.14 612.00,479.23 613.00,479.33 C614.01,479.43 615.01,479.52 616.02,479.61 C617.02,479.70 618.03,479.80 619.03,479.89 C620.04,479.97 621.04,480.06 622.05,480.15 C623.05,480.24 624.06,480.32 625.06,480.40 C626.07,480.49 627.08,480.57 628.08,480.65 C629.09,480.73 630.10,480.81 631.10,480.89 C632.11,480.97 633.12,481.05 634.12,481.12 C635.13,481.20 636.14,481.27 637.14,481.35 C638.15,481.42 639.16,481.50 640.16,481.57 C641.17,481.64 642.18,481.71 643.19,481.78 C644.19,481.85 645.20,481.92 646.21,481.99 C647.22,482.06 648.22,482.13 649.23,482.20 C650.24,482.27 651.25,482.33 652.26,482.40 C653.26,482.47 654.27,482.53 655.28,482.60 C656.29,482.66 657.30,482.73 658.30,482.79 C659.31,482.86 660.32,482.92 661.33,482.99 C662.34,483.05 663.35,483.12 664.35,483.18 C665.36,483.24 666.37,483.31 667.38,483.37 C668.39,483.43 669.40,483.50 670.40,483.56 C671.41,483.63 672.42,483.69 673.43,483.75 C674.44,483.82 675.45,483.88 676.45,483.94 C677.46,484.01 678.47,484.07 679.48,484.14 C680.49,484.20 681.49,484.27 682.50,484.33" stroke="#A2142F"/>
</g>
<rect x="402.7" y="322.4" width="279.80" height="236.50" fill="none" stroke="#606060" stroke-width="1.15"/>
<path d="M402.70,558.9v-2.8 M402.70,322.4v2.8 M458.66,558.9v-2.8 M458.66,322.4v2.8 M514.62,558.9v-2.8 M514.62,322.4v2.8 M570.58,558.9v-2.8 M570.58,322.4v2.8 M626.54,558.9v-2.8 M626.54,322.4v2.8 M682.50,558.9v-2.8 M682.50,322.4v2.8 M402.7,558.90h2.8 M682.5,558.90h-2.8 M402.7,511.60h2.8 M682.5,511.60h-2.8 M402.7,464.30h2.8 M682.5,464.30h-2.8 M402.7,417.00h2.8 M682.5,417.00h-2.8 M402.7,369.70h2.8 M682.5,369.70h-2.8 M402.7,322.40h2.8 M682.5,322.40h-2.8" stroke="#606060" stroke-width="1" fill="none"/>
<g font-family="Liberation Sans" font-size="14.6" fill="#111" stroke="#111" stroke-width="0.22"><text x="398.64" y="575.35">0</text><text x="448.51" y="575.35">0.2</text><text x="504.47" y="575.35">0.4</text><text x="560.43" y="575.35">0.6</text><text x="616.39" y="575.35">0.8</text><path d="M683.77,575.35 L682.31,575.35 L682.31,567.61 C681.65,568.20 680.78,568.34 680.05,568.34 L680.05,567.25 C681.36,567.17 682.09,566.44 682.46,565.13 L683.77,565.13 Z"/><text x="391.68" y="564.80">0</text><text x="379.51" y="517.50">0.5</text><path d="M397.01,470.20 L395.55,470.20 L395.55,462.46 C394.89,463.05 394.02,463.19 393.29,463.19 L393.29,462.10 C394.60,462.02 395.33,461.29 395.70,459.98 L397.01,459.98 Z"/><path d="M384.84,422.90 L383.38,422.90 L383.38,415.16 C382.72,415.75 381.84,415.89 381.11,415.89 L381.11,414.80 C382.43,414.72 383.16,413.99 383.52,412.68 L384.84,412.68 Z"/><text x="387.62" y="422.90">.5</text><text x="391.68" y="375.60">2</text><text x="379.51" y="328.30">2.5</text></g>
<text transform="translate(371.20,440.65) rotate(-90) scale(0.9,1)" text-anchor="middle" font-family="Liberation Sans" font-size="16" fill="#1a1a1a">G</text>
<path d="M540.70,580.40 Q542.10,580.40 542.90,582.60 L546.50,591.80 M543.30,586.30 L538.90,591.90" fill="none" stroke="#222" stroke-width="1.15" stroke-linecap="round"/>
<text x="530.00" y="616.70" text-anchor="middle" font-family="Liberation Serif" font-size="15.6" textLength="19.19" lengthAdjust="spacingAndGlyphs" fill="#000">(d)</text>
<g fill="#1a1a1a"><line x1="579.7" x2="612.5" y1="342.40" y2="342.40" stroke="#0072BD" stroke-width="2.6"/><text x="615.5" y="346.90" font-family="Liberation Serif" font-style="italic" font-size="13.8">&#964;</text><line x1="624.9" x2="634.6" y1="341.70" y2="341.70" stroke="#222" stroke-width="0.85"/><line x1="624.9" x2="634.6" y1="344.60" y2="344.60" stroke="#222" stroke-width="0.85"/><text x="640" y="346.90" font-family="Liberation Serif" font-size="13.8">0</text><line x1="579.7" x2="612.5" y1="356.85" y2="356.85" stroke="#D95319" stroke-width="2.6"/><text x="615.5" y="361.35" font-family="Liberation Serif" font-style="italic" font-size="13.8">&#964;</text><line x1="624.9" x2="634.6" y1="356.15" y2="356.15" stroke="#222" stroke-width="0.85"/><line x1="624.9" x2="634.6" y1="359.05" y2="359.05" stroke="#222" stroke-width="0.85"/><text x="640" y="361.35" font-family="Liberation Serif" font-size="13.8">0.05</text><line x1="579.7" x2="612.5" y1="371.30" y2="371.30" stroke="#EDB120" stroke-width="2.6"/><text x="615.5" y="375.80" font-family="Liberation Serif" font-style="italic" font-size="13.8">&#964;</text><line x1="624.9" x2="634.6" y1="370.60" y2="370.60" stroke="#222" stroke-width="0.85"/><line x1="624.9" x2="634.6" y1="373.50" y2="373.50" stroke="#222" stroke-width="0.85"/><text x="640" y="375.80" font-family="Liberation Serif" font-size="13.8">0.06</text><line x1="579.7" x2="612.5" y1="385.75" y2="385.75" stroke="#7E2F8E" stroke-width="2.6"/><text x="615.5" y="390.25" font-family="Liberation Serif" font-style="italic" font-size="13.8">&#964;</text><line x1="624.9" x2="634.6" y1="385.05" y2="385.05" stroke="#222" stroke-width="0.85"/><line x1="624.9" x2="634.6" y1="387.95" y2="387.95" stroke="#222" stroke-width="0.85"/><text x="640" y="390.25" font-family="Liberation Serif" font-size="13.8">0.07</text><line x1="579.7" x2="612.5" y1="400.20" y2="400.20" stroke="#77AC30" stroke-width="2.6"/><text x="615.5" y="404.70" font-family="Liberation Serif" font-style="italic" font-size="13.8">&#964;</text><line x1="624.9" x2="634.6" y1="399.50" y2="399.50" stroke="#222" stroke-width="0.85"/><line x1="624.9" x2="634.6" y1="402.40" y2="402.40" stroke="#222" stroke-width="0.85"/><text x="640" y="404.70" font-family="Liberation Serif" font-size="13.8">0.08</text><line x1="579.7" x2="612.5" y1="414.65" y2="414.65" stroke="#4DBEEE" stroke-width="2.6"/><text x="615.5" y="419.15" font-family="Liberation Serif" font-style="italic" font-size="13.8">&#964;</text><line x1="624.9" x2="634.6" y1="413.95" y2="413.95" stroke="#222" stroke-width="0.85"/><line x1="624.9" x2="634.6" y1="416.85" y2="416.85" stroke="#222" stroke-width="0.85"/><text x="640" y="419.15" font-family="Liberation Serif" font-size="13.8">0.09</text><line x1="579.7" x2="612.5" y1="429.10" y2="429.10" stroke="#A2142F" stroke-width="2.6"/><text x="615.5" y="433.60" font-family="Liberation Serif" font-style="italic" font-size="13.8">&#964;</text><line x1="624.9" x2="634.6" y1="428.40" y2="428.40" stroke="#222" stroke-width="0.85"/><line x1="624.9" x2="634.6" y1="431.30" y2="431.30" stroke="#222" stroke-width="0.85"/><text x="640" y="433.60" font-family="Liberation Serif" font-size="13.8">0.10</text></g>
</svg>
</body></html>
